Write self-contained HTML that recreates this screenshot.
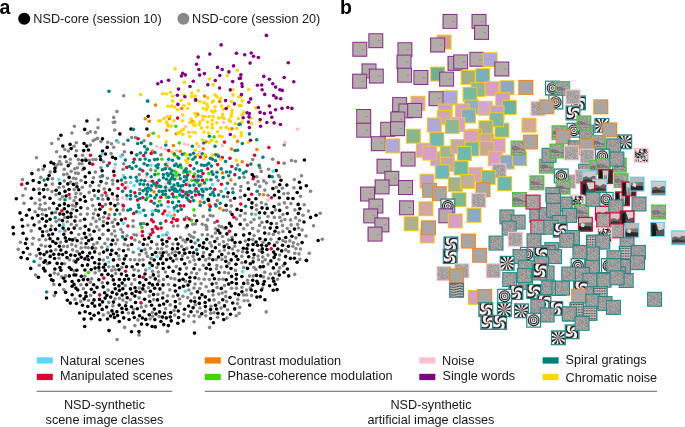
<!DOCTYPE html>
<html><head><meta charset="utf-8"><style>
html,body{margin:0;padding:0;background:#fff;}
svg{display:block;will-change:transform;}
text{font-family:"Liberation Sans",sans-serif;fill:#181818;font-size:12.7px;}
.lb{font-weight:bold;font-size:19.5px;fill:#000;}
</style></head><body>
<svg width="685" height="427" viewBox="0 0 685 427">
<rect width="685" height="427" fill="#fff"/>
<defs>
<pattern id="nz" x="0" y="0" width="12" height="12" patternUnits="userSpaceOnUse"><rect x="0" y="0" width="1" height="1" fill="#fff" fill-opacity="0.1"/><rect x="1" y="0" width="1" height="1" fill="#000" fill-opacity="0.09"/><rect x="3" y="0" width="1" height="1" fill="#000" fill-opacity="0.09"/><rect x="4" y="0" width="1" height="1" fill="#fff" fill-opacity="0.1"/><rect x="5" y="0" width="1" height="1" fill="#fff" fill-opacity="0.1"/><rect x="6" y="0" width="1" height="1" fill="#000" fill-opacity="0.09"/><rect x="7" y="0" width="1" height="1" fill="#fff" fill-opacity="0.1"/><rect x="8" y="0" width="1" height="1" fill="#000" fill-opacity="0.09"/><rect x="9" y="0" width="1" height="1" fill="#fff" fill-opacity="0.1"/><rect x="10" y="0" width="1" height="1" fill="#000" fill-opacity="0.09"/><rect x="11" y="0" width="1" height="1" fill="#000" fill-opacity="0.09"/><rect x="0" y="1" width="1" height="1" fill="#fff" fill-opacity="0.1"/><rect x="2" y="1" width="1" height="1" fill="#000" fill-opacity="0.09"/><rect x="3" y="1" width="1" height="1" fill="#000" fill-opacity="0.09"/><rect x="6" y="1" width="1" height="1" fill="#fff" fill-opacity="0.1"/><rect x="7" y="1" width="1" height="1" fill="#fff" fill-opacity="0.1"/><rect x="9" y="1" width="1" height="1" fill="#000" fill-opacity="0.09"/><rect x="11" y="1" width="1" height="1" fill="#000" fill-opacity="0.09"/><rect x="0" y="2" width="1" height="1" fill="#000" fill-opacity="0.09"/><rect x="1" y="2" width="1" height="1" fill="#000" fill-opacity="0.09"/><rect x="2" y="2" width="1" height="1" fill="#fff" fill-opacity="0.1"/><rect x="4" y="2" width="1" height="1" fill="#000" fill-opacity="0.09"/><rect x="5" y="2" width="1" height="1" fill="#fff" fill-opacity="0.1"/><rect x="7" y="2" width="1" height="1" fill="#fff" fill-opacity="0.1"/><rect x="8" y="2" width="1" height="1" fill="#fff" fill-opacity="0.1"/><rect x="9" y="2" width="1" height="1" fill="#000" fill-opacity="0.09"/><rect x="10" y="2" width="1" height="1" fill="#000" fill-opacity="0.09"/><rect x="11" y="2" width="1" height="1" fill="#000" fill-opacity="0.09"/><rect x="1" y="3" width="1" height="1" fill="#fff" fill-opacity="0.1"/><rect x="2" y="3" width="1" height="1" fill="#fff" fill-opacity="0.1"/><rect x="3" y="3" width="1" height="1" fill="#fff" fill-opacity="0.1"/><rect x="4" y="3" width="1" height="1" fill="#fff" fill-opacity="0.1"/><rect x="5" y="3" width="1" height="1" fill="#000" fill-opacity="0.09"/><rect x="8" y="3" width="1" height="1" fill="#000" fill-opacity="0.09"/><rect x="9" y="3" width="1" height="1" fill="#fff" fill-opacity="0.1"/><rect x="10" y="3" width="1" height="1" fill="#fff" fill-opacity="0.1"/><rect x="1" y="4" width="1" height="1" fill="#000" fill-opacity="0.09"/><rect x="3" y="4" width="1" height="1" fill="#000" fill-opacity="0.09"/><rect x="4" y="4" width="1" height="1" fill="#fff" fill-opacity="0.1"/><rect x="6" y="4" width="1" height="1" fill="#000" fill-opacity="0.09"/><rect x="7" y="4" width="1" height="1" fill="#fff" fill-opacity="0.1"/><rect x="8" y="4" width="1" height="1" fill="#000" fill-opacity="0.09"/><rect x="11" y="4" width="1" height="1" fill="#fff" fill-opacity="0.1"/><rect x="1" y="5" width="1" height="1" fill="#fff" fill-opacity="0.1"/><rect x="3" y="5" width="1" height="1" fill="#fff" fill-opacity="0.1"/><rect x="4" y="5" width="1" height="1" fill="#fff" fill-opacity="0.1"/><rect x="5" y="5" width="1" height="1" fill="#fff" fill-opacity="0.1"/><rect x="8" y="5" width="1" height="1" fill="#fff" fill-opacity="0.1"/><rect x="10" y="5" width="1" height="1" fill="#000" fill-opacity="0.09"/><rect x="3" y="6" width="1" height="1" fill="#000" fill-opacity="0.09"/><rect x="4" y="6" width="1" height="1" fill="#fff" fill-opacity="0.1"/><rect x="6" y="6" width="1" height="1" fill="#000" fill-opacity="0.09"/><rect x="7" y="6" width="1" height="1" fill="#fff" fill-opacity="0.1"/><rect x="8" y="6" width="1" height="1" fill="#000" fill-opacity="0.09"/><rect x="9" y="6" width="1" height="1" fill="#000" fill-opacity="0.09"/><rect x="10" y="6" width="1" height="1" fill="#000" fill-opacity="0.09"/><rect x="0" y="7" width="1" height="1" fill="#000" fill-opacity="0.09"/><rect x="1" y="7" width="1" height="1" fill="#000" fill-opacity="0.09"/><rect x="2" y="7" width="1" height="1" fill="#fff" fill-opacity="0.1"/><rect x="4" y="7" width="1" height="1" fill="#000" fill-opacity="0.09"/><rect x="5" y="7" width="1" height="1" fill="#fff" fill-opacity="0.1"/><rect x="6" y="7" width="1" height="1" fill="#fff" fill-opacity="0.1"/><rect x="10" y="7" width="1" height="1" fill="#000" fill-opacity="0.09"/><rect x="11" y="7" width="1" height="1" fill="#fff" fill-opacity="0.1"/><rect x="0" y="8" width="1" height="1" fill="#fff" fill-opacity="0.1"/><rect x="3" y="8" width="1" height="1" fill="#000" fill-opacity="0.09"/><rect x="4" y="8" width="1" height="1" fill="#000" fill-opacity="0.09"/><rect x="5" y="8" width="1" height="1" fill="#000" fill-opacity="0.09"/><rect x="6" y="8" width="1" height="1" fill="#000" fill-opacity="0.09"/><rect x="7" y="8" width="1" height="1" fill="#fff" fill-opacity="0.1"/><rect x="8" y="8" width="1" height="1" fill="#fff" fill-opacity="0.1"/><rect x="9" y="8" width="1" height="1" fill="#000" fill-opacity="0.09"/><rect x="10" y="8" width="1" height="1" fill="#000" fill-opacity="0.09"/><rect x="11" y="8" width="1" height="1" fill="#fff" fill-opacity="0.1"/><rect x="0" y="9" width="1" height="1" fill="#fff" fill-opacity="0.1"/><rect x="1" y="9" width="1" height="1" fill="#fff" fill-opacity="0.1"/><rect x="4" y="9" width="1" height="1" fill="#fff" fill-opacity="0.1"/><rect x="7" y="9" width="1" height="1" fill="#000" fill-opacity="0.09"/><rect x="0" y="10" width="1" height="1" fill="#fff" fill-opacity="0.1"/><rect x="1" y="10" width="1" height="1" fill="#fff" fill-opacity="0.1"/><rect x="2" y="10" width="1" height="1" fill="#000" fill-opacity="0.09"/><rect x="4" y="10" width="1" height="1" fill="#000" fill-opacity="0.09"/><rect x="5" y="10" width="1" height="1" fill="#000" fill-opacity="0.09"/><rect x="6" y="10" width="1" height="1" fill="#000" fill-opacity="0.09"/><rect x="7" y="10" width="1" height="1" fill="#000" fill-opacity="0.09"/><rect x="8" y="10" width="1" height="1" fill="#fff" fill-opacity="0.1"/><rect x="9" y="10" width="1" height="1" fill="#000" fill-opacity="0.09"/><rect x="10" y="10" width="1" height="1" fill="#000" fill-opacity="0.09"/><rect x="11" y="10" width="1" height="1" fill="#000" fill-opacity="0.09"/><rect x="0" y="11" width="1" height="1" fill="#000" fill-opacity="0.09"/><rect x="1" y="11" width="1" height="1" fill="#fff" fill-opacity="0.1"/><rect x="2" y="11" width="1" height="1" fill="#000" fill-opacity="0.09"/><rect x="5" y="11" width="1" height="1" fill="#000" fill-opacity="0.09"/><rect x="6" y="11" width="1" height="1" fill="#000" fill-opacity="0.09"/><rect x="7" y="11" width="1" height="1" fill="#fff" fill-opacity="0.1"/><rect x="8" y="11" width="1" height="1" fill="#fff" fill-opacity="0.1"/><rect x="9" y="11" width="1" height="1" fill="#000" fill-opacity="0.09"/></pattern>
<symbol id="fine" viewBox="0 0 15 15"><rect width="15" height="15" fill="#b8b2b2"/><path d="M0 1.5H15M0 4.5H15M0 7.5H15M0 10.5H15M0 13.5H15" stroke="#2a2626" stroke-width="0.9" stroke-dasharray="2 1"/><path d="M1.5 0V15M4.5 0V15M7.5 0V15M10.5 0V15M13.5 0V15" stroke="#f4eeee" stroke-width="0.6" stroke-dasharray="1 2"/></symbol>
<clipPath id="cp"><rect x="0" y="0" width="15" height="15"/></clipPath>
<symbol id="ring" viewBox="0 0 15 15"><rect width="15" height="15" fill="#f4eeee"/><circle cx="7.5" cy="7.5" r="6.2" fill="none" stroke="#222" stroke-width="1.3"/><circle cx="7.5" cy="7.5" r="3.9" fill="none" stroke="#222" stroke-width="1.2"/><circle cx="7.5" cy="7.5" r="1.6" fill="none" stroke="#222" stroke-width="1"/></symbol>
<symbol id="pin" viewBox="0 0 15 15"><rect width="15" height="15" fill="#f4eeee"/><g clip-path="url(#cp)"><path d="M7.50 7.50L8.40 7.68L9.19 8.21L9.77 9.05L10.05 10.13L9.98 11.36L9.49 12.63L8.59 13.82L7.29 14.83L5.63 15.53L3.69 15.84L1.57 15.65L-0.61 14.93L-3.43 8.74L-2.09 10.61L-0.49 12.00L1.26 12.90L3.02 13.30L4.67 13.26L6.10 12.82L7.24 12.08L8.02 11.13L8.42 10.09L8.45 9.07L8.12 8.18L7.50 7.50ZM7.50 7.50L7.32 8.40L6.79 9.19L5.95 9.77L4.87 10.05L3.64 9.98L2.37 9.49L1.18 8.59L0.17 7.29L-0.53 5.63L-0.84 3.69L-0.65 1.57L0.07 -0.61L6.26 -3.43L4.39 -2.09L3.00 -0.49L2.10 1.26L1.70 3.02L1.74 4.67L2.18 6.10L2.92 7.24L3.87 8.02L4.91 8.42L5.93 8.45L6.82 8.12L7.50 7.50ZM7.50 7.50L6.60 7.32L5.81 6.79L5.23 5.95L4.95 4.87L5.02 3.64L5.51 2.37L6.41 1.18L7.71 0.17L9.37 -0.53L11.31 -0.84L13.43 -0.65L15.61 0.07L18.43 6.26L17.09 4.39L15.49 3.00L13.74 2.10L11.98 1.70L10.33 1.74L8.90 2.18L7.76 2.92L6.98 3.87L6.58 4.91L6.55 5.93L6.88 6.82L7.50 7.50ZM7.50 7.50L7.68 6.60L8.21 5.81L9.05 5.23L10.13 4.95L11.36 5.02L12.63 5.51L13.82 6.41L14.83 7.71L15.53 9.37L15.84 11.31L15.65 13.43L14.93 15.61L8.74 18.43L10.61 17.09L12.00 15.49L12.90 13.74L13.30 11.98L13.26 10.33L12.82 8.90L12.08 7.76L11.13 6.98L10.09 6.58L9.07 6.55L8.18 6.88L7.50 7.50Z" fill="#2a2626"/></g></symbol>
<symbol id="star" viewBox="0 0 15 15"><rect width="15" height="15" fill="#f4eeee"/><g clip-path="url(#cp)"><path d="M7.5 7.5L18.50 7.50L17.96 10.90ZM7.5 7.5L16.40 13.97L13.97 16.40ZM7.5 7.5L10.90 17.96L7.50 18.50ZM7.5 7.5L4.10 17.96L1.03 16.40ZM7.5 7.5L-1.40 13.97L-2.96 10.90ZM7.5 7.5L-3.50 7.50L-2.96 4.10ZM7.5 7.5L-1.40 1.03L1.03 -1.40ZM7.5 7.5L4.10 -2.96L7.50 -3.50ZM7.5 7.5L10.90 -2.96L13.97 -1.40ZM7.5 7.5L16.40 1.03L17.96 4.10Z" fill="#2a2626"/></g></symbol>
<symbol id="zebra" viewBox="0 0 15 15"><rect width="15" height="15" fill="#eee8e8"/><path d="M0 1.0Q3.75 -0.2 7.5 1.0T15 1.0M0 2.9Q3.75 1.7 7.5 2.9T15 2.9M0 4.8Q3.75 3.6 7.5 4.8T15 4.8M0 6.7Q3.75 5.5 7.5 6.7T15 6.7M0 8.6Q3.75 7.4 7.5 8.6T15 8.6M0 10.5Q3.75 9.3 7.5 10.5T15 10.5M0 12.4Q3.75 11.2 7.5 12.4T15 12.4M0 14.3Q3.75 13.1 7.5 14.3T15 14.3" fill="none" stroke="#2a2626" stroke-width="0.9"/></symbol>
<symbol id="photo" viewBox="0 0 15 15"><rect width="15" height="15" fill="#d0caca"/><path d="M0 7L4 5.5L8 7.5L12 5L15 6L15 15L0 15Z" fill="#6a6464"/><path d="M0 10L6 9L15 11L15 15L0 15Z" fill="#3a3636"/><path d="M0 13L15 12.5L15 15L0 15Z" fill="#8a8484"/></symbol>
<symbol id="dark" viewBox="0 0 15 15"><rect width="15" height="15" fill="#3c3838"/><path d="M6 0L15 0L15 7L9 9Z" fill="#d8d2d0"/><path d="M0 10L15 8L15 15L0 15Z" fill="#5a5454"/><path d="M2 3L5 2L6 15L1 15Z" fill="#151313"/></symbol>
<symbol id="bw" viewBox="0 0 15 15"><rect width="15" height="15" fill="#ece6e6"/><path d="M6 0h1v1h-1zM10 0h1v1h-1zM11 0h1v1h-1zM12 0h1v1h-1zM0 1h1v1h-1zM5 1h1v1h-1zM6 1h1v1h-1zM8 1h1v1h-1zM9 1h1v1h-1zM10 1h1v1h-1zM11 1h1v1h-1zM13 1h1v1h-1zM5 2h1v1h-1zM10 2h1v1h-1zM11 2h1v1h-1zM12 2h1v1h-1zM13 2h1v1h-1zM0 3h1v1h-1zM2 3h1v1h-1zM5 3h1v1h-1zM6 3h1v1h-1zM10 3h1v1h-1zM11 3h1v1h-1zM14 3h1v1h-1zM0 4h1v1h-1zM1 4h1v1h-1zM4 4h1v1h-1zM5 4h1v1h-1zM6 4h1v1h-1zM7 4h1v1h-1zM9 4h1v1h-1zM11 4h1v1h-1zM12 4h1v1h-1zM14 4h1v1h-1zM1 5h1v1h-1zM2 5h1v1h-1zM3 5h1v1h-1zM4 5h1v1h-1zM7 5h1v1h-1zM9 5h1v1h-1zM10 5h1v1h-1zM13 5h1v1h-1zM0 6h1v1h-1zM1 6h1v1h-1zM3 6h1v1h-1zM4 6h1v1h-1zM5 6h1v1h-1zM6 6h1v1h-1zM8 6h1v1h-1zM10 6h1v1h-1zM1 7h1v1h-1zM2 7h1v1h-1zM5 7h1v1h-1zM6 7h1v1h-1zM9 7h1v1h-1zM13 7h1v1h-1zM14 7h1v1h-1zM0 8h1v1h-1zM2 8h1v1h-1zM4 8h1v1h-1zM7 8h1v1h-1zM8 8h1v1h-1zM10 8h1v1h-1zM11 8h1v1h-1zM0 9h1v1h-1zM2 9h1v1h-1zM3 9h1v1h-1zM4 9h1v1h-1zM5 9h1v1h-1zM6 9h1v1h-1zM7 9h1v1h-1zM8 9h1v1h-1zM10 9h1v1h-1zM11 9h1v1h-1zM2 10h1v1h-1zM3 10h1v1h-1zM4 10h1v1h-1zM8 10h1v1h-1zM12 10h1v1h-1zM14 10h1v1h-1zM7 11h1v1h-1zM11 11h1v1h-1zM1 12h1v1h-1zM4 12h1v1h-1zM9 12h1v1h-1zM12 12h1v1h-1zM14 12h1v1h-1zM1 13h1v1h-1zM4 13h1v1h-1zM9 13h1v1h-1zM10 13h1v1h-1zM11 13h1v1h-1zM13 13h1v1h-1zM14 13h1v1h-1zM2 14h1v1h-1zM4 14h1v1h-1zM6 14h1v1h-1zM7 14h1v1h-1zM11 14h1v1h-1zM13 14h1v1h-1zM14 14h1v1h-1z" fill="#222"/></symbol>
<symbol id="streak" viewBox="0 0 15 15"><rect width="15" height="15" fill="#a6a0a0"/><path d="M0 6Q5 4 9 7T15 8L15 11Q10 9 6 10T0 9Z" fill="#5e5858" fill-opacity="0.55"/><path d="M0 12Q6 11 15 13L15 14Q6 12.5 0 13.5Z" fill="#5e5858" fill-opacity="0.35"/></symbol>
<symbol id="photo2" viewBox="0 0 15 15"><rect width="15" height="15" fill="#2e2a2a"/><path d="M4 0L11 0L10 15L5 15Z" fill="#cfc9c8"/><path d="M6 6L9 6L9.5 15L5.5 15Z" fill="#8a8484"/><path d="M0 0L3 0L2 15L0 15Z" fill="#111"/></symbol>
<symbol id="photo3" viewBox="0 0 15 15"><rect width="15" height="15" fill="#7a7474"/><path d="M0 0L15 0L15 5L0 6Z" fill="#bdb7b6"/><path d="M0 9L15 10L15 15L0 15Z" fill="#2c2828"/><path d="M3 6L7 7L6 11L2 10Z" fill="#e0dada"/></symbol>
</defs>
<text class="lb" x="-0.5" y="13.7">a</text>
<text class="lb" x="340" y="14">b</text>
<circle cx="24.2" cy="18.7" r="6" fill="#000"/>
<text x="33.3" y="23.2">NSD-core (session 10)</text>
<circle cx="183.4" cy="18.7" r="6" fill="#888"/>
<text x="192.0" y="23.2">NSD-core (session 20)</text>
<g><circle cx="60.3" cy="156.8" r="1.8" fill="#868686"/><circle cx="156.9" cy="267.5" r="1.8" fill="#868686"/><circle cx="117.1" cy="339.6" r="1.8" fill="#868686"/><circle cx="61.8" cy="276.9" r="1.8" fill="#868686"/><circle cx="264.7" cy="272.2" r="1.8" fill="#868686"/><circle cx="64.8" cy="149.5" r="1.8" fill="#868686"/><circle cx="219.4" cy="244.4" r="1.8" fill="#868686"/><circle cx="65.0" cy="230.9" r="1.8" fill="#868686"/><circle cx="173.4" cy="226.0" r="1.8" fill="#868686"/><circle cx="130.4" cy="259.6" r="1.8" fill="#868686"/><circle cx="284.2" cy="145.0" r="1.8" fill="#868686"/><circle cx="70.1" cy="163.5" r="1.8" fill="#868686"/><circle cx="279.6" cy="255.0" r="1.8" fill="#868686"/><circle cx="221.1" cy="191.4" r="1.8" fill="#868686"/><circle cx="40.4" cy="258.6" r="1.8" fill="#868686"/><circle cx="236.2" cy="315.7" r="1.8" fill="#868686"/><circle cx="139.3" cy="288.0" r="1.8" fill="#868686"/><circle cx="226.6" cy="301.4" r="1.8" fill="#868686"/><circle cx="206.7" cy="229.5" r="1.8" fill="#868686"/><circle cx="95.9" cy="159.6" r="1.8" fill="#868686"/><circle cx="188.7" cy="316.1" r="1.8" fill="#868686"/><circle cx="232.1" cy="237.4" r="1.8" fill="#868686"/><circle cx="79.4" cy="163.7" r="1.8" fill="#868686"/><circle cx="291.5" cy="160.5" r="1.8" fill="#868686"/><circle cx="276.3" cy="187.3" r="1.8" fill="#868686"/><circle cx="291.1" cy="224.9" r="1.8" fill="#868686"/><circle cx="217.2" cy="200.6" r="1.8" fill="#868686"/><circle cx="172.8" cy="244.0" r="1.8" fill="#868686"/><circle cx="237.7" cy="165.1" r="1.8" fill="#868686"/><circle cx="158.6" cy="276.0" r="1.8" fill="#868686"/><circle cx="139.4" cy="254.6" r="1.8" fill="#868686"/><circle cx="69.5" cy="259.8" r="1.8" fill="#868686"/><circle cx="98.0" cy="127.7" r="1.8" fill="#868686"/><circle cx="95.4" cy="132.4" r="1.8" fill="#868686"/><circle cx="216.9" cy="265.5" r="1.8" fill="#868686"/><circle cx="133.3" cy="252.3" r="1.8" fill="#868686"/><circle cx="230.4" cy="200.5" r="1.8" fill="#868686"/><circle cx="269.0" cy="233.7" r="1.8" fill="#868686"/><circle cx="218.1" cy="180.6" r="1.8" fill="#868686"/><circle cx="104.9" cy="243.5" r="1.8" fill="#868686"/><circle cx="256.3" cy="205.3" r="1.8" fill="#868686"/><circle cx="174.7" cy="315.1" r="1.8" fill="#868686"/><circle cx="124.6" cy="327.4" r="1.8" fill="#868686"/><circle cx="258.5" cy="259.8" r="1.8" fill="#868686"/><circle cx="231.2" cy="205.9" r="1.8" fill="#868686"/><circle cx="99.6" cy="253.7" r="1.8" fill="#868686"/><circle cx="284.4" cy="202.9" r="1.8" fill="#868686"/><circle cx="61.1" cy="164.3" r="1.8" fill="#868686"/><circle cx="242.6" cy="251.7" r="1.8" fill="#868686"/><circle cx="52.0" cy="191.6" r="1.8" fill="#868686"/><circle cx="63.7" cy="289.6" r="1.8" fill="#868686"/><circle cx="239.8" cy="307.3" r="1.8" fill="#868686"/><circle cx="219.0" cy="279.3" r="1.8" fill="#868686"/><circle cx="127.0" cy="235.7" r="1.8" fill="#868686"/><circle cx="282.9" cy="214.5" r="1.8" fill="#868686"/><circle cx="250.9" cy="222.2" r="1.8" fill="#868686"/><circle cx="72.6" cy="249.9" r="1.8" fill="#868686"/><circle cx="214.6" cy="222.5" r="1.8" fill="#868686"/><circle cx="101.7" cy="247.2" r="1.8" fill="#868686"/><circle cx="98.2" cy="119.7" r="1.8" fill="#868686"/><circle cx="153.7" cy="299.6" r="1.8" fill="#868686"/><circle cx="111.8" cy="270.4" r="1.8" fill="#868686"/><circle cx="216.3" cy="283.3" r="1.8" fill="#868686"/><circle cx="247.5" cy="280.2" r="1.8" fill="#868686"/><circle cx="85.3" cy="247.2" r="1.8" fill="#868686"/><circle cx="113.5" cy="226.5" r="1.8" fill="#868686"/><circle cx="80.2" cy="220.7" r="1.8" fill="#868686"/><circle cx="224.6" cy="272.5" r="1.8" fill="#868686"/><circle cx="36.4" cy="255.7" r="1.8" fill="#868686"/><circle cx="168.4" cy="284.6" r="1.8" fill="#868686"/><circle cx="279.7" cy="267.9" r="1.8" fill="#868686"/><circle cx="234.7" cy="246.3" r="1.8" fill="#868686"/><circle cx="76.4" cy="225.2" r="1.8" fill="#868686"/><circle cx="166.4" cy="252.1" r="1.8" fill="#868686"/><circle cx="35.6" cy="275.0" r="1.8" fill="#868686"/><circle cx="278.9" cy="259.5" r="1.8" fill="#868686"/><circle cx="272.6" cy="159.2" r="1.8" fill="#868686"/><circle cx="193.9" cy="288.1" r="1.8" fill="#868686"/><circle cx="40.2" cy="204.7" r="1.8" fill="#868686"/><circle cx="186.6" cy="217.3" r="1.8" fill="#868686"/><circle cx="210.2" cy="215.5" r="1.8" fill="#868686"/><circle cx="39.2" cy="221.9" r="1.8" fill="#868686"/><circle cx="255.9" cy="269.4" r="1.8" fill="#868686"/><circle cx="262.7" cy="257.0" r="1.8" fill="#868686"/><circle cx="166.4" cy="234.8" r="1.8" fill="#868686"/><circle cx="119.3" cy="259.2" r="1.8" fill="#868686"/><circle cx="294.3" cy="179.6" r="1.8" fill="#868686"/><circle cx="294.8" cy="253.3" r="1.8" fill="#868686"/><circle cx="199.6" cy="269.7" r="1.8" fill="#868686"/><circle cx="212.0" cy="236.5" r="1.8" fill="#868686"/><circle cx="286.9" cy="207.5" r="1.8" fill="#868686"/><circle cx="244.6" cy="219.8" r="1.8" fill="#868686"/><circle cx="225.7" cy="291.7" r="1.8" fill="#868686"/><circle cx="125.2" cy="285.6" r="1.8" fill="#868686"/><circle cx="192.7" cy="224.3" r="1.8" fill="#868686"/><circle cx="96.0" cy="221.4" r="1.8" fill="#868686"/><circle cx="200.0" cy="308.0" r="1.8" fill="#868686"/><circle cx="114.8" cy="130.0" r="1.8" fill="#868686"/><circle cx="146.1" cy="253.1" r="1.8" fill="#868686"/><circle cx="56.6" cy="151.7" r="1.8" fill="#868686"/><circle cx="105.5" cy="204.6" r="1.8" fill="#868686"/><circle cx="22.5" cy="179.6" r="1.8" fill="#868686"/><circle cx="195.3" cy="223.9" r="1.8" fill="#868686"/><circle cx="159.2" cy="316.6" r="1.8" fill="#868686"/><circle cx="292.9" cy="246.2" r="1.8" fill="#868686"/><circle cx="265.2" cy="259.7" r="1.8" fill="#868686"/><circle cx="107.5" cy="178.3" r="1.8" fill="#868686"/><circle cx="67.1" cy="174.0" r="1.8" fill="#868686"/><circle cx="150.1" cy="319.0" r="1.8" fill="#868686"/><circle cx="123.1" cy="169.3" r="1.8" fill="#868686"/><circle cx="115.3" cy="236.1" r="1.8" fill="#868686"/><circle cx="103.4" cy="221.6" r="1.8" fill="#868686"/><circle cx="92.8" cy="205.6" r="1.8" fill="#868686"/><circle cx="261.4" cy="202.7" r="1.8" fill="#868686"/><circle cx="210.8" cy="313.2" r="1.8" fill="#868686"/><circle cx="174.1" cy="310.5" r="1.8" fill="#868686"/><circle cx="158.9" cy="280.9" r="1.8" fill="#868686"/><circle cx="74.4" cy="126.2" r="1.8" fill="#868686"/><circle cx="115.0" cy="298.9" r="1.8" fill="#868686"/><circle cx="103.4" cy="260.0" r="1.8" fill="#868686"/><circle cx="297.9" cy="244.3" r="1.8" fill="#868686"/><circle cx="294.9" cy="209.9" r="1.8" fill="#868686"/><circle cx="113.7" cy="117.4" r="1.8" fill="#868686"/><circle cx="95.4" cy="172.1" r="1.8" fill="#868686"/><circle cx="171.0" cy="278.3" r="1.8" fill="#868686"/><circle cx="167.6" cy="295.7" r="1.8" fill="#868686"/><circle cx="259.9" cy="186.4" r="1.8" fill="#868686"/><circle cx="169.8" cy="289.9" r="1.8" fill="#868686"/><circle cx="179.5" cy="299.0" r="1.8" fill="#868686"/><circle cx="74.2" cy="189.6" r="1.8" fill="#868686"/><circle cx="189.2" cy="234.8" r="1.8" fill="#868686"/><circle cx="94.7" cy="195.7" r="1.8" fill="#868686"/><circle cx="215.5" cy="233.0" r="1.8" fill="#868686"/><circle cx="45.1" cy="203.2" r="1.8" fill="#868686"/><circle cx="123.7" cy="144.2" r="1.8" fill="#868686"/><circle cx="259.5" cy="194.6" r="1.8" fill="#868686"/><circle cx="145.2" cy="291.5" r="1.8" fill="#868686"/><circle cx="168.7" cy="254.9" r="1.8" fill="#868686"/><circle cx="143.7" cy="223.4" r="1.8" fill="#868686"/><circle cx="39.3" cy="208.4" r="1.8" fill="#868686"/><circle cx="273.4" cy="234.4" r="1.8" fill="#868686"/><circle cx="283.1" cy="265.6" r="1.8" fill="#868686"/><circle cx="108.2" cy="312.7" r="1.8" fill="#868686"/><circle cx="274.0" cy="181.7" r="1.8" fill="#868686"/><circle cx="113.7" cy="147.2" r="1.8" fill="#868686"/><circle cx="293.9" cy="187.7" r="1.8" fill="#868686"/><circle cx="266.3" cy="183.0" r="1.8" fill="#868686"/><circle cx="45.4" cy="209.7" r="1.8" fill="#868686"/><circle cx="299.6" cy="220.5" r="1.8" fill="#868686"/><circle cx="137.9" cy="319.9" r="1.8" fill="#868686"/><circle cx="268.0" cy="255.1" r="1.8" fill="#868686"/><circle cx="247.9" cy="300.8" r="1.8" fill="#868686"/><circle cx="221.1" cy="308.1" r="1.8" fill="#868686"/><circle cx="122.6" cy="232.2" r="1.8" fill="#868686"/><circle cx="42.3" cy="214.2" r="1.8" fill="#868686"/><circle cx="295.7" cy="217.9" r="1.8" fill="#868686"/><circle cx="203.2" cy="216.4" r="1.8" fill="#868686"/><circle cx="75.9" cy="246.1" r="1.8" fill="#868686"/><circle cx="216.3" cy="259.6" r="1.8" fill="#868686"/><circle cx="68.4" cy="151.0" r="1.8" fill="#868686"/><circle cx="122.9" cy="300.1" r="1.8" fill="#868686"/><circle cx="156.8" cy="244.4" r="1.8" fill="#868686"/><circle cx="97.1" cy="242.9" r="1.8" fill="#868686"/><circle cx="45.5" cy="246.3" r="1.8" fill="#868686"/><circle cx="161.7" cy="248.8" r="1.8" fill="#868686"/><circle cx="139.7" cy="189.5" r="1.8" fill="#868686"/><circle cx="93.0" cy="218.1" r="1.8" fill="#868686"/><circle cx="225.7" cy="296.4" r="1.8" fill="#868686"/><circle cx="219.0" cy="302.8" r="1.8" fill="#868686"/><circle cx="87.3" cy="214.1" r="1.8" fill="#868686"/><circle cx="119.0" cy="249.3" r="1.8" fill="#868686"/><circle cx="258.2" cy="231.1" r="1.8" fill="#868686"/><circle cx="163.5" cy="279.5" r="1.8" fill="#868686"/><circle cx="55.9" cy="194.8" r="1.8" fill="#868686"/><circle cx="240.5" cy="190.8" r="1.8" fill="#868686"/><circle cx="254.1" cy="235.6" r="1.8" fill="#868686"/><circle cx="249.4" cy="275.9" r="1.8" fill="#868686"/><circle cx="250.3" cy="288.1" r="1.8" fill="#868686"/><circle cx="141.3" cy="307.1" r="1.8" fill="#868686"/><circle cx="76.4" cy="150.8" r="1.8" fill="#868686"/><circle cx="173.2" cy="296.3" r="1.8" fill="#868686"/><circle cx="64.7" cy="217.5" r="1.8" fill="#868686"/><circle cx="284.2" cy="163.3" r="1.8" fill="#868686"/><circle cx="295.9" cy="248.6" r="1.8" fill="#868686"/><circle cx="236.5" cy="219.0" r="1.8" fill="#868686"/><circle cx="195.3" cy="304.8" r="1.8" fill="#868686"/><circle cx="49.4" cy="208.4" r="1.8" fill="#868686"/><circle cx="95.4" cy="209.8" r="1.8" fill="#868686"/><circle cx="108.8" cy="266.8" r="1.8" fill="#868686"/><circle cx="71.2" cy="171.2" r="1.8" fill="#868686"/><circle cx="103.4" cy="161.8" r="1.8" fill="#868686"/><circle cx="71.9" cy="133.0" r="1.8" fill="#868686"/><circle cx="91.8" cy="199.6" r="1.8" fill="#868686"/><circle cx="72.4" cy="205.3" r="1.8" fill="#868686"/><circle cx="139.1" cy="297.9" r="1.8" fill="#868686"/><circle cx="247.9" cy="182.8" r="1.8" fill="#868686"/><circle cx="186.5" cy="268.1" r="1.8" fill="#868686"/><circle cx="165.4" cy="272.0" r="1.8" fill="#868686"/><circle cx="54.3" cy="273.1" r="1.8" fill="#868686"/><circle cx="225.5" cy="257.1" r="1.8" fill="#868686"/><circle cx="78.8" cy="234.5" r="1.8" fill="#868686"/><circle cx="115.7" cy="273.6" r="1.8" fill="#868686"/><circle cx="228.5" cy="253.2" r="1.8" fill="#868686"/><circle cx="216.5" cy="268.8" r="1.8" fill="#868686"/><circle cx="59.1" cy="219.8" r="1.8" fill="#868686"/><circle cx="243.7" cy="295.0" r="1.8" fill="#868686"/><circle cx="186.2" cy="227.4" r="1.8" fill="#868686"/><circle cx="253.3" cy="258.0" r="1.8" fill="#868686"/><circle cx="182.9" cy="296.2" r="1.8" fill="#868686"/><circle cx="103.6" cy="217.3" r="1.8" fill="#868686"/><circle cx="74.0" cy="270.9" r="1.8" fill="#868686"/><circle cx="56.1" cy="221.6" r="1.8" fill="#868686"/><circle cx="63.6" cy="186.8" r="1.8" fill="#868686"/><circle cx="146.0" cy="306.1" r="1.8" fill="#868686"/><circle cx="102.9" cy="234.4" r="1.8" fill="#868686"/><circle cx="255.4" cy="184.5" r="1.8" fill="#868686"/><circle cx="115.3" cy="269.7" r="1.8" fill="#868686"/><circle cx="205.4" cy="311.4" r="1.8" fill="#868686"/><circle cx="287.3" cy="228.5" r="1.8" fill="#868686"/><circle cx="247.2" cy="224.9" r="1.8" fill="#868686"/><circle cx="268.1" cy="264.1" r="1.8" fill="#868686"/><circle cx="258.0" cy="256.1" r="1.8" fill="#868686"/><circle cx="36.5" cy="157.7" r="1.8" fill="#868686"/><circle cx="202.3" cy="224.3" r="1.8" fill="#868686"/><circle cx="244.1" cy="300.8" r="1.8" fill="#868686"/><circle cx="308.4" cy="211.1" r="1.8" fill="#868686"/><circle cx="134.8" cy="259.7" r="1.8" fill="#868686"/><circle cx="113.3" cy="122.5" r="1.8" fill="#868686"/><circle cx="227.5" cy="196.7" r="1.8" fill="#868686"/><circle cx="150.8" cy="169.9" r="1.8" fill="#868686"/><circle cx="218.7" cy="294.0" r="1.8" fill="#868686"/><circle cx="302.1" cy="230.0" r="1.8" fill="#868686"/><circle cx="75.5" cy="197.3" r="1.8" fill="#868686"/><circle cx="231.5" cy="288.3" r="1.8" fill="#868686"/><circle cx="116.9" cy="111.6" r="1.8" fill="#868686"/><circle cx="223.4" cy="210.3" r="1.8" fill="#868686"/><circle cx="205.6" cy="273.7" r="1.8" fill="#868686"/><circle cx="189.8" cy="261.9" r="1.8" fill="#868686"/><circle cx="241.9" cy="262.8" r="1.8" fill="#868686"/><circle cx="81.1" cy="247.9" r="1.8" fill="#868686"/><circle cx="114.9" cy="219.6" r="1.8" fill="#868686"/><circle cx="219.5" cy="251.2" r="1.8" fill="#868686"/><circle cx="121.8" cy="267.6" r="1.8" fill="#868686"/><circle cx="95.6" cy="248.2" r="1.8" fill="#868686"/><circle cx="91.7" cy="278.9" r="1.8" fill="#868686"/><circle cx="58.1" cy="164.3" r="1.8" fill="#868686"/><circle cx="263.4" cy="276.9" r="1.8" fill="#868686"/><circle cx="283.8" cy="193.8" r="1.8" fill="#868686"/><circle cx="206.7" cy="226.9" r="1.8" fill="#868686"/><circle cx="117.5" cy="199.6" r="1.8" fill="#868686"/><circle cx="224.2" cy="228.1" r="1.8" fill="#868686"/><circle cx="106.7" cy="195.8" r="1.8" fill="#868686"/><circle cx="112.9" cy="305.9" r="1.8" fill="#868686"/><circle cx="281.2" cy="221.0" r="1.8" fill="#868686"/><circle cx="55.8" cy="166.5" r="1.8" fill="#868686"/><circle cx="246.6" cy="290.0" r="1.8" fill="#868686"/><circle cx="82.8" cy="169.7" r="1.8" fill="#868686"/><circle cx="262.5" cy="261.9" r="1.8" fill="#868686"/><circle cx="100.2" cy="176.8" r="1.8" fill="#868686"/><circle cx="145.7" cy="270.1" r="1.8" fill="#868686"/><circle cx="227.1" cy="244.5" r="1.8" fill="#868686"/><circle cx="120.9" cy="229.5" r="1.8" fill="#868686"/><circle cx="228.6" cy="240.0" r="1.8" fill="#868686"/><circle cx="205.8" cy="225.2" r="1.8" fill="#868686"/><circle cx="261.2" cy="171.4" r="1.8" fill="#868686"/><circle cx="111.1" cy="153.6" r="1.8" fill="#868686"/><circle cx="47.4" cy="263.7" r="1.8" fill="#868686"/><circle cx="185.6" cy="241.9" r="1.8" fill="#868686"/><circle cx="133.7" cy="309.3" r="1.8" fill="#868686"/><circle cx="135.5" cy="137.5" r="1.8" fill="#868686"/><circle cx="279.5" cy="176.8" r="1.8" fill="#868686"/><circle cx="226.5" cy="210.3" r="1.8" fill="#868686"/><circle cx="152.3" cy="312.5" r="1.8" fill="#868686"/><circle cx="263.7" cy="180.9" r="1.8" fill="#868686"/><circle cx="90.2" cy="185.9" r="1.8" fill="#868686"/><circle cx="32.3" cy="244.1" r="1.8" fill="#868686"/><circle cx="313.5" cy="225.8" r="1.8" fill="#868686"/><circle cx="259.3" cy="250.6" r="1.8" fill="#868686"/><circle cx="80.2" cy="228.5" r="1.8" fill="#868686"/><circle cx="59.6" cy="161.5" r="1.8" fill="#868686"/><circle cx="84.8" cy="276.1" r="1.8" fill="#868686"/><circle cx="157.9" cy="294.4" r="1.8" fill="#868686"/><circle cx="186.7" cy="248.4" r="1.8" fill="#868686"/><circle cx="261.9" cy="222.4" r="1.8" fill="#868686"/><circle cx="182.5" cy="255.8" r="1.8" fill="#868686"/><circle cx="294.7" cy="274.4" r="1.8" fill="#868686"/><circle cx="63.6" cy="246.4" r="1.8" fill="#868686"/><circle cx="55.7" cy="249.8" r="1.8" fill="#868686"/><circle cx="70.5" cy="182.1" r="1.8" fill="#868686"/><circle cx="118.0" cy="203.7" r="1.8" fill="#868686"/><circle cx="235.1" cy="184.2" r="1.8" fill="#868686"/><circle cx="117.5" cy="239.9" r="1.8" fill="#868686"/><circle cx="223.5" cy="241.8" r="1.8" fill="#868686"/><circle cx="82.0" cy="238.8" r="1.8" fill="#868686"/><circle cx="77.4" cy="167.8" r="1.8" fill="#868686"/><circle cx="85.6" cy="159.0" r="1.8" fill="#868686"/><circle cx="52.3" cy="184.0" r="1.8" fill="#868686"/><circle cx="122.3" cy="155.1" r="1.8" fill="#868686"/><circle cx="213.1" cy="295.0" r="1.8" fill="#868686"/><circle cx="78.3" cy="173.4" r="1.8" fill="#868686"/><circle cx="240.4" cy="197.3" r="1.8" fill="#868686"/><circle cx="45.8" cy="239.8" r="1.8" fill="#868686"/><circle cx="124.4" cy="151.7" r="1.8" fill="#868686"/><circle cx="41.1" cy="245.3" r="1.8" fill="#868686"/><circle cx="279.1" cy="204.3" r="1.8" fill="#868686"/><circle cx="196.6" cy="273.6" r="1.8" fill="#868686"/><circle cx="259.5" cy="218.0" r="1.8" fill="#868686"/><circle cx="163.0" cy="293.1" r="1.8" fill="#868686"/><circle cx="75.4" cy="206.3" r="1.8" fill="#868686"/><circle cx="39.2" cy="239.7" r="1.8" fill="#868686"/><circle cx="111.7" cy="234.0" r="1.8" fill="#868686"/><circle cx="221.6" cy="226.9" r="1.8" fill="#868686"/><circle cx="244.1" cy="177.2" r="1.8" fill="#868686"/><circle cx="207.6" cy="234.8" r="1.8" fill="#868686"/><circle cx="35.1" cy="211.7" r="1.8" fill="#868686"/><circle cx="93.1" cy="159.6" r="1.8" fill="#868686"/><circle cx="252.6" cy="228.4" r="1.8" fill="#868686"/><circle cx="264.8" cy="190.1" r="1.8" fill="#868686"/><circle cx="195.0" cy="243.0" r="1.8" fill="#868686"/><circle cx="277.5" cy="279.3" r="1.8" fill="#868686"/><circle cx="209.9" cy="242.9" r="1.8" fill="#868686"/><circle cx="150.6" cy="248.2" r="1.8" fill="#868686"/><circle cx="82.6" cy="155.3" r="1.8" fill="#868686"/><circle cx="295.9" cy="237.9" r="1.8" fill="#868686"/><circle cx="30.0" cy="254.2" r="1.8" fill="#868686"/><circle cx="134.0" cy="234.8" r="1.8" fill="#868686"/><circle cx="133.1" cy="226.4" r="1.8" fill="#868686"/><circle cx="99.2" cy="230.0" r="1.8" fill="#868686"/><circle cx="279.8" cy="217.3" r="1.8" fill="#868686"/><circle cx="35.2" cy="203.2" r="1.8" fill="#868686"/><circle cx="58.5" cy="139.0" r="1.8" fill="#868686"/><circle cx="112.6" cy="180.2" r="1.8" fill="#868686"/><circle cx="199.5" cy="316.6" r="1.8" fill="#868686"/><circle cx="60.0" cy="199.3" r="1.8" fill="#868686"/><circle cx="62.5" cy="196.7" r="1.8" fill="#868686"/><circle cx="245.3" cy="241.0" r="1.8" fill="#868686"/><circle cx="39.7" cy="199.9" r="1.8" fill="#868686"/><circle cx="199.7" cy="288.5" r="1.8" fill="#868686"/><circle cx="185.5" cy="281.2" r="1.8" fill="#868686"/><circle cx="66.5" cy="161.8" r="1.8" fill="#868686"/><circle cx="114.8" cy="122.1" r="1.8" fill="#868686"/><circle cx="90.0" cy="234.9" r="1.8" fill="#868686"/><circle cx="139.0" cy="334.9" r="1.8" fill="#868686"/><circle cx="52.5" cy="178.7" r="1.8" fill="#868686"/><circle cx="278.4" cy="271.6" r="1.8" fill="#868686"/><circle cx="70.3" cy="159.2" r="1.8" fill="#868686"/><circle cx="107.8" cy="239.3" r="1.8" fill="#868686"/><circle cx="195.1" cy="284.0" r="1.8" fill="#868686"/><circle cx="74.0" cy="146.3" r="1.8" fill="#868686"/><circle cx="89.4" cy="160.3" r="1.8" fill="#868686"/><circle cx="152.5" cy="271.4" r="1.8" fill="#868686"/><circle cx="301.5" cy="175.7" r="1.8" fill="#868686"/><circle cx="175.4" cy="251.8" r="1.8" fill="#868686"/><circle cx="123.2" cy="209.9" r="1.8" fill="#868686"/><circle cx="194.1" cy="321.8" r="1.8" fill="#868686"/><circle cx="191.5" cy="272.8" r="1.8" fill="#868686"/><circle cx="222.0" cy="259.4" r="1.8" fill="#868686"/><circle cx="80.9" cy="284.7" r="1.8" fill="#868686"/><circle cx="237.9" cy="299.4" r="1.8" fill="#868686"/><circle cx="74.6" cy="168.8" r="1.8" fill="#868686"/><circle cx="194.6" cy="297.8" r="1.8" fill="#868686"/><circle cx="55.6" cy="212.4" r="1.8" fill="#868686"/><circle cx="107.6" cy="257.5" r="1.8" fill="#868686"/><circle cx="285.6" cy="241.8" r="1.8" fill="#868686"/><circle cx="25.5" cy="188.8" r="1.8" fill="#868686"/><circle cx="243.7" cy="228.7" r="1.8" fill="#868686"/><circle cx="90.3" cy="145.0" r="1.8" fill="#868686"/><circle cx="72.7" cy="209.2" r="1.8" fill="#868686"/><circle cx="263.0" cy="242.4" r="1.8" fill="#868686"/><circle cx="253.1" cy="275.9" r="1.8" fill="#868686"/><circle cx="300.5" cy="249.0" r="1.8" fill="#868686"/><circle cx="74.1" cy="200.8" r="1.8" fill="#868686"/><circle cx="77.1" cy="251.4" r="1.8" fill="#868686"/><circle cx="209.3" cy="279.6" r="1.8" fill="#868686"/><circle cx="157.6" cy="248.8" r="1.8" fill="#868686"/><circle cx="212.9" cy="216.0" r="1.8" fill="#868686"/><circle cx="78.3" cy="159.6" r="1.8" fill="#868686"/><circle cx="268.5" cy="278.2" r="1.8" fill="#868686"/><circle cx="228.6" cy="273.1" r="1.8" fill="#868686"/><circle cx="222.2" cy="293.0" r="1.8" fill="#868686"/><circle cx="282.9" cy="240.5" r="1.8" fill="#868686"/><circle cx="112.3" cy="222.4" r="1.8" fill="#868686"/><circle cx="310.5" cy="191.3" r="1.8" fill="#868686"/><circle cx="74.0" cy="260.9" r="1.8" fill="#868686"/><circle cx="112.8" cy="184.1" r="1.8" fill="#868686"/><circle cx="276.6" cy="223.5" r="1.8" fill="#868686"/><circle cx="219.0" cy="226.0" r="1.8" fill="#868686"/><circle cx="177.8" cy="226.0" r="1.8" fill="#868686"/><circle cx="123.7" cy="163.7" r="1.8" fill="#868686"/><circle cx="88.3" cy="247.7" r="1.8" fill="#868686"/><circle cx="251.7" cy="214.1" r="1.8" fill="#868686"/><circle cx="282.5" cy="225.4" r="1.8" fill="#868686"/><circle cx="241.8" cy="256.2" r="1.8" fill="#868686"/><circle cx="80.6" cy="193.7" r="1.8" fill="#868686"/><circle cx="103.4" cy="315.0" r="1.8" fill="#868686"/><circle cx="188.9" cy="290.0" r="1.8" fill="#868686"/><circle cx="46.9" cy="231.3" r="1.8" fill="#868686"/><circle cx="183.1" cy="240.0" r="1.8" fill="#868686"/><circle cx="290.5" cy="219.9" r="1.8" fill="#868686"/><circle cx="83.4" cy="288.8" r="1.8" fill="#868686"/><circle cx="211.0" cy="306.4" r="1.8" fill="#868686"/><circle cx="124.3" cy="244.2" r="1.8" fill="#868686"/><circle cx="151.0" cy="258.4" r="1.8" fill="#868686"/><circle cx="289.9" cy="240.9" r="1.8" fill="#868686"/><circle cx="288.1" cy="193.3" r="1.8" fill="#868686"/><circle cx="191.3" cy="293.6" r="1.8" fill="#868686"/><circle cx="203.3" cy="265.2" r="1.8" fill="#868686"/><circle cx="123.7" cy="95.7" r="1.8" fill="#868686"/><circle cx="74.9" cy="299.3" r="1.8" fill="#868686"/><circle cx="75.7" cy="216.7" r="1.8" fill="#868686"/><circle cx="232.7" cy="188.8" r="1.8" fill="#868686"/><circle cx="148.5" cy="287.8" r="1.8" fill="#868686"/><circle cx="122.6" cy="205.0" r="1.8" fill="#868686"/><circle cx="278.4" cy="175.5" r="1.8" fill="#868686"/><circle cx="275.4" cy="209.9" r="1.8" fill="#868686"/><circle cx="90.7" cy="295.4" r="1.8" fill="#868686"/><circle cx="180.4" cy="237.4" r="1.8" fill="#868686"/><circle cx="64.3" cy="169.3" r="1.8" fill="#868686"/><circle cx="67.2" cy="221.7" r="1.8" fill="#868686"/><circle cx="217.2" cy="238.6" r="1.8" fill="#868686"/><circle cx="214.1" cy="299.9" r="1.8" fill="#868686"/><circle cx="54.3" cy="295.6" r="1.8" fill="#868686"/><circle cx="259.5" cy="225.4" r="1.8" fill="#868686"/><circle cx="134.9" cy="240.0" r="1.8" fill="#868686"/><circle cx="174.8" cy="278.9" r="1.8" fill="#868686"/><circle cx="130.3" cy="299.8" r="1.8" fill="#868686"/><circle cx="184.0" cy="314.2" r="1.8" fill="#868686"/><circle cx="207.6" cy="219.9" r="1.8" fill="#868686"/><circle cx="246.6" cy="295.0" r="1.8" fill="#868686"/><circle cx="209.1" cy="258.4" r="1.8" fill="#868686"/><circle cx="90.9" cy="224.4" r="1.8" fill="#868686"/><circle cx="128.5" cy="313.0" r="1.8" fill="#868686"/><circle cx="236.5" cy="288.2" r="1.8" fill="#868686"/><circle cx="266.2" cy="311.9" r="1.8" fill="#868686"/><circle cx="75.9" cy="178.7" r="1.8" fill="#868686"/><circle cx="147.5" cy="256.4" r="1.8" fill="#868686"/><circle cx="247.9" cy="283.4" r="1.8" fill="#868686"/><circle cx="82.3" cy="187.2" r="1.8" fill="#868686"/><circle cx="31.2" cy="230.9" r="1.8" fill="#868686"/><circle cx="270.9" cy="239.2" r="1.8" fill="#868686"/><circle cx="134.2" cy="269.8" r="1.8" fill="#868686"/><circle cx="75.2" cy="238.6" r="1.8" fill="#868686"/><circle cx="93.1" cy="140.8" r="1.8" fill="#868686"/><circle cx="152.5" cy="316.3" r="1.8" fill="#868686"/><circle cx="240.2" cy="215.6" r="1.8" fill="#868686"/><circle cx="299.0" cy="253.9" r="1.8" fill="#868686"/><circle cx="306.0" cy="236.0" r="1.8" fill="#868686"/><circle cx="42.2" cy="209.8" r="1.8" fill="#868686"/><circle cx="176.2" cy="266.6" r="1.8" fill="#868686"/><circle cx="131.7" cy="137.5" r="1.8" fill="#868686"/><circle cx="227.6" cy="309.7" r="1.8" fill="#868686"/><circle cx="254.0" cy="267.5" r="1.8" fill="#868686"/><circle cx="282.4" cy="188.2" r="1.8" fill="#868686"/><circle cx="297.6" cy="224.4" r="1.8" fill="#868686"/><circle cx="139.5" cy="242.0" r="1.8" fill="#868686"/><circle cx="119.9" cy="214.0" r="1.8" fill="#868686"/><circle cx="101.0" cy="167.8" r="1.8" fill="#868686"/><circle cx="76.6" cy="183.4" r="1.8" fill="#868686"/><circle cx="161.0" cy="154.7" r="1.8" fill="#868686"/><circle cx="266.0" cy="204.3" r="1.8" fill="#868686"/><circle cx="194.5" cy="215.5" r="1.8" fill="#868686"/><circle cx="298.5" cy="228.0" r="1.8" fill="#868686"/><circle cx="139.3" cy="260.1" r="1.8" fill="#868686"/><circle cx="63.7" cy="174.6" r="1.8" fill="#868686"/><circle cx="20.4" cy="242.3" r="1.8" fill="#868686"/><circle cx="229.1" cy="263.3" r="1.8" fill="#868686"/><circle cx="90.3" cy="131.8" r="1.8" fill="#868686"/><circle cx="303.0" cy="215.3" r="1.8" fill="#868686"/><circle cx="81.1" cy="243.0" r="1.8" fill="#868686"/><circle cx="89.2" cy="192.4" r="1.8" fill="#868686"/><circle cx="205.6" cy="259.9" r="1.8" fill="#868686"/><circle cx="300.5" cy="196.3" r="1.8" fill="#868686"/><circle cx="97.4" cy="138.4" r="1.8" fill="#868686"/><circle cx="144.9" cy="249.4" r="1.8" fill="#868686"/><circle cx="39.3" cy="265.2" r="1.8" fill="#868686"/><circle cx="102.7" cy="199.3" r="1.8" fill="#868686"/><circle cx="59.1" cy="258.2" r="1.8" fill="#868686"/><circle cx="211.4" cy="245.9" r="1.8" fill="#868686"/><circle cx="51.7" cy="143.5" r="1.8" fill="#868686"/><circle cx="80.6" cy="214.2" r="1.8" fill="#868686"/><circle cx="187.7" cy="257.8" r="1.8" fill="#868686"/><circle cx="111.5" cy="143.8" r="1.8" fill="#868686"/><circle cx="194.1" cy="315.8" r="1.8" fill="#868686"/><circle cx="75.5" cy="173.1" r="1.8" fill="#868686"/><circle cx="209.6" cy="327.4" r="1.8" fill="#868686"/><circle cx="58.1" cy="274.1" r="1.8" fill="#868686"/><circle cx="278.7" cy="232.7" r="1.8" fill="#868686"/><circle cx="268.5" cy="169.3" r="1.8" fill="#868686"/><circle cx="252.7" cy="239.6" r="1.8" fill="#868686"/><circle cx="107.7" cy="142.3" r="1.8" fill="#868686"/><circle cx="96.7" cy="226.8" r="1.8" fill="#868686"/><circle cx="160.0" cy="252.8" r="1.8" fill="#868686"/><circle cx="239.1" cy="313.2" r="1.8" fill="#868686"/><circle cx="88.6" cy="300.5" r="1.8" fill="#868686"/><circle cx="167.5" cy="331.4" r="1.8" fill="#868686"/><circle cx="81.0" cy="180.6" r="1.8" fill="#868686"/><circle cx="133.1" cy="220.8" r="1.8" fill="#868686"/><circle cx="197.5" cy="311.7" r="1.8" fill="#868686"/><circle cx="134.8" cy="279.6" r="1.8" fill="#868686"/><circle cx="64.6" cy="263.7" r="1.8" fill="#868686"/><circle cx="69.9" cy="198.1" r="1.8" fill="#868686"/><circle cx="277.1" cy="242.3" r="1.8" fill="#868686"/><circle cx="108.1" cy="290.1" r="1.8" fill="#868686"/><circle cx="27.9" cy="225.2" r="1.8" fill="#868686"/><circle cx="119.5" cy="298.2" r="1.8" fill="#868686"/><circle cx="95.1" cy="272.7" r="1.8" fill="#868686"/><circle cx="116.7" cy="140.8" r="1.8" fill="#868686"/><circle cx="139.2" cy="174.6" r="1.8" fill="#868686"/><circle cx="102.3" cy="282.8" r="1.8" fill="#868686"/><circle cx="93.6" cy="213.8" r="1.8" fill="#868686"/><circle cx="226.9" cy="318.1" r="1.8" fill="#868686"/><circle cx="39.0" cy="189.0" r="1.8" fill="#868686"/><circle cx="99.3" cy="270.6" r="1.8" fill="#868686"/><circle cx="38.4" cy="169.9" r="1.8" fill="#868686"/><circle cx="285.7" cy="249.9" r="1.8" fill="#868686"/><circle cx="134.9" cy="325.6" r="1.8" fill="#868686"/><circle cx="147.5" cy="244.8" r="1.8" fill="#868686"/><circle cx="221.1" cy="267.0" r="1.8" fill="#868686"/><circle cx="101.0" cy="141.6" r="1.8" fill="#868686"/><circle cx="187.7" cy="297.6" r="1.8" fill="#868686"/><circle cx="222.5" cy="236.5" r="1.8" fill="#868686"/><circle cx="93.5" cy="244.6" r="1.8" fill="#868686"/><circle cx="126.3" cy="302.6" r="1.8" fill="#868686"/><circle cx="243.7" cy="267.5" r="1.8" fill="#868686"/><circle cx="320.2" cy="213.2" r="1.8" fill="#868686"/><circle cx="201.1" cy="283.6" r="1.8" fill="#868686"/><circle cx="241.9" cy="287.2" r="1.8" fill="#868686"/><circle cx="106.3" cy="183.2" r="1.8" fill="#868686"/><circle cx="256.9" cy="176.8" r="1.8" fill="#868686"/><circle cx="67.5" cy="246.4" r="1.8" fill="#868686"/><circle cx="194.5" cy="232.2" r="1.8" fill="#868686"/><circle cx="59.1" cy="187.5" r="1.8" fill="#868686"/><circle cx="202.3" cy="234.8" r="1.8" fill="#868686"/><circle cx="252.7" cy="159.6" r="1.8" fill="#868686"/><circle cx="99.6" cy="219.1" r="1.8" fill="#868686"/><circle cx="193.0" cy="256.4" r="1.8" fill="#868686"/><circle cx="204.2" cy="279.3" r="1.8" fill="#868686"/><circle cx="170.2" cy="304.9" r="1.8" fill="#868686"/><circle cx="270.3" cy="274.0" r="1.8" fill="#868686"/><circle cx="125.8" cy="182.5" r="1.8" fill="#868686"/><circle cx="80.7" cy="301.4" r="1.8" fill="#868686"/><circle cx="24.0" cy="203.3" r="1.8" fill="#868686"/><circle cx="208.8" cy="291.3" r="1.8" fill="#868686"/><circle cx="238.0" cy="250.7" r="1.8" fill="#868686"/><circle cx="181.7" cy="246.4" r="1.8" fill="#868686"/><circle cx="65.6" cy="275.9" r="1.8" fill="#868686"/><circle cx="290.9" cy="203.6" r="1.8" fill="#868686"/><circle cx="113.3" cy="266.7" r="1.8" fill="#868686"/><circle cx="217.1" cy="287.6" r="1.8" fill="#868686"/><circle cx="205.7" cy="315.7" r="1.8" fill="#868686"/><circle cx="180.0" cy="303.6" r="1.8" fill="#868686"/><circle cx="295.5" cy="161.3" r="1.8" fill="#868686"/><circle cx="149.3" cy="296.1" r="1.8" fill="#868686"/><circle cx="99.1" cy="185.6" r="1.8" fill="#868686"/><circle cx="18.2" cy="249.3" r="1.8" fill="#868686"/><circle cx="256.6" cy="209.7" r="1.8" fill="#868686"/><circle cx="235.5" cy="270.4" r="1.8" fill="#868686"/><circle cx="118.6" cy="255.8" r="1.8" fill="#868686"/><circle cx="138.4" cy="270.7" r="1.8" fill="#868686"/><circle cx="284.8" cy="219.5" r="1.8" fill="#868686"/><circle cx="40.8" cy="177.4" r="1.8" fill="#868686"/><circle cx="193.6" cy="237.4" r="1.8" fill="#868686"/><circle cx="102.0" cy="195.3" r="1.8" fill="#868686"/><circle cx="143.0" cy="259.8" r="1.8" fill="#868686"/><circle cx="268.0" cy="195.3" r="1.8" fill="#868686"/><circle cx="288.6" cy="251.6" r="1.8" fill="#868686"/><circle cx="22.9" cy="195.5" r="1.8" fill="#868686"/><circle cx="165.6" cy="308.7" r="1.8" fill="#868686"/><circle cx="71.2" cy="224.3" r="1.8" fill="#868686"/><circle cx="215.5" cy="228.7" r="1.8" fill="#868686"/><circle cx="95.0" cy="139.5" r="1.8" fill="#868686"/><circle cx="76.0" cy="193.4" r="1.8" fill="#868686"/><circle cx="322.3" cy="239.3" r="1.8" fill="#868686"/><circle cx="158.3" cy="272.1" r="1.8" fill="#868686"/><circle cx="150.3" cy="277.2" r="1.8" fill="#868686"/><circle cx="237.4" cy="303.6" r="1.8" fill="#868686"/><circle cx="214.0" cy="312.7" r="1.8" fill="#868686"/><circle cx="90.3" cy="282.4" r="1.8" fill="#868686"/><circle cx="259.9" cy="167.8" r="1.8" fill="#868686"/><circle cx="81.9" cy="163.7" r="1.8" fill="#868686"/><circle cx="115.7" cy="243.7" r="1.8" fill="#868686"/><circle cx="217.6" cy="317.2" r="1.8" fill="#868686"/><circle cx="230.4" cy="212.0" r="1.8" fill="#868686"/><circle cx="60.6" cy="242.3" r="1.8" fill="#868686"/><circle cx="275.2" cy="273.5" r="1.8" fill="#868686"/><circle cx="176.6" cy="259.0" r="1.8" fill="#868686"/><circle cx="114.6" cy="231.0" r="1.8" fill="#868686"/><circle cx="264.5" cy="227.6" r="1.8" fill="#868686"/><circle cx="131.6" cy="284.1" r="1.8" fill="#868686"/><circle cx="47.7" cy="189.6" r="1.8" fill="#868686"/><circle cx="224.3" cy="250.0" r="1.8" fill="#868686"/><circle cx="206.2" cy="286.8" r="1.8" fill="#868686"/><circle cx="87.5" cy="133.3" r="1.8" fill="#868686"/><circle cx="51.3" cy="226.1" r="1.8" fill="#868686"/><circle cx="64.3" cy="180.9" r="1.8" fill="#868686"/><circle cx="127.9" cy="245.5" r="1.8" fill="#868686"/><circle cx="76.3" cy="142.7" r="1.8" fill="#868686"/><circle cx="195.3" cy="264.5" r="1.8" fill="#868686"/><circle cx="224.5" cy="285.6" r="1.8" fill="#868686"/><circle cx="144.1" cy="140.8" r="1.8" fill="#868686"/><circle cx="198.9" cy="278.8" r="1.8" fill="#868686"/><circle cx="282.9" cy="231.4" r="1.8" fill="#868686"/><circle cx="245.2" cy="213.3" r="1.8" fill="#868686"/><circle cx="304.2" cy="204.7" r="1.8" fill="#868686"/><circle cx="254.0" cy="219.5" r="1.8" fill="#868686"/><circle cx="93.5" cy="177.8" r="1.8" fill="#868686"/><circle cx="50.2" cy="172.1" r="1.8" fill="#868686"/><circle cx="262.5" cy="288.1" r="1.8" fill="#868686"/><circle cx="191.0" cy="236.2" r="1.8" fill="#868686"/><circle cx="73.4" cy="178.3" r="1.8" fill="#868686"/><circle cx="194.1" cy="259.9" r="1.8" fill="#868686"/><circle cx="87.6" cy="208.4" r="1.8" fill="#868686"/><circle cx="172.1" cy="253.0" r="1.8" fill="#868686"/><circle cx="109.2" cy="214.8" r="1.8" fill="#868686"/><circle cx="251.6" cy="295.6" r="1.8" fill="#868686"/><circle cx="203.6" cy="252.5" r="1.8" fill="#868686"/><circle cx="71.7" cy="244.4" r="1.8" fill="#868686"/><circle cx="268.1" cy="216.6" r="1.8" fill="#868686"/><circle cx="53.8" cy="284.4" r="1.8" fill="#868686"/><circle cx="258.1" cy="181.6" r="1.8" fill="#868686"/><circle cx="43.1" cy="169.3" r="1.8" fill="#868686"/><circle cx="108.8" cy="302.4" r="1.8" fill="#868686"/><circle cx="299.8" cy="259.4" r="1.8" fill="#868686"/><circle cx="222.9" cy="279.2" r="1.8" fill="#868686"/><circle cx="136.6" cy="235.1" r="1.8" fill="#868686"/><circle cx="274.3" cy="217.4" r="1.8" fill="#868686"/><circle cx="33.3" cy="238.2" r="1.8" fill="#868686"/><circle cx="166.7" cy="246.2" r="1.8" fill="#868686"/><circle cx="293.5" cy="242.8" r="1.8" fill="#868686"/><circle cx="104.2" cy="188.9" r="1.8" fill="#868686"/><circle cx="240.9" cy="186.6" r="1.8" fill="#868686"/><circle cx="128.3" cy="249.5" r="1.8" fill="#868686"/><circle cx="232.4" cy="249.0" r="1.8" fill="#868686"/><circle cx="309.3" cy="253.2" r="1.8" fill="#868686"/><circle cx="297.1" cy="262.2" r="1.8" fill="#000000"/><circle cx="77.8" cy="290.0" r="1.8" fill="#000000"/><circle cx="252.0" cy="202.9" r="1.8" fill="#000000"/><circle cx="274.4" cy="245.4" r="1.8" fill="#000000"/><circle cx="102.5" cy="138.8" r="1.8" fill="#000000"/><circle cx="245.6" cy="261.9" r="1.8" fill="#000000"/><circle cx="40.1" cy="253.6" r="1.8" fill="#000000"/><circle cx="70.7" cy="255.1" r="1.8" fill="#000000"/><circle cx="86.1" cy="243.5" r="1.8" fill="#000000"/><circle cx="209.1" cy="264.4" r="1.8" fill="#000000"/><circle cx="243.7" cy="283.4" r="1.8" fill="#000000"/><circle cx="107.2" cy="249.9" r="1.8" fill="#000000"/><circle cx="175.4" cy="291.1" r="1.8" fill="#000000"/><circle cx="44.0" cy="262.2" r="1.8" fill="#000000"/><circle cx="122.4" cy="312.5" r="1.8" fill="#000000"/><circle cx="89.7" cy="163.3" r="1.8" fill="#000000"/><circle cx="225.8" cy="261.3" r="1.8" fill="#000000"/><circle cx="53.7" cy="254.2" r="1.8" fill="#000000"/><circle cx="126.5" cy="266.7" r="1.8" fill="#000000"/><circle cx="133.6" cy="275.3" r="1.8" fill="#000000"/><circle cx="279.3" cy="275.0" r="1.8" fill="#000000"/><circle cx="263.4" cy="266.6" r="1.8" fill="#000000"/><circle cx="89.4" cy="172.7" r="1.8" fill="#000000"/><circle cx="69.3" cy="275.9" r="1.8" fill="#000000"/><circle cx="249.6" cy="233.6" r="1.8" fill="#000000"/><circle cx="84.2" cy="298.9" r="1.8" fill="#000000"/><circle cx="91.2" cy="318.7" r="1.8" fill="#000000"/><circle cx="71.3" cy="232.7" r="1.8" fill="#000000"/><circle cx="127.2" cy="297.7" r="1.8" fill="#000000"/><circle cx="194.8" cy="301.6" r="1.8" fill="#000000"/><circle cx="57.8" cy="238.7" r="1.8" fill="#000000"/><circle cx="113.5" cy="259.9" r="1.8" fill="#000000"/><circle cx="299.8" cy="208.8" r="1.8" fill="#000000"/><circle cx="87.8" cy="279.6" r="1.8" fill="#000000"/><circle cx="236.0" cy="264.2" r="1.8" fill="#000000"/><circle cx="162.0" cy="240.0" r="1.8" fill="#000000"/><circle cx="85.1" cy="311.8" r="1.8" fill="#000000"/><circle cx="123.5" cy="250.8" r="1.8" fill="#000000"/><circle cx="167.3" cy="276.5" r="1.8" fill="#000000"/><circle cx="130.4" cy="288.9" r="1.8" fill="#000000"/><circle cx="226.3" cy="279.7" r="1.8" fill="#000000"/><circle cx="143.3" cy="244.4" r="1.8" fill="#000000"/><circle cx="236.2" cy="256.3" r="1.8" fill="#000000"/><circle cx="228.1" cy="192.8" r="1.8" fill="#000000"/><circle cx="159.5" cy="305.3" r="1.8" fill="#000000"/><circle cx="231.6" cy="276.4" r="1.8" fill="#000000"/><circle cx="116.9" cy="210.0" r="1.8" fill="#000000"/><circle cx="78.7" cy="189.7" r="1.8" fill="#000000"/><circle cx="67.0" cy="257.6" r="1.8" fill="#000000"/><circle cx="154.7" cy="288.3" r="1.8" fill="#000000"/><circle cx="282.6" cy="245.2" r="1.8" fill="#000000"/><circle cx="273.7" cy="252.1" r="1.8" fill="#000000"/><circle cx="114.5" cy="317.5" r="1.8" fill="#000000"/><circle cx="156.0" cy="314.0" r="1.8" fill="#000000"/><circle cx="46.5" cy="298.0" r="1.8" fill="#000000"/><circle cx="44.4" cy="166.1" r="1.8" fill="#000000"/><circle cx="84.4" cy="196.8" r="1.8" fill="#000000"/><circle cx="261.5" cy="290.0" r="1.8" fill="#000000"/><circle cx="226.8" cy="266.4" r="1.8" fill="#000000"/><circle cx="151.5" cy="241.7" r="1.8" fill="#000000"/><circle cx="252.4" cy="250.1" r="1.8" fill="#000000"/><circle cx="175.3" cy="301.6" r="1.8" fill="#000000"/><circle cx="84.9" cy="270.0" r="1.8" fill="#000000"/><circle cx="260.2" cy="296.7" r="1.8" fill="#000000"/><circle cx="270.9" cy="260.9" r="1.8" fill="#000000"/><circle cx="290.4" cy="258.4" r="1.8" fill="#000000"/><circle cx="80.1" cy="295.7" r="1.8" fill="#000000"/><circle cx="168.9" cy="267.3" r="1.8" fill="#000000"/><circle cx="257.8" cy="283.4" r="1.8" fill="#000000"/><circle cx="89.9" cy="313.5" r="1.8" fill="#000000"/><circle cx="190.9" cy="301.0" r="1.8" fill="#000000"/><circle cx="45.2" cy="226.1" r="1.8" fill="#000000"/><circle cx="150.4" cy="291.2" r="1.8" fill="#000000"/><circle cx="99.7" cy="304.9" r="1.8" fill="#000000"/><circle cx="183.5" cy="286.2" r="1.8" fill="#000000"/><circle cx="103.2" cy="225.7" r="1.8" fill="#000000"/><circle cx="98.3" cy="215.1" r="1.8" fill="#000000"/><circle cx="99.4" cy="259.6" r="1.8" fill="#000000"/><circle cx="173.1" cy="271.4" r="1.8" fill="#000000"/><circle cx="222.8" cy="299.7" r="1.8" fill="#000000"/><circle cx="50.0" cy="238.8" r="1.8" fill="#000000"/><circle cx="103.6" cy="252.1" r="1.8" fill="#000000"/><circle cx="131.4" cy="306.7" r="1.8" fill="#000000"/><circle cx="237.0" cy="209.4" r="1.8" fill="#000000"/><circle cx="59.4" cy="193.4" r="1.8" fill="#000000"/><circle cx="143.2" cy="265.1" r="1.8" fill="#000000"/><circle cx="184.6" cy="309.2" r="1.8" fill="#000000"/><circle cx="50.0" cy="246.3" r="1.8" fill="#000000"/><circle cx="223.7" cy="319.6" r="1.8" fill="#000000"/><circle cx="105.2" cy="270.4" r="1.8" fill="#000000"/><circle cx="174.7" cy="285.3" r="1.8" fill="#000000"/><circle cx="199.3" cy="259.3" r="1.8" fill="#000000"/><circle cx="39.2" cy="182.5" r="1.8" fill="#000000"/><circle cx="205.4" cy="306.6" r="1.8" fill="#000000"/><circle cx="88.4" cy="150.0" r="1.8" fill="#000000"/><circle cx="218.1" cy="230.4" r="1.8" fill="#000000"/><circle cx="45.0" cy="270.9" r="1.8" fill="#000000"/><circle cx="94.7" cy="262.8" r="1.8" fill="#000000"/><circle cx="250.3" cy="263.7" r="1.8" fill="#000000"/><circle cx="113.4" cy="314.0" r="1.8" fill="#000000"/><circle cx="121.4" cy="219.9" r="1.8" fill="#000000"/><circle cx="155.3" cy="326.9" r="1.8" fill="#000000"/><circle cx="69.6" cy="239.3" r="1.8" fill="#000000"/><circle cx="42.6" cy="231.7" r="1.8" fill="#000000"/><circle cx="71.0" cy="216.8" r="1.8" fill="#000000"/><circle cx="97.0" cy="287.4" r="1.8" fill="#000000"/><circle cx="31.3" cy="198.2" r="1.8" fill="#000000"/><circle cx="85.4" cy="201.2" r="1.8" fill="#000000"/><circle cx="118.9" cy="285.9" r="1.8" fill="#000000"/><circle cx="115.6" cy="158.6" r="1.8" fill="#000000"/><circle cx="74.9" cy="221.0" r="1.8" fill="#000000"/><circle cx="162.4" cy="317.1" r="1.8" fill="#000000"/><circle cx="110.5" cy="316.0" r="1.8" fill="#000000"/><circle cx="33.7" cy="189.4" r="1.8" fill="#000000"/><circle cx="85.8" cy="292.7" r="1.8" fill="#000000"/><circle cx="216.6" cy="309.0" r="1.8" fill="#000000"/><circle cx="81.3" cy="276.3" r="1.8" fill="#000000"/><circle cx="105.5" cy="154.0" r="1.8" fill="#000000"/><circle cx="149.9" cy="263.0" r="1.8" fill="#000000"/><circle cx="56.1" cy="190.2" r="1.8" fill="#000000"/><circle cx="273.0" cy="278.2" r="1.8" fill="#000000"/><circle cx="229.5" cy="223.4" r="1.8" fill="#000000"/><circle cx="210.6" cy="309.6" r="1.8" fill="#000000"/><circle cx="269.0" cy="243.6" r="1.8" fill="#000000"/><circle cx="175.3" cy="255.5" r="1.8" fill="#000000"/><circle cx="31.9" cy="173.6" r="1.8" fill="#000000"/><circle cx="99.9" cy="209.2" r="1.8" fill="#000000"/><circle cx="94.7" cy="306.1" r="1.8" fill="#000000"/><circle cx="279.7" cy="184.7" r="1.8" fill="#000000"/><circle cx="191.0" cy="241.4" r="1.8" fill="#000000"/><circle cx="62.6" cy="254.6" r="1.8" fill="#000000"/><circle cx="275.0" cy="231.2" r="1.8" fill="#000000"/><circle cx="183.4" cy="320.9" r="1.8" fill="#000000"/><circle cx="236.4" cy="283.6" r="1.8" fill="#000000"/><circle cx="276.5" cy="264.1" r="1.8" fill="#000000"/><circle cx="50.0" cy="198.4" r="1.8" fill="#000000"/><circle cx="194.5" cy="333.1" r="1.8" fill="#000000"/><circle cx="178.6" cy="317.5" r="1.8" fill="#000000"/><circle cx="98.8" cy="267.6" r="1.8" fill="#000000"/><circle cx="86.1" cy="296.4" r="1.8" fill="#000000"/><circle cx="249.7" cy="305.1" r="1.8" fill="#000000"/><circle cx="281.7" cy="250.9" r="1.8" fill="#000000"/><circle cx="274.1" cy="257.4" r="1.8" fill="#000000"/><circle cx="146.9" cy="129.0" r="1.8" fill="#000000"/><circle cx="74.0" cy="284.4" r="1.8" fill="#000000"/><circle cx="87.8" cy="306.5" r="1.8" fill="#000000"/><circle cx="74.2" cy="228.1" r="1.8" fill="#000000"/><circle cx="112.6" cy="157.3" r="1.8" fill="#000000"/><circle cx="257.6" cy="245.3" r="1.8" fill="#000000"/><circle cx="45.8" cy="185.0" r="1.8" fill="#000000"/><circle cx="70.1" cy="144.4" r="1.8" fill="#000000"/><circle cx="110.7" cy="297.1" r="1.8" fill="#000000"/><circle cx="318.1" cy="240.5" r="1.8" fill="#000000"/><circle cx="209.2" cy="300.0" r="1.8" fill="#000000"/><circle cx="142.8" cy="288.9" r="1.8" fill="#000000"/><circle cx="59.5" cy="225.2" r="1.8" fill="#000000"/><circle cx="153.4" cy="274.9" r="1.8" fill="#000000"/><circle cx="274.5" cy="195.2" r="1.8" fill="#000000"/><circle cx="60.8" cy="250.1" r="1.8" fill="#000000"/><circle cx="85.2" cy="176.8" r="1.8" fill="#000000"/><circle cx="112.3" cy="292.4" r="1.8" fill="#000000"/><circle cx="69.1" cy="177.4" r="1.8" fill="#000000"/><circle cx="202.9" cy="256.4" r="1.8" fill="#000000"/><circle cx="114.9" cy="205.6" r="1.8" fill="#000000"/><circle cx="52.8" cy="241.5" r="1.8" fill="#000000"/><circle cx="117.3" cy="196.0" r="1.8" fill="#000000"/><circle cx="302.1" cy="242.6" r="1.8" fill="#000000"/><circle cx="149.3" cy="314.7" r="1.8" fill="#000000"/><circle cx="231.0" cy="268.5" r="1.8" fill="#000000"/><circle cx="191.0" cy="311.7" r="1.8" fill="#000000"/><circle cx="145.9" cy="279.5" r="1.8" fill="#000000"/><circle cx="163.2" cy="268.5" r="1.8" fill="#000000"/><circle cx="84.1" cy="168.4" r="1.8" fill="#000000"/><circle cx="272.8" cy="188.5" r="1.8" fill="#000000"/><circle cx="99.1" cy="264.0" r="1.8" fill="#000000"/><circle cx="163.3" cy="252.8" r="1.8" fill="#000000"/><circle cx="293.0" cy="198.5" r="1.8" fill="#000000"/><circle cx="77.8" cy="259.2" r="1.8" fill="#000000"/><circle cx="37.9" cy="215.4" r="1.8" fill="#000000"/><circle cx="85.6" cy="182.5" r="1.8" fill="#000000"/><circle cx="231.9" cy="282.5" r="1.8" fill="#000000"/><circle cx="43.6" cy="189.6" r="1.8" fill="#000000"/><circle cx="247.5" cy="268.4" r="1.8" fill="#000000"/><circle cx="231.2" cy="259.9" r="1.8" fill="#000000"/><circle cx="299.2" cy="234.7" r="1.8" fill="#000000"/><circle cx="44.1" cy="254.6" r="1.8" fill="#000000"/><circle cx="131.5" cy="152.8" r="1.8" fill="#000000"/><circle cx="188.6" cy="306.0" r="1.8" fill="#000000"/><circle cx="23.3" cy="252.5" r="1.8" fill="#000000"/><circle cx="13.1" cy="227.4" r="1.8" fill="#000000"/><circle cx="155.7" cy="252.5" r="1.8" fill="#000000"/><circle cx="177.6" cy="248.5" r="1.8" fill="#000000"/><circle cx="76.6" cy="203.6" r="1.8" fill="#000000"/><circle cx="154.3" cy="309.1" r="1.8" fill="#000000"/><circle cx="206.7" cy="239.2" r="1.8" fill="#000000"/><circle cx="117.9" cy="223.9" r="1.8" fill="#000000"/><circle cx="26.5" cy="215.2" r="1.8" fill="#000000"/><circle cx="63.8" cy="234.2" r="1.8" fill="#000000"/><circle cx="72.1" cy="281.5" r="1.8" fill="#000000"/><circle cx="55.5" cy="229.4" r="1.8" fill="#000000"/><circle cx="248.8" cy="239.6" r="1.8" fill="#000000"/><circle cx="248.8" cy="199.5" r="1.8" fill="#000000"/><circle cx="51.9" cy="213.0" r="1.8" fill="#000000"/><circle cx="260.6" cy="275.9" r="1.8" fill="#000000"/><circle cx="176.1" cy="239.2" r="1.8" fill="#000000"/><circle cx="94.1" cy="231.2" r="1.8" fill="#000000"/><circle cx="39.9" cy="228.6" r="1.8" fill="#000000"/><circle cx="113.3" cy="279.9" r="1.8" fill="#000000"/><circle cx="86.7" cy="146.1" r="1.8" fill="#000000"/><circle cx="285.7" cy="237.5" r="1.8" fill="#000000"/><circle cx="175.5" cy="306.9" r="1.8" fill="#000000"/><circle cx="215.4" cy="247.7" r="1.8" fill="#000000"/><circle cx="144.5" cy="239.2" r="1.8" fill="#000000"/><circle cx="278.7" cy="191.4" r="1.8" fill="#000000"/><circle cx="65.0" cy="281.2" r="1.8" fill="#000000"/><circle cx="274.0" cy="206.5" r="1.8" fill="#000000"/><circle cx="121.4" cy="274.1" r="1.8" fill="#000000"/><circle cx="231.2" cy="226.0" r="1.8" fill="#000000"/><circle cx="84.0" cy="319.1" r="1.8" fill="#000000"/><circle cx="261.6" cy="245.3" r="1.8" fill="#000000"/><circle cx="75.9" cy="288.1" r="1.8" fill="#000000"/><circle cx="259.5" cy="212.7" r="1.8" fill="#000000"/><circle cx="235.0" cy="242.6" r="1.8" fill="#000000"/><circle cx="82.6" cy="252.2" r="1.8" fill="#000000"/><circle cx="189.7" cy="252.5" r="1.8" fill="#000000"/><circle cx="108.0" cy="274.4" r="1.8" fill="#000000"/><circle cx="199.4" cy="245.6" r="1.8" fill="#000000"/><circle cx="162.7" cy="298.0" r="1.8" fill="#000000"/><circle cx="13.5" cy="233.8" r="1.8" fill="#000000"/><circle cx="114.4" cy="284.3" r="1.8" fill="#000000"/><circle cx="197.4" cy="254.1" r="1.8" fill="#000000"/><circle cx="72.1" cy="286.2" r="1.8" fill="#000000"/><circle cx="149.4" cy="283.3" r="1.8" fill="#000000"/><circle cx="168.4" cy="325.6" r="1.8" fill="#000000"/><circle cx="123.7" cy="317.9" r="1.8" fill="#000000"/><circle cx="294.4" cy="258.2" r="1.8" fill="#000000"/><circle cx="104.6" cy="292.7" r="1.8" fill="#000000"/><circle cx="60.0" cy="267.5" r="1.8" fill="#000000"/><circle cx="243.3" cy="248.2" r="1.8" fill="#000000"/><circle cx="253.7" cy="176.8" r="1.8" fill="#000000"/><circle cx="89.7" cy="253.1" r="1.8" fill="#000000"/><circle cx="187.4" cy="239.2" r="1.8" fill="#000000"/><circle cx="221.3" cy="288.4" r="1.8" fill="#000000"/><circle cx="275.3" cy="254.6" r="1.8" fill="#000000"/><circle cx="110.5" cy="203.6" r="1.8" fill="#000000"/><circle cx="266.3" cy="245.7" r="1.8" fill="#000000"/><circle cx="264.7" cy="233.1" r="1.8" fill="#000000"/><circle cx="316.0" cy="215.3" r="1.8" fill="#000000"/><circle cx="234.5" cy="198.3" r="1.8" fill="#000000"/><circle cx="91.2" cy="269.6" r="1.8" fill="#000000"/><circle cx="189.7" cy="281.6" r="1.8" fill="#000000"/><circle cx="145.7" cy="319.4" r="1.8" fill="#000000"/><circle cx="21.1" cy="257.6" r="1.8" fill="#000000"/><circle cx="154.8" cy="319.6" r="1.8" fill="#000000"/><circle cx="224.2" cy="246.4" r="1.8" fill="#000000"/><circle cx="42.3" cy="218.7" r="1.8" fill="#000000"/><circle cx="218.5" cy="257.0" r="1.8" fill="#000000"/><circle cx="125.3" cy="239.2" r="1.8" fill="#000000"/><circle cx="141.4" cy="250.8" r="1.8" fill="#000000"/><circle cx="208.5" cy="200.5" r="1.8" fill="#000000"/><circle cx="149.8" cy="301.5" r="1.8" fill="#000000"/><circle cx="70.3" cy="303.1" r="1.8" fill="#000000"/><circle cx="210.4" cy="269.2" r="1.8" fill="#000000"/><circle cx="22.6" cy="226.3" r="1.8" fill="#000000"/><circle cx="234.7" cy="308.9" r="1.8" fill="#000000"/><circle cx="53.8" cy="163.7" r="1.8" fill="#000000"/><circle cx="86.0" cy="160.5" r="1.8" fill="#000000"/><circle cx="71.0" cy="213.2" r="1.8" fill="#000000"/><circle cx="203.0" cy="247.4" r="1.8" fill="#000000"/><circle cx="65.0" cy="156.8" r="1.8" fill="#000000"/><circle cx="72.5" cy="239.9" r="1.8" fill="#000000"/><circle cx="279.7" cy="210.4" r="1.8" fill="#000000"/><circle cx="259.9" cy="238.8" r="1.8" fill="#000000"/><circle cx="210.0" cy="254.8" r="1.8" fill="#000000"/><circle cx="217.9" cy="313.2" r="1.8" fill="#000000"/><circle cx="60.9" cy="135.2" r="1.8" fill="#000000"/><circle cx="116.2" cy="253.2" r="1.8" fill="#000000"/><circle cx="124.3" cy="259.1" r="1.8" fill="#000000"/><circle cx="77.2" cy="240.8" r="1.8" fill="#000000"/><circle cx="59.9" cy="213.9" r="1.8" fill="#000000"/><circle cx="98.5" cy="313.0" r="1.8" fill="#000000"/><circle cx="237.9" cy="259.5" r="1.8" fill="#000000"/><circle cx="215.5" cy="305.2" r="1.8" fill="#000000"/><circle cx="65.3" cy="237.9" r="1.8" fill="#000000"/><circle cx="306.5" cy="260.6" r="1.8" fill="#000000"/><circle cx="125.9" cy="293.6" r="1.8" fill="#000000"/><circle cx="80.3" cy="199.8" r="1.8" fill="#000000"/><circle cx="122.8" cy="288.7" r="1.8" fill="#000000"/><circle cx="163.0" cy="284.9" r="1.8" fill="#000000"/><circle cx="252.7" cy="280.2" r="1.8" fill="#000000"/><circle cx="160.9" cy="321.5" r="1.8" fill="#000000"/><circle cx="251.7" cy="207.6" r="1.8" fill="#000000"/><circle cx="88.9" cy="229.9" r="1.8" fill="#000000"/><circle cx="232.1" cy="240.0" r="1.8" fill="#000000"/><circle cx="247.9" cy="244.9" r="1.8" fill="#000000"/><circle cx="287.3" cy="213.5" r="1.8" fill="#000000"/><circle cx="187.4" cy="225.7" r="1.8" fill="#000000"/><circle cx="105.1" cy="298.1" r="1.8" fill="#000000"/><circle cx="102.5" cy="151.0" r="1.8" fill="#000000"/><circle cx="116.9" cy="311.7" r="1.8" fill="#000000"/><circle cx="42.7" cy="235.8" r="1.8" fill="#000000"/><circle cx="62.8" cy="146.1" r="1.8" fill="#000000"/><circle cx="184.8" cy="253.2" r="1.8" fill="#000000"/><circle cx="212.5" cy="275.0" r="1.8" fill="#000000"/><circle cx="148.2" cy="116.3" r="1.8" fill="#000000"/><circle cx="206.3" cy="268.3" r="1.8" fill="#000000"/><circle cx="154.2" cy="260.0" r="1.8" fill="#000000"/><circle cx="99.5" cy="238.4" r="1.8" fill="#000000"/><circle cx="59.5" cy="205.3" r="1.8" fill="#000000"/><circle cx="117.6" cy="315.5" r="1.8" fill="#000000"/><circle cx="152.3" cy="254.5" r="1.8" fill="#000000"/><circle cx="139.6" cy="315.8" r="1.8" fill="#000000"/><circle cx="166.3" cy="317.9" r="1.8" fill="#000000"/><circle cx="66.2" cy="241.3" r="1.8" fill="#000000"/><circle cx="85.9" cy="237.4" r="1.8" fill="#000000"/><circle cx="64.4" cy="203.9" r="1.8" fill="#000000"/><circle cx="54.9" cy="168.4" r="1.8" fill="#000000"/><circle cx="139.4" cy="276.4" r="1.8" fill="#000000"/><circle cx="304.4" cy="160.0" r="1.8" fill="#000000"/><circle cx="53.5" cy="203.3" r="1.8" fill="#000000"/><circle cx="52.6" cy="234.0" r="1.8" fill="#000000"/><circle cx="94.6" cy="251.9" r="1.8" fill="#000000"/><circle cx="100.0" cy="319.8" r="1.8" fill="#000000"/><circle cx="119.2" cy="305.1" r="1.8" fill="#000000"/><circle cx="75.9" cy="261.9" r="1.8" fill="#000000"/><circle cx="77.0" cy="186.7" r="1.8" fill="#000000"/><circle cx="45.3" cy="260.9" r="1.8" fill="#000000"/><circle cx="218.9" cy="272.5" r="1.8" fill="#000000"/><circle cx="86.9" cy="121.0" r="1.8" fill="#000000"/><circle cx="80.8" cy="207.8" r="1.8" fill="#000000"/><circle cx="91.9" cy="239.1" r="1.8" fill="#000000"/><circle cx="262.3" cy="248.9" r="1.8" fill="#000000"/><circle cx="275.2" cy="284.3" r="1.8" fill="#000000"/><circle cx="279.2" cy="238.8" r="1.8" fill="#000000"/><circle cx="94.1" cy="315.3" r="1.8" fill="#000000"/><circle cx="59.9" cy="183.5" r="1.8" fill="#000000"/><circle cx="63.1" cy="228.1" r="1.8" fill="#000000"/><circle cx="112.0" cy="310.9" r="1.8" fill="#000000"/><circle cx="64.4" cy="208.7" r="1.8" fill="#000000"/><circle cx="221.8" cy="254.6" r="1.8" fill="#000000"/><circle cx="98.9" cy="279.7" r="1.8" fill="#000000"/><circle cx="152.5" cy="284.9" r="1.8" fill="#000000"/><circle cx="214.4" cy="278.7" r="1.8" fill="#000000"/><circle cx="107.2" cy="147.4" r="1.8" fill="#000000"/><circle cx="38.4" cy="277.2" r="1.8" fill="#000000"/><circle cx="265.4" cy="239.8" r="1.8" fill="#000000"/><circle cx="87.5" cy="256.3" r="1.8" fill="#000000"/><circle cx="139.0" cy="331.6" r="1.8" fill="#000000"/><circle cx="27.4" cy="248.2" r="1.8" fill="#000000"/><circle cx="54.9" cy="171.4" r="1.8" fill="#000000"/><circle cx="84.7" cy="326.5" r="1.8" fill="#000000"/><circle cx="67.2" cy="212.0" r="1.8" fill="#000000"/><circle cx="297.2" cy="192.5" r="1.8" fill="#000000"/><circle cx="137.3" cy="264.3" r="1.8" fill="#000000"/><circle cx="212.8" cy="259.8" r="1.8" fill="#000000"/><circle cx="269.4" cy="176.4" r="1.8" fill="#000000"/><circle cx="88.6" cy="240.6" r="1.8" fill="#000000"/><circle cx="61.8" cy="263.7" r="1.8" fill="#000000"/><circle cx="119.0" cy="269.8" r="1.8" fill="#000000"/><circle cx="113.7" cy="171.4" r="1.8" fill="#000000"/><circle cx="100.2" cy="156.2" r="1.8" fill="#000000"/><circle cx="248.5" cy="188.9" r="1.8" fill="#000000"/><circle cx="286.8" cy="185.1" r="1.8" fill="#000000"/><circle cx="108.2" cy="198.9" r="1.8" fill="#000000"/><circle cx="65.6" cy="292.4" r="1.8" fill="#000000"/><circle cx="111.9" cy="276.0" r="1.8" fill="#000000"/><circle cx="197.5" cy="291.9" r="1.8" fill="#000000"/><circle cx="199.5" cy="298.1" r="1.8" fill="#000000"/><circle cx="78.7" cy="280.6" r="1.8" fill="#000000"/><circle cx="287.4" cy="269.0" r="1.8" fill="#000000"/><circle cx="285.6" cy="256.6" r="1.8" fill="#000000"/><circle cx="134.3" cy="317.5" r="1.8" fill="#000000"/><circle cx="111.4" cy="244.5" r="1.8" fill="#000000"/><circle cx="170.7" cy="312.5" r="1.8" fill="#000000"/><circle cx="238.6" cy="294.8" r="1.8" fill="#000000"/><circle cx="226.0" cy="205.4" r="1.8" fill="#000000"/><circle cx="194.0" cy="268.7" r="1.8" fill="#000000"/><circle cx="59.4" cy="246.2" r="1.8" fill="#000000"/><circle cx="94.3" cy="292.2" r="1.8" fill="#000000"/><circle cx="233.4" cy="253.7" r="1.8" fill="#000000"/><circle cx="32.3" cy="218.1" r="1.8" fill="#000000"/><circle cx="164.6" cy="313.1" r="1.8" fill="#000000"/><circle cx="117.7" cy="265.4" r="1.8" fill="#000000"/><circle cx="67.4" cy="300.3" r="1.8" fill="#000000"/><circle cx="284.0" cy="272.2" r="1.8" fill="#000000"/><circle cx="289.7" cy="231.8" r="1.8" fill="#000000"/><circle cx="73.4" cy="184.4" r="1.8" fill="#000000"/><circle cx="244.9" cy="195.4" r="1.8" fill="#000000"/><circle cx="76.8" cy="270.3" r="1.8" fill="#000000"/><circle cx="46.9" cy="252.0" r="1.8" fill="#000000"/><circle cx="60.9" cy="270.3" r="1.8" fill="#000000"/><circle cx="260.2" cy="266.9" r="1.8" fill="#000000"/><circle cx="157.5" cy="299.9" r="1.8" fill="#000000"/><circle cx="100.6" cy="159.6" r="1.8" fill="#000000"/><circle cx="119.3" cy="321.5" r="1.8" fill="#000000"/><circle cx="155.2" cy="278.9" r="1.8" fill="#000000"/><circle cx="129.1" cy="319.5" r="1.8" fill="#000000"/><circle cx="84.9" cy="258.9" r="1.8" fill="#000000"/><circle cx="236.2" cy="279.0" r="1.8" fill="#000000"/><circle cx="256.1" cy="242.0" r="1.8" fill="#000000"/><circle cx="27.4" cy="258.7" r="1.8" fill="#000000"/><circle cx="166.6" cy="259.6" r="1.8" fill="#000000"/><circle cx="93.7" cy="284.7" r="1.8" fill="#000000"/><circle cx="54.9" cy="269.0" r="1.8" fill="#000000"/><circle cx="159.9" cy="288.9" r="1.8" fill="#000000"/><circle cx="68.2" cy="165.8" r="1.8" fill="#000000"/><circle cx="111.8" cy="250.4" r="1.8" fill="#000000"/><circle cx="253.1" cy="244.4" r="1.8" fill="#000000"/><circle cx="158.2" cy="263.9" r="1.8" fill="#000000"/><circle cx="219.9" cy="233.0" r="1.8" fill="#000000"/><circle cx="144.6" cy="299.2" r="1.8" fill="#000000"/><circle cx="20.0" cy="212.9" r="1.8" fill="#000000"/><circle cx="270.2" cy="228.1" r="1.8" fill="#000000"/><circle cx="75.9" cy="275.0" r="1.8" fill="#000000"/><circle cx="91.3" cy="289.3" r="1.8" fill="#000000"/><circle cx="163.7" cy="324.6" r="1.8" fill="#000000"/><circle cx="273.7" cy="281.2" r="1.8" fill="#000000"/><circle cx="55.6" cy="292.6" r="1.8" fill="#000000"/><circle cx="288.4" cy="246.3" r="1.8" fill="#000000"/><circle cx="205.1" cy="302.5" r="1.8" fill="#000000"/><circle cx="291.9" cy="236.2" r="1.8" fill="#000000"/><circle cx="65.0" cy="191.4" r="1.8" fill="#000000"/><circle cx="50.9" cy="251.0" r="1.8" fill="#000000"/><circle cx="72.1" cy="294.7" r="1.8" fill="#000000"/><circle cx="247.2" cy="252.2" r="1.8" fill="#000000"/><circle cx="142.4" cy="318.0" r="1.8" fill="#000000"/><circle cx="143.6" cy="285.3" r="1.8" fill="#000000"/><circle cx="92.5" cy="182.2" r="1.8" fill="#000000"/><circle cx="276.2" cy="170.6" r="1.8" fill="#000000"/><circle cx="133.0" cy="312.9" r="1.8" fill="#000000"/><circle cx="59.6" cy="284.7" r="1.8" fill="#000000"/><circle cx="195.0" cy="277.7" r="1.8" fill="#000000"/><circle cx="46.5" cy="221.2" r="1.8" fill="#000000"/><circle cx="76.7" cy="210.5" r="1.8" fill="#000000"/><circle cx="256.5" cy="275.4" r="1.8" fill="#000000"/><circle cx="147.2" cy="224.3" r="1.8" fill="#000000"/><circle cx="106.9" cy="295.4" r="1.8" fill="#000000"/><circle cx="230.5" cy="314.2" r="1.8" fill="#000000"/><circle cx="157.5" cy="284.4" r="1.8" fill="#000000"/><circle cx="117.6" cy="181.0" r="1.8" fill="#000000"/><circle cx="273.3" cy="267.9" r="1.8" fill="#000000"/><circle cx="75.7" cy="155.8" r="1.8" fill="#000000"/><circle cx="228.9" cy="247.6" r="1.8" fill="#000000"/><circle cx="214.8" cy="241.5" r="1.8" fill="#000000"/><circle cx="69.0" cy="189.5" r="1.8" fill="#000000"/><circle cx="66.1" cy="252.4" r="1.8" fill="#000000"/><circle cx="241.9" cy="276.5" r="1.8" fill="#000000"/><circle cx="235.6" cy="234.8" r="1.8" fill="#000000"/><circle cx="101.0" cy="181.6" r="1.8" fill="#000000"/><circle cx="202.0" cy="294.7" r="1.8" fill="#000000"/><circle cx="107.4" cy="223.2" r="1.8" fill="#000000"/><circle cx="179.0" cy="273.8" r="1.8" fill="#000000"/><circle cx="128.6" cy="279.1" r="1.8" fill="#000000"/><circle cx="178.3" cy="311.0" r="1.8" fill="#000000"/><circle cx="113.4" cy="302.1" r="1.8" fill="#000000"/><circle cx="162.8" cy="244.1" r="1.8" fill="#000000"/><circle cx="263.4" cy="284.3" r="1.8" fill="#000000"/><circle cx="163.7" cy="304.0" r="1.8" fill="#000000"/><circle cx="67.8" cy="217.4" r="1.8" fill="#000000"/><circle cx="170.5" cy="258.2" r="1.8" fill="#000000"/><circle cx="84.7" cy="129.4" r="1.8" fill="#000000"/><circle cx="136.1" cy="291.4" r="1.8" fill="#000000"/><circle cx="199.3" cy="303.4" r="1.8" fill="#000000"/><circle cx="181.6" cy="259.3" r="1.8" fill="#000000"/><circle cx="262.0" cy="207.9" r="1.8" fill="#000000"/><circle cx="235.1" cy="293.6" r="1.8" fill="#000000"/><circle cx="47.8" cy="179.1" r="1.8" fill="#000000"/><circle cx="232.1" cy="214.6" r="1.8" fill="#000000"/><circle cx="144.1" cy="311.3" r="1.8" fill="#000000"/><circle cx="93.8" cy="190.5" r="1.8" fill="#000000"/><circle cx="84.1" cy="143.5" r="1.8" fill="#000000"/><circle cx="86.6" cy="284.8" r="1.8" fill="#000000"/><circle cx="188.0" cy="285.1" r="1.8" fill="#000000"/><circle cx="269.6" cy="285.8" r="1.8" fill="#000000"/><circle cx="276.8" cy="227.5" r="1.8" fill="#000000"/><circle cx="172.4" cy="248.9" r="1.8" fill="#000000"/><circle cx="152.1" cy="326.5" r="1.8" fill="#000000"/><circle cx="256.9" cy="281.2" r="1.8" fill="#000000"/><circle cx="102.5" cy="301.9" r="1.8" fill="#000000"/><circle cx="277.1" cy="289.6" r="1.8" fill="#000000"/><circle cx="92.2" cy="257.6" r="1.8" fill="#000000"/><circle cx="71.2" cy="148.5" r="1.8" fill="#000000"/><circle cx="241.2" cy="210.5" r="1.8" fill="#000000"/><circle cx="246.9" cy="248.7" r="1.8" fill="#000000"/><circle cx="160.6" cy="258.8" r="1.8" fill="#000000"/><circle cx="94.0" cy="299.9" r="1.8" fill="#000000"/><circle cx="298.2" cy="204.4" r="1.8" fill="#000000"/><circle cx="213.4" cy="322.8" r="1.8" fill="#000000"/><circle cx="109.0" cy="330.6" r="1.8" fill="#000000"/><circle cx="34.1" cy="225.0" r="1.8" fill="#000000"/><circle cx="206.8" cy="248.7" r="1.8" fill="#000000"/><circle cx="264.3" cy="281.5" r="1.8" fill="#000000"/><circle cx="16.3" cy="198.7" r="1.8" fill="#000000"/><circle cx="210.6" cy="318.6" r="1.8" fill="#000000"/><circle cx="255.9" cy="198.8" r="1.8" fill="#000000"/><circle cx="39.5" cy="193.4" r="1.8" fill="#000000"/><circle cx="173.1" cy="261.0" r="1.8" fill="#000000"/><circle cx="284.9" cy="263.4" r="1.8" fill="#000000"/><circle cx="71.2" cy="269.4" r="1.8" fill="#000000"/><circle cx="38.7" cy="249.4" r="1.8" fill="#000000"/><circle cx="126.6" cy="275.5" r="1.8" fill="#000000"/><circle cx="95.1" cy="268.1" r="1.8" fill="#000000"/><circle cx="279.4" cy="197.8" r="1.8" fill="#000000"/><circle cx="33.2" cy="180.6" r="1.8" fill="#000000"/><circle cx="82.5" cy="305.3" r="1.8" fill="#000000"/><circle cx="147.1" cy="324.6" r="1.8" fill="#000000"/><circle cx="224.5" cy="305.9" r="1.8" fill="#000000"/><circle cx="145.0" cy="274.0" r="1.8" fill="#000000"/><circle cx="99.5" cy="204.4" r="1.8" fill="#000000"/><circle cx="281.0" cy="180.3" r="1.8" fill="#000000"/><circle cx="205.3" cy="296.9" r="1.8" fill="#000000"/><circle cx="57.2" cy="208.8" r="1.8" fill="#000000"/><circle cx="110.7" cy="254.4" r="1.8" fill="#000000"/><circle cx="87.6" cy="264.9" r="1.8" fill="#000000"/><circle cx="67.8" cy="183.9" r="1.8" fill="#000000"/><circle cx="134.8" cy="296.0" r="1.8" fill="#000000"/><circle cx="256.9" cy="297.1" r="1.8" fill="#000000"/><circle cx="252.4" cy="285.3" r="1.8" fill="#000000"/><circle cx="107.6" cy="283.1" r="1.8" fill="#000000"/><circle cx="102.1" cy="170.8" r="1.8" fill="#000000"/><circle cx="252.2" cy="174.6" r="1.8" fill="#000000"/><circle cx="306.3" cy="260.3" r="1.8" fill="#000000"/><circle cx="243.7" cy="235.1" r="1.8" fill="#000000"/><circle cx="29.3" cy="209.7" r="1.8" fill="#000000"/><circle cx="83.7" cy="150.6" r="1.8" fill="#000000"/><circle cx="21.9" cy="219.8" r="1.8" fill="#000000"/><circle cx="50.1" cy="219.3" r="1.8" fill="#000000"/><circle cx="46.3" cy="215.6" r="1.8" fill="#000000"/><circle cx="103.2" cy="286.9" r="1.8" fill="#000000"/><circle cx="299.4" cy="182.3" r="1.8" fill="#000000"/><circle cx="139.8" cy="282.8" r="1.8" fill="#000000"/><circle cx="124.5" cy="279.6" r="1.8" fill="#000000"/><circle cx="226.0" cy="227.8" r="1.8" fill="#000000"/><circle cx="131.5" cy="331.8" r="1.8" fill="#000000"/><circle cx="222.8" cy="314.1" r="1.8" fill="#000000"/><circle cx="131.7" cy="244.5" r="1.8" fill="#000000"/><circle cx="63.7" cy="278.2" r="1.8" fill="#000000"/><circle cx="122.2" cy="283.1" r="1.8" fill="#000000"/><circle cx="232.7" cy="303.0" r="1.8" fill="#000000"/><circle cx="69.3" cy="267.5" r="1.8" fill="#000000"/><circle cx="68.4" cy="205.7" r="1.8" fill="#000000"/><circle cx="171.2" cy="320.9" r="1.8" fill="#000000"/><circle cx="135.0" cy="287.8" r="1.8" fill="#000000"/><circle cx="192.1" cy="247.2" r="1.8" fill="#000000"/><circle cx="84.6" cy="219.3" r="1.8" fill="#000000"/><circle cx="112.4" cy="193.9" r="1.8" fill="#000000"/><circle cx="271.2" cy="223.6" r="1.8" fill="#000000"/><circle cx="178.0" cy="244.0" r="1.8" fill="#000000"/><circle cx="43.5" cy="268.4" r="1.8" fill="#000000"/><circle cx="82.2" cy="160.3" r="1.8" fill="#000000"/><circle cx="193.1" cy="307.8" r="1.8" fill="#000000"/><circle cx="139.8" cy="292.3" r="1.8" fill="#000000"/><circle cx="159.6" cy="311.9" r="1.8" fill="#000000"/><circle cx="166.8" cy="241.6" r="1.8" fill="#000000"/><circle cx="84.4" cy="233.4" r="1.8" fill="#000000"/><circle cx="122.2" cy="295.1" r="1.8" fill="#000000"/><circle cx="49.6" cy="262.8" r="1.8" fill="#000000"/><circle cx="241.9" cy="291.8" r="1.8" fill="#000000"/><circle cx="179.6" cy="287.8" r="1.8" fill="#000000"/><circle cx="107.5" cy="319.0" r="1.8" fill="#000000"/><circle cx="248.7" cy="256.7" r="1.8" fill="#000000"/><circle cx="74.0" cy="275.0" r="1.8" fill="#000000"/><circle cx="92.2" cy="303.3" r="1.8" fill="#000000"/><circle cx="141.5" cy="324.1" r="1.8" fill="#000000"/><circle cx="298.3" cy="213.4" r="1.8" fill="#000000"/><circle cx="230.0" cy="297.5" r="1.8" fill="#000000"/><circle cx="306.3" cy="185.8" r="1.8" fill="#000000"/><circle cx="82.3" cy="265.5" r="1.8" fill="#000000"/><circle cx="135.5" cy="302.5" r="1.8" fill="#000000"/><circle cx="109.6" cy="189.8" r="1.8" fill="#000000"/><circle cx="55.8" cy="243.3" r="1.8" fill="#000000"/><circle cx="119.9" cy="133.9" r="1.8" fill="#000000"/><circle cx="183.0" cy="279.2" r="1.8" fill="#000000"/><circle cx="51.0" cy="162.4" r="1.8" fill="#000000"/><circle cx="101.8" cy="274.7" r="1.8" fill="#000000"/><circle cx="208.3" cy="199.3" r="1.8" fill="#000000"/><circle cx="105.2" cy="264.4" r="1.8" fill="#000000"/><circle cx="148.9" cy="237.9" r="1.8" fill="#000000"/><circle cx="51.5" cy="279.7" r="1.8" fill="#000000"/><circle cx="288.7" cy="275.9" r="1.8" fill="#000000"/><circle cx="267.2" cy="208.4" r="1.8" fill="#000000"/><circle cx="179.1" cy="252.7" r="1.8" fill="#000000"/><circle cx="25.5" cy="243.5" r="1.8" fill="#000000"/><circle cx="294.5" cy="229.1" r="1.8" fill="#000000"/><circle cx="112.7" cy="240.2" r="1.8" fill="#000000"/><circle cx="103.5" cy="267.3" r="1.8" fill="#000000"/><circle cx="184.0" cy="249.8" r="1.8" fill="#000000"/><circle cx="277.8" cy="249.0" r="1.8" fill="#000000"/><circle cx="85.2" cy="226.2" r="1.8" fill="#000000"/><circle cx="189.9" cy="277.5" r="1.8" fill="#000000"/><circle cx="212.1" cy="284.1" r="1.8" fill="#000000"/><circle cx="116.8" cy="294.1" r="1.8" fill="#000000"/><circle cx="50.2" cy="256.4" r="1.8" fill="#000000"/><circle cx="255.5" cy="291.5" r="1.8" fill="#000000"/><circle cx="126.0" cy="255.8" r="1.8" fill="#000000"/><circle cx="66.1" cy="196.0" r="1.8" fill="#000000"/><circle cx="50.2" cy="275.4" r="1.8" fill="#000000"/><circle cx="49.1" cy="175.5" r="1.8" fill="#000000"/><circle cx="212.3" cy="251.5" r="1.8" fill="#000000"/><circle cx="108.3" cy="230.3" r="1.8" fill="#000000"/><circle cx="262.3" cy="252.3" r="1.8" fill="#000000"/><circle cx="151.6" cy="305.2" r="1.8" fill="#000000"/><circle cx="228.7" cy="284.1" r="1.8" fill="#000000"/><circle cx="304.0" cy="222.0" r="1.8" fill="#000000"/><circle cx="132.0" cy="293.6" r="1.8" fill="#000000"/><circle cx="48.8" cy="235.0" r="1.8" fill="#000000"/><circle cx="79.5" cy="254.1" r="1.8" fill="#000000"/><circle cx="273.3" cy="290.3" r="1.8" fill="#000000"/><circle cx="288.0" cy="198.4" r="1.8" fill="#000000"/><circle cx="131.0" cy="129.0" r="1.8" fill="#000000"/><circle cx="104.9" cy="212.9" r="1.8" fill="#000000"/><circle cx="251.2" cy="290.0" r="1.8" fill="#000000"/><circle cx="264.9" cy="299.7" r="1.8" fill="#000000"/><circle cx="167.1" cy="301.2" r="1.8" fill="#000000"/><circle cx="58.9" cy="254.3" r="1.8" fill="#000000"/><circle cx="153.5" cy="294.6" r="1.8" fill="#000000"/><circle cx="123.2" cy="263.6" r="1.8" fill="#000000"/><circle cx="106.6" cy="307.0" r="1.8" fill="#000000"/><circle cx="75.1" cy="255.5" r="1.8" fill="#000000"/><circle cx="81.2" cy="257.3" r="1.8" fill="#000000"/><circle cx="102.2" cy="309.4" r="1.8" fill="#000000"/><circle cx="253.1" cy="261.9" r="1.8" fill="#000000"/><circle cx="99.5" cy="299.4" r="1.8" fill="#000000"/><circle cx="193.6" cy="252.7" r="1.8" fill="#000000"/><circle cx="115.2" cy="288.8" r="1.8" fill="#000000"/><circle cx="240.2" cy="224.3" r="1.8" fill="#000000"/><circle cx="98.5" cy="191.1" r="1.8" fill="#000000"/><circle cx="50.6" cy="229.8" r="1.8" fill="#000000"/><circle cx="236.5" cy="274.6" r="1.8" fill="#000000"/><circle cx="63.5" cy="214.2" r="1.8" fill="#000000"/><circle cx="53.0" cy="280.6" r="1.8" fill="#000000"/><circle cx="226.9" cy="233.9" r="1.8" fill="#000000"/><circle cx="119.4" cy="279.5" r="1.8" fill="#000000"/><circle cx="201.8" cy="313.8" r="1.8" fill="#000000"/><circle cx="254.1" cy="254.6" r="1.8" fill="#000000"/><circle cx="179.3" cy="280.4" r="1.8" fill="#000000"/><circle cx="162.2" cy="255.9" r="1.8" fill="#000000"/><circle cx="196.7" cy="220.8" r="1.8" fill="#000000"/><circle cx="119.4" cy="290.4" r="1.8" fill="#000000"/><circle cx="203.7" cy="242.9" r="1.8" fill="#000000"/><circle cx="162.9" cy="263.4" r="1.8" fill="#000000"/><circle cx="213.0" cy="290.9" r="1.8" fill="#000000"/><circle cx="132.2" cy="266.7" r="1.8" fill="#000000"/><circle cx="76.4" cy="303.5" r="1.8" fill="#000000"/><circle cx="137.3" cy="308.8" r="1.8" fill="#000000"/><circle cx="27.3" cy="183.3" r="1.8" fill="#000000"/><circle cx="272.1" cy="212.7" r="1.8" fill="#000000"/><circle cx="177.8" cy="323.3" r="1.8" fill="#000000"/><circle cx="152.3" cy="265.5" r="1.8" fill="#000000"/><circle cx="125.6" cy="305.8" r="1.8" fill="#000000"/><circle cx="62.4" cy="220.6" r="1.8" fill="#000000"/><circle cx="83.4" cy="279.6" r="1.8" fill="#000000"/><circle cx="300.5" cy="187.9" r="1.8" fill="#000000"/><circle cx="170.2" cy="317.0" r="1.8" fill="#000000"/><circle cx="30.7" cy="268.4" r="1.8" fill="#000000"/><circle cx="184.6" cy="263.8" r="1.8" fill="#000000"/><circle cx="177.8" cy="295.1" r="1.8" fill="#000000"/><circle cx="266.9" cy="249.5" r="1.8" fill="#000000"/><circle cx="54.6" cy="258.5" r="1.8" fill="#000000"/><circle cx="267.0" cy="221.8" r="1.8" fill="#000000"/><circle cx="240.1" cy="242.3" r="1.8" fill="#000000"/><circle cx="126.5" cy="309.2" r="1.8" fill="#000000"/><circle cx="57.1" cy="263.4" r="1.8" fill="#000000"/><circle cx="23.1" cy="233.3" r="1.8" fill="#000000"/><circle cx="186.0" cy="274.3" r="1.8" fill="#000000"/><circle cx="180.0" cy="269.1" r="1.8" fill="#000000"/><circle cx="88.3" cy="259.8" r="1.8" fill="#000000"/><circle cx="310.5" cy="217.4" r="1.8" fill="#000000"/><circle cx="121.9" cy="308.4" r="1.8" fill="#000000"/><circle cx="264.8" cy="213.1" r="1.8" fill="#000000"/><circle cx="68.5" cy="229.0" r="1.8" fill="#000000"/><circle cx="79.6" cy="313.0" r="1.8" fill="#000000"/><circle cx="92.2" cy="247.9" r="1.8" fill="#000000"/><circle cx="44.2" cy="197.0" r="1.8" fill="#000000"/><circle cx="26.6" cy="239.0" r="1.8" fill="#000000"/><circle cx="126.7" cy="199.0" r="1.8" fill="#ffc0cb"/><circle cx="285.0" cy="142.3" r="1.8" fill="#ffc0cb"/><circle cx="122.6" cy="197.8" r="1.8" fill="#ffc0cb"/><circle cx="177.1" cy="178.7" r="1.8" fill="#ffc0cb"/><circle cx="223.5" cy="122.6" r="1.8" fill="#ffc0cb"/><circle cx="268.2" cy="199.9" r="1.8" fill="#ffc0cb"/><circle cx="188.7" cy="182.4" r="1.8" fill="#ffc0cb"/><circle cx="184.3" cy="144.0" r="1.8" fill="#ffc0cb"/><circle cx="168.2" cy="188.7" r="1.8" fill="#ffc0cb"/><circle cx="167.7" cy="162.4" r="1.8" fill="#ffc0cb"/><circle cx="165.3" cy="149.4" r="1.8" fill="#ffc0cb"/><circle cx="148.7" cy="181.7" r="1.8" fill="#ffc0cb"/><circle cx="185.8" cy="126.7" r="1.8" fill="#ffc0cb"/><circle cx="196.1" cy="177.7" r="1.8" fill="#ffc0cb"/><circle cx="188.0" cy="144.8" r="1.8" fill="#ffc0cb"/><circle cx="166.1" cy="184.0" r="1.8" fill="#ffc0cb"/><circle cx="169.4" cy="212.4" r="1.8" fill="#ffc0cb"/><circle cx="146.5" cy="176.8" r="1.8" fill="#ffc0cb"/><circle cx="113.7" cy="199.2" r="1.8" fill="#ffc0cb"/><circle cx="156.8" cy="146.5" r="1.8" fill="#ffc0cb"/><circle cx="161.0" cy="147.7" r="1.8" fill="#ffc0cb"/><circle cx="199.6" cy="152.1" r="1.8" fill="#ffc0cb"/><circle cx="150.6" cy="133.7" r="1.8" fill="#ffc0cb"/><circle cx="114.7" cy="167.8" r="1.8" fill="#ffc0cb"/><circle cx="192.2" cy="132.0" r="1.8" fill="#ffc0cb"/><circle cx="177.0" cy="150.6" r="1.8" fill="#ffc0cb"/><circle cx="297.5" cy="129.2" r="1.8" fill="#ffc0cb"/><circle cx="222.3" cy="145.5" r="1.8" fill="#ffc0cb"/><circle cx="199.3" cy="146.2" r="1.8" fill="#ffc0cb"/><circle cx="127.8" cy="187.0" r="1.8" fill="#ffc0cb"/><circle cx="140.1" cy="212.4" r="1.8" fill="#5bd7f8"/><circle cx="149.5" cy="268.2" r="1.8" fill="#5bd7f8"/><circle cx="59.9" cy="231.3" r="1.8" fill="#5bd7f8"/><circle cx="130.7" cy="182.5" r="1.8" fill="#5bd7f8"/><circle cx="108.8" cy="262.0" r="1.8" fill="#5bd7f8"/><circle cx="152.4" cy="211.1" r="1.8" fill="#5bd7f8"/><circle cx="149.8" cy="233.9" r="1.8" fill="#5bd7f8"/><circle cx="255.7" cy="214.6" r="1.8" fill="#5bd7f8"/><circle cx="157.0" cy="256.4" r="1.8" fill="#5bd7f8"/><circle cx="167.3" cy="215.2" r="1.8" fill="#5bd7f8"/><circle cx="123.5" cy="223.4" r="1.8" fill="#5bd7f8"/><circle cx="115.2" cy="164.3" r="1.8" fill="#5bd7f8"/><circle cx="167.3" cy="232.7" r="1.8" fill="#5bd7f8"/><circle cx="107.4" cy="246.7" r="1.8" fill="#5bd7f8"/><circle cx="123.5" cy="175.9" r="1.8" fill="#5bd7f8"/><circle cx="147.8" cy="100.5" r="1.8" fill="#5bd7f8"/><circle cx="118.4" cy="142.3" r="1.8" fill="#5bd7f8"/><circle cx="179.8" cy="192.4" r="1.8" fill="#5bd7f8"/><circle cx="150.8" cy="165.2" r="1.8" fill="#5bd7f8"/><circle cx="134.2" cy="185.6" r="1.8" fill="#5bd7f8"/><circle cx="212.5" cy="184.5" r="1.8" fill="#5bd7f8"/><circle cx="226.0" cy="188.8" r="1.8" fill="#5bd7f8"/><circle cx="138.9" cy="248.8" r="1.8" fill="#5bd7f8"/><circle cx="168.2" cy="206.8" r="1.8" fill="#5bd7f8"/><circle cx="63.5" cy="224.4" r="1.8" fill="#5bd7f8"/><circle cx="120.8" cy="156.6" r="1.8" fill="#5bd7f8"/><circle cx="273.2" cy="171.2" r="1.8" fill="#5bd7f8"/><circle cx="102.1" cy="154.3" r="1.8" fill="#5bd7f8"/><circle cx="202.5" cy="198.2" r="1.8" fill="#5bd7f8"/><circle cx="242.8" cy="271.6" r="1.8" fill="#5bd7f8"/><circle cx="162.9" cy="235.1" r="1.8" fill="#5bd7f8"/><circle cx="170.8" cy="216.0" r="1.8" fill="#5bd7f8"/><circle cx="185.3" cy="291.3" r="1.8" fill="#5bd7f8"/><circle cx="204.6" cy="188.7" r="1.8" fill="#5bd7f8"/><circle cx="59.0" cy="179.6" r="1.8" fill="#5bd7f8"/><circle cx="174.3" cy="210.3" r="1.8" fill="#5bd7f8"/><circle cx="200.2" cy="201.9" r="1.8" fill="#f58000"/><circle cx="237.6" cy="141.4" r="1.8" fill="#f58000"/><circle cx="217.9" cy="155.0" r="1.8" fill="#f58000"/><circle cx="203.3" cy="148.7" r="1.8" fill="#f58000"/><circle cx="209.3" cy="204.7" r="1.8" fill="#f58000"/><circle cx="222.5" cy="172.9" r="1.8" fill="#f58000"/><circle cx="166.8" cy="130.2" r="1.8" fill="#f58000"/><circle cx="152.3" cy="151.0" r="1.8" fill="#f58000"/><circle cx="200.9" cy="184.3" r="1.8" fill="#f58000"/><circle cx="206.2" cy="141.8" r="1.8" fill="#f58000"/><circle cx="192.2" cy="121.4" r="1.8" fill="#f58000"/><circle cx="219.7" cy="101.5" r="1.8" fill="#f58000"/><circle cx="148.4" cy="135.6" r="1.8" fill="#f58000"/><circle cx="156.6" cy="187.2" r="1.8" fill="#f58000"/><circle cx="181.7" cy="108.5" r="1.8" fill="#f58000"/><circle cx="205.6" cy="156.6" r="1.8" fill="#f58000"/><circle cx="204.6" cy="96.1" r="1.8" fill="#f58000"/><circle cx="110.7" cy="209.3" r="1.8" fill="#f58000"/><circle cx="149.3" cy="121.2" r="1.8" fill="#f58000"/><circle cx="174.5" cy="155.0" r="1.8" fill="#f58000"/><circle cx="231.5" cy="149.1" r="1.8" fill="#f58000"/><circle cx="219.9" cy="208.2" r="1.8" fill="#f58000"/><circle cx="145.2" cy="118.7" r="1.8" fill="#f58000"/><circle cx="263.5" cy="194.8" r="1.8" fill="#f58000"/><circle cx="256.9" cy="149.5" r="1.8" fill="#f58000"/><circle cx="173.4" cy="145.5" r="1.8" fill="#f58000"/><circle cx="176.2" cy="133.7" r="1.8" fill="#f58000"/><circle cx="174.3" cy="215.0" r="1.8" fill="#f58000"/><circle cx="154.0" cy="191.7" r="1.8" fill="#f58000"/><circle cx="155.5" cy="105.1" r="1.8" fill="#f58000"/><circle cx="169.4" cy="118.8" r="1.8" fill="#f58000"/><circle cx="167.1" cy="166.1" r="1.8" fill="#f58000"/><circle cx="232.0" cy="128.7" r="1.8" fill="#f58000"/><circle cx="230.9" cy="180.0" r="1.8" fill="#f58000"/><circle cx="197.7" cy="114.4" r="1.8" fill="#f58000"/><circle cx="242.2" cy="161.8" r="1.8" fill="#f58000"/><circle cx="180.4" cy="151.3" r="1.8" fill="#f58000"/><circle cx="191.5" cy="220.4" r="1.8" fill="#3cd800"/><circle cx="184.5" cy="153.8" r="1.8" fill="#3cd800"/><circle cx="194.5" cy="174.0" r="1.8" fill="#3cd800"/><circle cx="174.5" cy="171.3" r="1.8" fill="#3cd800"/><circle cx="161.9" cy="159.2" r="1.8" fill="#3cd800"/><circle cx="146.9" cy="149.6" r="1.8" fill="#3cd800"/><circle cx="176.6" cy="197.2" r="1.8" fill="#3cd800"/><circle cx="175.8" cy="126.3" r="1.8" fill="#3cd800"/><circle cx="155.5" cy="170.8" r="1.8" fill="#3cd800"/><circle cx="141.9" cy="227.4" r="1.8" fill="#3cd800"/><circle cx="166.6" cy="197.2" r="1.8" fill="#3cd800"/><circle cx="208.8" cy="173.5" r="1.8" fill="#3cd800"/><circle cx="177.1" cy="156.6" r="1.8" fill="#3cd800"/><circle cx="158.3" cy="174.0" r="1.8" fill="#3cd800"/><circle cx="193.9" cy="209.9" r="1.8" fill="#3cd800"/><circle cx="206.7" cy="179.8" r="1.8" fill="#3cd800"/><circle cx="153.4" cy="133.2" r="1.8" fill="#3cd800"/><circle cx="164.5" cy="168.7" r="1.8" fill="#3cd800"/><circle cx="214.1" cy="136.9" r="1.8" fill="#3cd800"/><circle cx="197.2" cy="182.6" r="1.8" fill="#3cd800"/><circle cx="191.9" cy="180.3" r="1.8" fill="#3cd800"/><circle cx="183.5" cy="172.4" r="1.8" fill="#3cd800"/><circle cx="159.4" cy="201.2" r="1.8" fill="#3cd800"/><circle cx="188.2" cy="158.7" r="1.8" fill="#3cd800"/><circle cx="176.1" cy="175.6" r="1.8" fill="#3cd800"/><circle cx="176.1" cy="172.4" r="1.8" fill="#3cd800"/><circle cx="181.4" cy="167.7" r="1.8" fill="#3cd800"/><circle cx="147.3" cy="197.5" r="1.8" fill="#3cd800"/><circle cx="179.2" cy="143.0" r="1.8" fill="#3cd800"/><circle cx="88.4" cy="272.6" r="1.8" fill="#3cd800"/><circle cx="189.8" cy="171.9" r="1.8" fill="#3cd800"/><circle cx="142.8" cy="170.8" r="1.8" fill="#dc0035"/><circle cx="172.4" cy="194.0" r="1.8" fill="#dc0035"/><circle cx="234.8" cy="174.7" r="1.8" fill="#dc0035"/><circle cx="240.8" cy="204.1" r="1.8" fill="#dc0035"/><circle cx="200.3" cy="157.1" r="1.8" fill="#dc0035"/><circle cx="152.4" cy="181.2" r="1.8" fill="#dc0035"/><circle cx="142.9" cy="197.8" r="1.8" fill="#dc0035"/><circle cx="168.7" cy="150.6" r="1.8" fill="#dc0035"/><circle cx="143.2" cy="277.3" r="1.8" fill="#dc0035"/><circle cx="190.3" cy="165.5" r="1.8" fill="#dc0035"/><circle cx="109.4" cy="163.1" r="1.8" fill="#dc0035"/><circle cx="150.7" cy="234.8" r="1.8" fill="#dc0035"/><circle cx="190.1" cy="201.5" r="1.8" fill="#dc0035"/><circle cx="127.9" cy="226.0" r="1.8" fill="#dc0035"/><circle cx="268.9" cy="147.6" r="1.8" fill="#dc0035"/><circle cx="193.5" cy="176.6" r="1.8" fill="#dc0035"/><circle cx="118.0" cy="188.5" r="1.8" fill="#dc0035"/><circle cx="157.7" cy="228.7" r="1.8" fill="#dc0035"/><circle cx="162.9" cy="213.8" r="1.8" fill="#dc0035"/><circle cx="168.2" cy="201.9" r="1.8" fill="#dc0035"/><circle cx="103.8" cy="278.1" r="1.8" fill="#dc0035"/><circle cx="215.5" cy="204.7" r="1.8" fill="#dc0035"/><circle cx="157.0" cy="182.9" r="1.8" fill="#dc0035"/><circle cx="105.3" cy="192.8" r="1.8" fill="#dc0035"/><circle cx="195.6" cy="195.1" r="1.8" fill="#dc0035"/><circle cx="21.7" cy="184.4" r="1.8" fill="#dc0035"/><circle cx="169.1" cy="238.3" r="1.8" fill="#dc0035"/><circle cx="125.1" cy="188.1" r="1.8" fill="#dc0035"/><circle cx="108.3" cy="218.2" r="1.8" fill="#dc0035"/><circle cx="217.2" cy="221.3" r="1.8" fill="#dc0035"/><circle cx="99.7" cy="294.9" r="1.8" fill="#dc0035"/><circle cx="123.5" cy="205.9" r="1.8" fill="#dc0035"/><circle cx="61.9" cy="210.7" r="1.8" fill="#dc0035"/><circle cx="182.9" cy="196.1" r="1.8" fill="#dc0035"/><circle cx="207.7" cy="168.7" r="1.8" fill="#dc0035"/><circle cx="182.9" cy="191.4" r="1.8" fill="#dc0035"/><circle cx="222.3" cy="157.6" r="1.8" fill="#dc0035"/><circle cx="155.9" cy="226.9" r="1.8" fill="#dc0035"/><circle cx="210.2" cy="206.4" r="1.8" fill="#dc0035"/><circle cx="231.8" cy="166.5" r="1.8" fill="#dc0035"/><circle cx="125.3" cy="218.7" r="1.8" fill="#dc0035"/><circle cx="152.9" cy="232.2" r="1.8" fill="#dc0035"/><circle cx="165.9" cy="221.1" r="1.8" fill="#dc0035"/><circle cx="69.2" cy="194.5" r="1.8" fill="#dc0035"/><circle cx="217.6" cy="164.6" r="1.8" fill="#dc0035"/><circle cx="143.7" cy="155.5" r="1.8" fill="#dc0035"/><circle cx="151.2" cy="201.2" r="1.8" fill="#dc0035"/><circle cx="189.2" cy="219.0" r="1.8" fill="#dc0035"/><circle cx="102.4" cy="206.6" r="1.8" fill="#dc0035"/><circle cx="186.1" cy="184.5" r="1.8" fill="#dc0035"/><circle cx="142.4" cy="235.7" r="1.8" fill="#dc0035"/><circle cx="171.7" cy="222.2" r="1.8" fill="#dc0035"/><circle cx="151.5" cy="219.9" r="1.8" fill="#dc0035"/><circle cx="164.7" cy="211.1" r="1.8" fill="#dc0035"/><circle cx="173.4" cy="218.7" r="1.8" fill="#dc0035"/><circle cx="137.5" cy="200.1" r="1.8" fill="#dc0035"/><circle cx="184.5" cy="219.4" r="1.8" fill="#dc0035"/><circle cx="183.9" cy="205.9" r="1.8" fill="#dc0035"/><circle cx="254.6" cy="155.3" r="1.8" fill="#dc0035"/><circle cx="142.4" cy="231.6" r="1.8" fill="#dc0035"/><circle cx="114.3" cy="175.5" r="1.8" fill="#dc0035"/><circle cx="151.2" cy="153.4" r="1.8" fill="#dc0035"/><circle cx="126.8" cy="167.4" r="1.8" fill="#dc0035"/><circle cx="251.6" cy="194.2" r="1.8" fill="#dc0035"/><circle cx="134.3" cy="159.2" r="1.8" fill="#dc0035"/><circle cx="196.1" cy="188.7" r="1.8" fill="#dc0035"/><circle cx="233.9" cy="217.3" r="1.8" fill="#dc0035"/><circle cx="92.7" cy="164.3" r="1.8" fill="#dc0035"/><circle cx="160.8" cy="197.2" r="1.8" fill="#dc0035"/><circle cx="153.3" cy="221.7" r="1.8" fill="#dc0035"/><circle cx="122.3" cy="184.6" r="1.8" fill="#dc0035"/><circle cx="214.6" cy="189.3" r="1.8" fill="#dc0035"/><circle cx="152.4" cy="229.5" r="1.8" fill="#dc0035"/><circle cx="229.5" cy="231.3" r="1.8" fill="#dc0035"/><circle cx="188.2" cy="195.1" r="1.8" fill="#dc0035"/><circle cx="199.3" cy="194.5" r="1.8" fill="#dc0035"/><circle cx="177.6" cy="118.1" r="1.8" fill="#dc0035"/><circle cx="187.7" cy="175.0" r="1.8" fill="#dc0035"/><circle cx="253.1" cy="178.7" r="1.8" fill="#dc0035"/><circle cx="224.5" cy="142.1" r="1.8" fill="#dc0035"/><circle cx="247.5" cy="165.2" r="1.8" fill="#dc0035"/><circle cx="271.5" cy="197.8" r="1.8" fill="#dc0035"/><circle cx="278.4" cy="162.8" r="1.8" fill="#dc0035"/><circle cx="133.7" cy="213.4" r="1.8" fill="#dc0035"/><circle cx="180.4" cy="205.9" r="1.8" fill="#dc0035"/><circle cx="138.1" cy="138.8" r="1.8" fill="#dc0035"/><circle cx="141.0" cy="302.9" r="1.8" fill="#dc0035"/><circle cx="131.4" cy="237.9" r="1.8" fill="#dc0035"/><circle cx="176.6" cy="220.4" r="1.8" fill="#dc0035"/><circle cx="125.6" cy="271.2" r="1.8" fill="#dc0035"/><circle cx="161.2" cy="228.1" r="1.8" fill="#dc0035"/><circle cx="271.2" cy="248.8" r="1.8" fill="#dc0035"/><circle cx="134.8" cy="192.7" r="1.8" fill="#dc0035"/><circle cx="202.5" cy="180.3" r="1.8" fill="#dc0035"/><circle cx="221.5" cy="184.3" r="1.8" fill="#dc0035"/><circle cx="90.5" cy="155.3" r="1.8" fill="#dc0035"/><circle cx="230.0" cy="158.2" r="1.8" fill="#dc0035"/><circle cx="177.5" cy="219.9" r="1.8" fill="#dc0035"/><circle cx="203.0" cy="173.5" r="1.8" fill="#dc0035"/><circle cx="150.9" cy="189.9" r="1.8" fill="#008080"/><circle cx="192.3" cy="146.2" r="1.8" fill="#008080"/><circle cx="172.4" cy="177.1" r="1.8" fill="#008080"/><circle cx="165.5" cy="168.7" r="1.8" fill="#008080"/><circle cx="154.9" cy="174.6" r="1.8" fill="#008080"/><circle cx="151.2" cy="176.8" r="1.8" fill="#008080"/><circle cx="127.9" cy="210.3" r="1.8" fill="#008080"/><circle cx="55.2" cy="217.8" r="1.8" fill="#008080"/><circle cx="136.2" cy="166.3" r="1.8" fill="#008080"/><circle cx="200.2" cy="205.4" r="1.8" fill="#008080"/><circle cx="121.4" cy="180.1" r="1.8" fill="#008080"/><circle cx="102.5" cy="175.9" r="1.8" fill="#008080"/><circle cx="154.8" cy="197.9" r="1.8" fill="#008080"/><circle cx="179.8" cy="195.1" r="1.8" fill="#008080"/><circle cx="114.8" cy="214.4" r="1.8" fill="#008080"/><circle cx="186.6" cy="171.9" r="1.8" fill="#008080"/><circle cx="133.4" cy="162.2" r="1.8" fill="#008080"/><circle cx="181.3" cy="209.4" r="1.8" fill="#008080"/><circle cx="157.4" cy="159.2" r="1.8" fill="#008080"/><circle cx="180.3" cy="189.8" r="1.8" fill="#008080"/><circle cx="143.1" cy="190.7" r="1.8" fill="#008080"/><circle cx="230.2" cy="172.1" r="1.8" fill="#008080"/><circle cx="156.6" cy="195.1" r="1.8" fill="#008080"/><circle cx="157.8" cy="167.8" r="1.8" fill="#008080"/><circle cx="237.6" cy="150.2" r="1.8" fill="#008080"/><circle cx="162.4" cy="191.4" r="1.8" fill="#008080"/><circle cx="193.5" cy="153.2" r="1.8" fill="#008080"/><circle cx="194.0" cy="168.7" r="1.8" fill="#008080"/><circle cx="186.6" cy="192.4" r="1.8" fill="#008080"/><circle cx="159.2" cy="180.3" r="1.8" fill="#008080"/><circle cx="198.2" cy="180.3" r="1.8" fill="#008080"/><circle cx="256.7" cy="139.7" r="1.8" fill="#008080"/><circle cx="98.1" cy="198.5" r="1.8" fill="#008080"/><circle cx="212.5" cy="159.2" r="1.8" fill="#008080"/><circle cx="217.0" cy="172.3" r="1.8" fill="#008080"/><circle cx="178.2" cy="185.6" r="1.8" fill="#008080"/><circle cx="178.7" cy="201.5" r="1.8" fill="#008080"/><circle cx="176.1" cy="190.9" r="1.8" fill="#008080"/><circle cx="198.2" cy="171.3" r="1.8" fill="#008080"/><circle cx="177.8" cy="211.1" r="1.8" fill="#008080"/><circle cx="44.1" cy="180.1" r="1.8" fill="#008080"/><circle cx="136.2" cy="177.2" r="1.8" fill="#008080"/><circle cx="235.1" cy="150.6" r="1.8" fill="#008080"/><circle cx="140.0" cy="198.5" r="1.8" fill="#008080"/><circle cx="140.7" cy="223.9" r="1.8" fill="#008080"/><circle cx="159.2" cy="186.1" r="1.8" fill="#008080"/><circle cx="169.8" cy="180.8" r="1.8" fill="#008080"/><circle cx="259.1" cy="165.4" r="1.8" fill="#008080"/><circle cx="240.4" cy="124.0" r="1.8" fill="#008080"/><circle cx="165.5" cy="187.2" r="1.8" fill="#008080"/><circle cx="140.0" cy="169.3" r="1.8" fill="#008080"/><circle cx="157.7" cy="205.9" r="1.8" fill="#008080"/><circle cx="169.8" cy="183.5" r="1.8" fill="#008080"/><circle cx="147.4" cy="165.2" r="1.8" fill="#008080"/><circle cx="166.6" cy="179.3" r="1.8" fill="#008080"/><circle cx="158.5" cy="236.5" r="1.8" fill="#008080"/><circle cx="190.1" cy="154.7" r="1.8" fill="#008080"/><circle cx="180.8" cy="186.1" r="1.8" fill="#008080"/><circle cx="188.3" cy="200.1" r="1.8" fill="#008080"/><circle cx="201.9" cy="189.3" r="1.8" fill="#008080"/><circle cx="194.0" cy="185.1" r="1.8" fill="#008080"/><circle cx="215.0" cy="146.2" r="1.8" fill="#008080"/><circle cx="186.1" cy="168.7" r="1.8" fill="#008080"/><circle cx="174.3" cy="207.6" r="1.8" fill="#008080"/><circle cx="139.7" cy="193.6" r="1.8" fill="#008080"/><circle cx="158.5" cy="211.1" r="1.8" fill="#008080"/><circle cx="184.5" cy="170.8" r="1.8" fill="#008080"/><circle cx="155.9" cy="210.3" r="1.8" fill="#008080"/><circle cx="154.6" cy="159.6" r="1.8" fill="#008080"/><circle cx="180.3" cy="178.7" r="1.8" fill="#008080"/><circle cx="150.8" cy="143.7" r="1.8" fill="#008080"/><circle cx="191.9" cy="197.2" r="1.8" fill="#008080"/><circle cx="243.4" cy="173.1" r="1.8" fill="#008080"/><circle cx="145.7" cy="188.9" r="1.8" fill="#008080"/><circle cx="163.4" cy="177.7" r="1.8" fill="#008080"/><circle cx="216.0" cy="205.9" r="1.8" fill="#008080"/><circle cx="246.0" cy="171.6" r="1.8" fill="#008080"/><circle cx="174.5" cy="179.3" r="1.8" fill="#008080"/><circle cx="201.4" cy="170.8" r="1.8" fill="#008080"/><circle cx="198.2" cy="191.9" r="1.8" fill="#008080"/><circle cx="216.5" cy="177.0" r="1.8" fill="#008080"/><circle cx="206.7" cy="189.3" r="1.8" fill="#008080"/><circle cx="46.7" cy="292.0" r="1.8" fill="#008080"/><circle cx="215.5" cy="160.8" r="1.8" fill="#008080"/><circle cx="136.8" cy="154.9" r="1.8" fill="#008080"/><circle cx="122.6" cy="236.9" r="1.8" fill="#008080"/><circle cx="206.7" cy="165.0" r="1.8" fill="#008080"/><circle cx="199.3" cy="185.6" r="1.8" fill="#008080"/><circle cx="143.7" cy="210.3" r="1.8" fill="#008080"/><circle cx="213.0" cy="174.5" r="1.8" fill="#008080"/><circle cx="198.2" cy="176.1" r="1.8" fill="#008080"/><circle cx="141.0" cy="180.3" r="1.8" fill="#008080"/><circle cx="126.8" cy="195.6" r="1.8" fill="#008080"/><circle cx="193.0" cy="159.2" r="1.8" fill="#008080"/><circle cx="146.6" cy="194.3" r="1.8" fill="#008080"/><circle cx="147.4" cy="149.1" r="1.8" fill="#008080"/><circle cx="148.3" cy="188.1" r="1.8" fill="#008080"/><circle cx="144.8" cy="180.8" r="1.8" fill="#008080"/><circle cx="182.4" cy="154.2" r="1.8" fill="#008080"/><circle cx="169.8" cy="190.3" r="1.8" fill="#008080"/><circle cx="130.7" cy="191.4" r="1.8" fill="#008080"/><circle cx="185.6" cy="194.0" r="1.8" fill="#008080"/><circle cx="221.2" cy="168.9" r="1.8" fill="#008080"/><circle cx="174.1" cy="153.8" r="1.8" fill="#008080"/><circle cx="140.3" cy="153.0" r="1.8" fill="#008080"/><circle cx="156.1" cy="165.9" r="1.8" fill="#008080"/><circle cx="227.5" cy="183.2" r="1.8" fill="#008080"/><circle cx="65.0" cy="199.8" r="1.8" fill="#008080"/><circle cx="202.5" cy="195.6" r="1.8" fill="#008080"/><circle cx="175.0" cy="188.7" r="1.8" fill="#008080"/><circle cx="140.0" cy="184.1" r="1.8" fill="#008080"/><circle cx="176.1" cy="164.0" r="1.8" fill="#008080"/><circle cx="214.1" cy="195.6" r="1.8" fill="#008080"/><circle cx="165.5" cy="164.5" r="1.8" fill="#008080"/><circle cx="143.7" cy="184.6" r="1.8" fill="#008080"/><circle cx="169.8" cy="168.7" r="1.8" fill="#008080"/><circle cx="211.9" cy="171.9" r="1.8" fill="#008080"/><circle cx="239.7" cy="169.9" r="1.8" fill="#008080"/><circle cx="202.3" cy="153.8" r="1.8" fill="#008080"/><circle cx="189.8" cy="191.4" r="1.8" fill="#008080"/><circle cx="209.4" cy="136.3" r="1.8" fill="#008080"/><circle cx="145.2" cy="159.0" r="1.8" fill="#008080"/><circle cx="125.0" cy="177.8" r="1.8" fill="#008080"/><circle cx="257.2" cy="191.2" r="1.8" fill="#008080"/><circle cx="165.8" cy="145.1" r="1.8" fill="#008080"/><circle cx="168.7" cy="197.2" r="1.8" fill="#008080"/><circle cx="171.3" cy="178.7" r="1.8" fill="#008080"/><circle cx="130.6" cy="195.5" r="1.8" fill="#008080"/><circle cx="210.4" cy="188.2" r="1.8" fill="#008080"/><circle cx="193.6" cy="200.6" r="1.8" fill="#008080"/><circle cx="218.6" cy="156.4" r="1.8" fill="#008080"/><circle cx="177.7" cy="183.5" r="1.8" fill="#008080"/><circle cx="211.4" cy="166.1" r="1.8" fill="#008080"/><circle cx="180.3" cy="165.0" r="1.8" fill="#008080"/><circle cx="235.9" cy="168.9" r="1.8" fill="#008080"/><circle cx="178.7" cy="158.2" r="1.8" fill="#008080"/><circle cx="182.9" cy="185.6" r="1.8" fill="#008080"/><circle cx="168.7" cy="159.2" r="1.8" fill="#008080"/><circle cx="203.7" cy="143.0" r="1.8" fill="#008080"/><circle cx="149.3" cy="160.5" r="1.8" fill="#008080"/><circle cx="147.3" cy="191.5" r="1.8" fill="#008080"/><circle cx="220.2" cy="203.3" r="1.8" fill="#008080"/><circle cx="189.8" cy="185.6" r="1.8" fill="#008080"/><circle cx="130.6" cy="177.2" r="1.8" fill="#008080"/><circle cx="171.9" cy="187.2" r="1.8" fill="#008080"/><circle cx="204.1" cy="202.4" r="1.8" fill="#008080"/><circle cx="262.9" cy="157.3" r="1.8" fill="#008080"/><circle cx="198.0" cy="240.0" r="1.8" fill="#008080"/><circle cx="107.5" cy="165.6" r="1.8" fill="#008080"/><circle cx="250.9" cy="164.1" r="1.8" fill="#008080"/><circle cx="122.6" cy="191.2" r="1.8" fill="#008080"/><circle cx="218.6" cy="194.9" r="1.8" fill="#008080"/><circle cx="167.1" cy="173.5" r="1.8" fill="#008080"/><circle cx="184.5" cy="176.6" r="1.8" fill="#008080"/><circle cx="163.4" cy="174.5" r="1.8" fill="#008080"/><circle cx="225.6" cy="161.5" r="1.8" fill="#008080"/><circle cx="196.7" cy="162.9" r="1.8" fill="#008080"/><circle cx="172.9" cy="175.0" r="1.8" fill="#008080"/><circle cx="161.2" cy="205.0" r="1.8" fill="#008080"/><circle cx="228.7" cy="175.8" r="1.8" fill="#008080"/><circle cx="177.1" cy="191.4" r="1.8" fill="#008080"/><circle cx="215.7" cy="154.7" r="1.8" fill="#008080"/><circle cx="176.9" cy="205.9" r="1.8" fill="#008080"/><circle cx="210.4" cy="194.5" r="1.8" fill="#008080"/><circle cx="174.5" cy="165.5" r="1.8" fill="#008080"/><circle cx="145.6" cy="152.8" r="1.8" fill="#008080"/><circle cx="171.9" cy="170.8" r="1.8" fill="#008080"/><circle cx="140.0" cy="159.4" r="1.8" fill="#008080"/><circle cx="178.2" cy="166.6" r="1.8" fill="#008080"/><circle cx="196.8" cy="249.7" r="1.8" fill="#008080"/><circle cx="223.1" cy="177.6" r="1.8" fill="#008080"/><circle cx="172.9" cy="189.3" r="1.8" fill="#008080"/><circle cx="191.4" cy="192.4" r="1.8" fill="#008080"/><circle cx="204.0" cy="165.5" r="1.8" fill="#008080"/><circle cx="135.8" cy="196.3" r="1.8" fill="#008080"/><circle cx="174.5" cy="190.9" r="1.8" fill="#008080"/><circle cx="146.0" cy="199.8" r="1.8" fill="#008080"/><circle cx="210.9" cy="179.8" r="1.8" fill="#008080"/><circle cx="145.4" cy="215.5" r="1.8" fill="#008080"/><circle cx="138.4" cy="205.0" r="1.8" fill="#008080"/><circle cx="174.0" cy="185.1" r="1.8" fill="#008080"/><circle cx="144.1" cy="163.7" r="1.8" fill="#008080"/><circle cx="208.8" cy="163.4" r="1.8" fill="#008080"/><circle cx="128.0" cy="140.3" r="1.8" fill="#008080"/><circle cx="156.1" cy="185.6" r="1.8" fill="#008080"/><circle cx="147.1" cy="174.0" r="1.8" fill="#008080"/><circle cx="151.6" cy="185.9" r="1.8" fill="#008080"/><circle cx="195.1" cy="180.3" r="1.8" fill="#008080"/><circle cx="130.4" cy="199.0" r="1.8" fill="#008080"/><circle cx="179.3" cy="175.0" r="1.8" fill="#008080"/><circle cx="249.4" cy="133.9" r="1.8" fill="#008080"/><circle cx="195.1" cy="157.1" r="1.8" fill="#008080"/><circle cx="152.4" cy="214.6" r="1.8" fill="#008080"/><circle cx="154.2" cy="203.3" r="1.8" fill="#008080"/><circle cx="203.0" cy="191.4" r="1.8" fill="#008080"/><circle cx="132.1" cy="168.4" r="1.8" fill="#008080"/><circle cx="154.1" cy="183.6" r="1.8" fill="#008080"/><circle cx="136.6" cy="211.7" r="1.8" fill="#008080"/><circle cx="168.7" cy="182.4" r="1.8" fill="#008080"/><circle cx="138.9" cy="207.6" r="1.8" fill="#008080"/><circle cx="239.1" cy="124.4" r="1.8" fill="#008080"/><circle cx="182.4" cy="196.7" r="1.8" fill="#008080"/><circle cx="239.4" cy="177.8" r="1.8" fill="#008080"/><circle cx="168.2" cy="175.6" r="1.8" fill="#008080"/><circle cx="125.3" cy="160.0" r="1.8" fill="#008080"/><circle cx="162.9" cy="194.5" r="1.8" fill="#008080"/><circle cx="272.2" cy="176.8" r="1.8" fill="#008080"/><circle cx="209.7" cy="209.9" r="1.8" fill="#008080"/><circle cx="173.5" cy="196.7" r="1.8" fill="#008080"/><circle cx="200.9" cy="176.6" r="1.8" fill="#008080"/><circle cx="150.6" cy="195.8" r="1.8" fill="#008080"/><circle cx="165.5" cy="190.9" r="1.8" fill="#008080"/><circle cx="223.6" cy="196.6" r="1.8" fill="#008080"/><circle cx="147.6" cy="101.3" r="1.8" fill="#008080"/><circle cx="170.8" cy="173.5" r="1.8" fill="#008080"/><circle cx="195.1" cy="190.9" r="1.8" fill="#008080"/><circle cx="204.6" cy="182.9" r="1.8" fill="#008080"/><circle cx="133.4" cy="129.4" r="1.8" fill="#008080"/><circle cx="162.4" cy="169.8" r="1.8" fill="#008080"/><circle cx="137.0" cy="180.9" r="1.8" fill="#008080"/><circle cx="186.6" cy="179.8" r="1.8" fill="#008080"/><circle cx="158.3" cy="164.6" r="1.8" fill="#008080"/><circle cx="129.6" cy="166.5" r="1.8" fill="#008080"/><circle cx="172.4" cy="160.3" r="1.8" fill="#008080"/><circle cx="201.4" cy="165.0" r="1.8" fill="#008080"/><circle cx="137.7" cy="143.5" r="1.8" fill="#008080"/><circle cx="242.4" cy="143.5" r="1.8" fill="#008080"/><circle cx="245.5" cy="206.3" r="1.8" fill="#008080"/><circle cx="144.6" cy="146.5" r="1.8" fill="#008080"/><circle cx="34.1" cy="261.5" r="1.8" fill="#008080"/><circle cx="186.6" cy="177.1" r="1.8" fill="#008080"/><circle cx="130.5" cy="209.4" r="1.8" fill="#008080"/><circle cx="210.4" cy="158.2" r="1.8" fill="#008080"/><circle cx="147.8" cy="184.8" r="1.8" fill="#008080"/><circle cx="213.0" cy="192.4" r="1.8" fill="#008080"/><circle cx="160.8" cy="186.6" r="1.8" fill="#008080"/><circle cx="159.2" cy="191.4" r="1.8" fill="#008080"/><circle cx="184.0" cy="181.4" r="1.8" fill="#008080"/><circle cx="165.5" cy="194.5" r="1.8" fill="#008080"/><circle cx="141.5" cy="142.7" r="1.8" fill="#008080"/><circle cx="154.9" cy="152.5" r="1.8" fill="#008080"/><circle cx="226.5" cy="172.0" r="1.8" fill="#008080"/><circle cx="186.6" cy="197.7" r="1.8" fill="#008080"/><circle cx="233.0" cy="192.6" r="1.8" fill="#008080"/><circle cx="172.6" cy="202.4" r="1.8" fill="#008080"/><circle cx="109.0" cy="91.2" r="1.8" fill="#008080"/><circle cx="160.6" cy="223.4" r="1.8" fill="#008080"/><circle cx="205.2" cy="154.7" r="1.8" fill="#ffd700"/><circle cx="220.8" cy="159.6" r="1.8" fill="#ffd700"/><circle cx="179.3" cy="132.6" r="1.8" fill="#ffd700"/><circle cx="212.5" cy="155.5" r="1.8" fill="#ffd700"/><circle cx="197.4" cy="154.7" r="1.8" fill="#ffd700"/><circle cx="164.1" cy="118.5" r="1.8" fill="#ffd700"/><circle cx="195.3" cy="150.3" r="1.8" fill="#ffd700"/><circle cx="191.7" cy="96.8" r="1.8" fill="#ffd700"/><circle cx="213.2" cy="84.6" r="1.8" fill="#ffd700"/><circle cx="230.3" cy="121.4" r="1.8" fill="#ffd700"/><circle cx="233.3" cy="89.7" r="1.8" fill="#ffd700"/><circle cx="202.6" cy="140.1" r="1.8" fill="#ffd700"/><circle cx="177.6" cy="133.1" r="1.8" fill="#ffd700"/><circle cx="242.2" cy="114.6" r="1.8" fill="#ffd700"/><circle cx="195.2" cy="96.1" r="1.8" fill="#ffd700"/><circle cx="232.0" cy="110.3" r="1.8" fill="#ffd700"/><circle cx="175.0" cy="68.9" r="1.8" fill="#ffd700"/><circle cx="259.7" cy="121.0" r="1.8" fill="#ffd700"/><circle cx="177.6" cy="109.7" r="1.8" fill="#ffd700"/><circle cx="158.7" cy="136.5" r="1.8" fill="#ffd700"/><circle cx="188.7" cy="132.6" r="1.8" fill="#ffd700"/><circle cx="238.7" cy="96.8" r="1.8" fill="#ffd700"/><circle cx="233.1" cy="94.9" r="1.8" fill="#ffd700"/><circle cx="231.4" cy="101.5" r="1.8" fill="#ffd700"/><circle cx="223.3" cy="109.5" r="1.8" fill="#ffd700"/><circle cx="212.1" cy="127.9" r="1.8" fill="#ffd700"/><circle cx="198.2" cy="90.6" r="1.8" fill="#ffd700"/><circle cx="183.4" cy="129.4" r="1.8" fill="#ffd700"/><circle cx="211.5" cy="110.9" r="1.8" fill="#ffd700"/><circle cx="226.2" cy="127.3" r="1.8" fill="#ffd700"/><circle cx="171.1" cy="126.1" r="1.8" fill="#ffd700"/><circle cx="212.1" cy="124.4" r="1.8" fill="#ffd700"/><circle cx="217.0" cy="96.8" r="1.8" fill="#ffd700"/><circle cx="166.1" cy="141.8" r="1.8" fill="#ffd700"/><circle cx="209.5" cy="79.0" r="1.8" fill="#ffd700"/><circle cx="186.1" cy="160.3" r="1.8" fill="#ffd700"/><circle cx="255.6" cy="107.9" r="1.8" fill="#ffd700"/><circle cx="238.2" cy="118.5" r="1.8" fill="#ffd700"/><circle cx="158.7" cy="121.0" r="1.8" fill="#ffd700"/><circle cx="248.8" cy="89.5" r="1.8" fill="#ffd700"/><circle cx="205.1" cy="116.7" r="1.8" fill="#ffd700"/><circle cx="196.7" cy="143.6" r="1.8" fill="#ffd700"/><circle cx="212.1" cy="120.3" r="1.8" fill="#ffd700"/><circle cx="140.5" cy="94.6" r="1.8" fill="#ffd700"/><circle cx="206.3" cy="109.7" r="1.8" fill="#ffd700"/><circle cx="191.0" cy="119.1" r="1.8" fill="#ffd700"/><circle cx="212.5" cy="154.7" r="1.8" fill="#ffd700"/><circle cx="199.2" cy="124.4" r="1.8" fill="#ffd700"/><circle cx="160.6" cy="120.8" r="1.8" fill="#ffd700"/><circle cx="203.9" cy="102.7" r="1.8" fill="#ffd700"/><circle cx="166.4" cy="122.0" r="1.8" fill="#ffd700"/><circle cx="217.6" cy="131.7" r="1.8" fill="#ffd700"/><circle cx="184.0" cy="95.3" r="1.8" fill="#ffd700"/><circle cx="229.1" cy="119.7" r="1.8" fill="#ffd700"/><circle cx="202.8" cy="116.2" r="1.8" fill="#ffd700"/><circle cx="213.3" cy="116.7" r="1.8" fill="#ffd700"/><circle cx="181.1" cy="100.3" r="1.8" fill="#ffd700"/><circle cx="216.4" cy="141.8" r="1.8" fill="#ffd700"/><circle cx="167.0" cy="116.7" r="1.8" fill="#ffd700"/><circle cx="250.9" cy="118.2" r="1.8" fill="#ffd700"/><circle cx="222.1" cy="136.7" r="1.8" fill="#ffd700"/><circle cx="199.8" cy="101.5" r="1.8" fill="#ffd700"/><circle cx="215.1" cy="110.9" r="1.8" fill="#ffd700"/><circle cx="213.3" cy="112.3" r="1.8" fill="#ffd700"/><circle cx="209.1" cy="142.6" r="1.8" fill="#ffd700"/><circle cx="172.7" cy="100.9" r="1.8" fill="#ffd700"/><circle cx="195.1" cy="113.2" r="1.8" fill="#ffd700"/><circle cx="206.9" cy="104.4" r="1.8" fill="#ffd700"/><circle cx="235.5" cy="123.8" r="1.8" fill="#ffd700"/><circle cx="234.4" cy="136.4" r="1.8" fill="#ffd700"/><circle cx="212.1" cy="102.1" r="1.8" fill="#ffd700"/><circle cx="248.4" cy="142.3" r="1.8" fill="#ffd700"/><circle cx="194.0" cy="122.0" r="1.8" fill="#ffd700"/><circle cx="241.3" cy="132.8" r="1.8" fill="#ffd700"/><circle cx="229.1" cy="129.0" r="1.8" fill="#ffd700"/><circle cx="204.0" cy="158.7" r="1.8" fill="#ffd700"/><circle cx="186.6" cy="155.0" r="1.8" fill="#ffd700"/><circle cx="203.3" cy="108.5" r="1.8" fill="#ffd700"/><circle cx="242.2" cy="122.1" r="1.8" fill="#ffd700"/><circle cx="167.6" cy="124.4" r="1.8" fill="#ffd700"/><circle cx="189.0" cy="103.9" r="1.8" fill="#ffd700"/><circle cx="193.4" cy="124.9" r="1.8" fill="#ffd700"/><circle cx="181.1" cy="130.8" r="1.8" fill="#ffd700"/><circle cx="182.8" cy="134.3" r="1.8" fill="#ffd700"/><circle cx="174.6" cy="107.1" r="1.8" fill="#ffd700"/><circle cx="172.6" cy="96.3" r="1.8" fill="#ffd700"/><circle cx="201.6" cy="127.9" r="1.8" fill="#ffd700"/><circle cx="239.1" cy="105.6" r="1.8" fill="#ffd700"/><circle cx="236.7" cy="128.5" r="1.8" fill="#ffd700"/><circle cx="195.1" cy="125.5" r="1.8" fill="#ffd700"/><circle cx="187.5" cy="108.5" r="1.8" fill="#ffd700"/><circle cx="227.1" cy="75.6" r="1.8" fill="#ffd700"/><circle cx="203.9" cy="132.0" r="1.8" fill="#ffd700"/><circle cx="187.2" cy="162.4" r="1.8" fill="#ffd700"/><circle cx="171.9" cy="152.1" r="1.8" fill="#ffd700"/><circle cx="240.9" cy="105.6" r="1.8" fill="#ffd700"/><circle cx="189.9" cy="122.6" r="1.8" fill="#ffd700"/><circle cx="216.8" cy="122.8" r="1.8" fill="#ffd700"/><circle cx="221.5" cy="106.0" r="1.8" fill="#ffd700"/><circle cx="199.8" cy="122.0" r="1.8" fill="#ffd700"/><circle cx="182.8" cy="115.0" r="1.8" fill="#ffd700"/><circle cx="213.3" cy="100.9" r="1.8" fill="#ffd700"/><circle cx="220.7" cy="98.3" r="1.8" fill="#ffd700"/><circle cx="209.2" cy="116.5" r="1.8" fill="#ffd700"/><circle cx="162.8" cy="93.8" r="1.8" fill="#ffd700"/><circle cx="231.2" cy="116.2" r="1.8" fill="#ffd700"/><circle cx="236.5" cy="160.4" r="1.8" fill="#ffd700"/><circle cx="211.3" cy="140.4" r="1.8" fill="#ffd700"/><circle cx="224.2" cy="118.5" r="1.8" fill="#ffd700"/><circle cx="242.2" cy="100.9" r="1.8" fill="#ffd700"/><circle cx="195.1" cy="132.6" r="1.8" fill="#ffd700"/><circle cx="207.8" cy="107.1" r="1.8" fill="#ffd700"/><circle cx="207.8" cy="97.9" r="1.8" fill="#ffd700"/><circle cx="170.5" cy="92.5" r="1.8" fill="#ffd700"/><circle cx="166.2" cy="94.0" r="1.8" fill="#ffd700"/><circle cx="184.4" cy="82.4" r="1.8" fill="#ffd700"/><circle cx="251.6" cy="123.6" r="1.8" fill="#ffd700"/><circle cx="241.3" cy="135.6" r="1.8" fill="#ffd700"/><circle cx="173.8" cy="120.8" r="1.8" fill="#ffd700"/><circle cx="196.3" cy="116.2" r="1.8" fill="#ffd700"/><circle cx="237.4" cy="70.2" r="1.8" fill="#ffd700"/><circle cx="208.6" cy="133.1" r="1.8" fill="#ffd700"/><circle cx="191.9" cy="93.3" r="1.8" fill="#ffd700"/><circle cx="215.1" cy="94.9" r="1.8" fill="#ffd700"/><circle cx="168.0" cy="106.2" r="1.8" fill="#ffd700"/><circle cx="197.7" cy="155.0" r="1.8" fill="#ffd700"/><circle cx="170.3" cy="116.2" r="1.8" fill="#ffd700"/><circle cx="222.1" cy="117.3" r="1.8" fill="#ffd700"/><circle cx="184.0" cy="105.6" r="1.8" fill="#ffd700"/><circle cx="243.7" cy="112.2" r="1.8" fill="#ffd700"/><circle cx="219.2" cy="136.1" r="1.8" fill="#ffd700"/><circle cx="189.9" cy="136.7" r="1.8" fill="#ffd700"/><circle cx="215.1" cy="106.8" r="1.8" fill="#ffd700"/><circle cx="171.5" cy="106.0" r="1.8" fill="#ffd700"/><circle cx="218.6" cy="118.1" r="1.8" fill="#ffd700"/><circle cx="202.8" cy="119.7" r="1.8" fill="#ffd700"/><circle cx="240.6" cy="96.8" r="1.8" fill="#ffd700"/><circle cx="222.7" cy="114.4" r="1.8" fill="#ffd700"/><circle cx="228.3" cy="106.4" r="1.8" fill="#ffd700"/><circle cx="207.4" cy="122.0" r="1.8" fill="#ffd700"/><circle cx="231.7" cy="113.2" r="1.8" fill="#ffd700"/><circle cx="207.4" cy="127.3" r="1.8" fill="#ffd700"/><circle cx="182.3" cy="120.8" r="1.8" fill="#ffd700"/><circle cx="168.2" cy="126.1" r="1.8" fill="#ffd700"/><circle cx="220.9" cy="127.9" r="1.8" fill="#ffd700"/><circle cx="239.4" cy="78.5" r="1.8" fill="#800080"/><circle cx="234.4" cy="103.9" r="1.8" fill="#800080"/><circle cx="195.7" cy="100.3" r="1.8" fill="#800080"/><circle cx="269.4" cy="79.2" r="1.8" fill="#800080"/><circle cx="226.2" cy="108.5" r="1.8" fill="#800080"/><circle cx="221.1" cy="44.9" r="1.8" fill="#800080"/><circle cx="204.4" cy="73.6" r="1.8" fill="#800080"/><circle cx="291.9" cy="108.4" r="1.8" fill="#800080"/><circle cx="269.4" cy="106.0" r="1.8" fill="#800080"/><circle cx="261.7" cy="85.0" r="1.8" fill="#800080"/><circle cx="240.6" cy="78.1" r="1.8" fill="#800080"/><circle cx="251.2" cy="53.0" r="1.8" fill="#800080"/><circle cx="274.1" cy="122.9" r="1.8" fill="#800080"/><circle cx="184.9" cy="96.8" r="1.8" fill="#800080"/><circle cx="168.6" cy="80.3" r="1.8" fill="#800080"/><circle cx="260.0" cy="112.4" r="1.8" fill="#800080"/><circle cx="240.9" cy="74.9" r="1.8" fill="#800080"/><circle cx="248.8" cy="102.2" r="1.8" fill="#800080"/><circle cx="242.2" cy="86.5" r="1.8" fill="#800080"/><circle cx="266.8" cy="122.5" r="1.8" fill="#800080"/><circle cx="244.7" cy="54.8" r="1.8" fill="#800080"/><circle cx="233.6" cy="65.9" r="1.8" fill="#800080"/><circle cx="225.6" cy="100.6" r="1.8" fill="#800080"/><circle cx="198.2" cy="57.1" r="1.8" fill="#800080"/><circle cx="232.7" cy="81.6" r="1.8" fill="#800080"/><circle cx="248.4" cy="122.1" r="1.8" fill="#800080"/><circle cx="250.5" cy="140.3" r="1.8" fill="#800080"/><circle cx="198.8" cy="69.5" r="1.8" fill="#800080"/><circle cx="219.8" cy="75.5" r="1.8" fill="#800080"/><circle cx="282.2" cy="90.4" r="1.8" fill="#800080"/><circle cx="196.5" cy="64.2" r="1.8" fill="#800080"/><circle cx="209.8" cy="54.1" r="1.8" fill="#800080"/><circle cx="260.6" cy="126.2" r="1.8" fill="#800080"/><circle cx="270.4" cy="112.7" r="1.8" fill="#800080"/><circle cx="249.4" cy="127.5" r="1.8" fill="#800080"/><circle cx="273.7" cy="95.5" r="1.8" fill="#800080"/><circle cx="236.4" cy="53.2" r="1.8" fill="#800080"/><circle cx="266.4" cy="35.4" r="1.8" fill="#800080"/><circle cx="250.7" cy="98.9" r="1.8" fill="#800080"/><circle cx="272.8" cy="83.7" r="1.8" fill="#800080"/><circle cx="247.1" cy="112.7" r="1.8" fill="#800080"/><circle cx="222.2" cy="69.5" r="1.8" fill="#800080"/><circle cx="287.8" cy="107.5" r="1.8" fill="#800080"/><circle cx="182.7" cy="73.2" r="1.8" fill="#800080"/><circle cx="253.5" cy="56.2" r="1.8" fill="#800080"/><circle cx="177.4" cy="95.3" r="1.8" fill="#800080"/><circle cx="207.8" cy="84.8" r="1.8" fill="#800080"/><circle cx="161.5" cy="81.8" r="1.8" fill="#800080"/><circle cx="217.5" cy="67.4" r="1.8" fill="#800080"/><circle cx="284.2" cy="77.5" r="1.8" fill="#800080"/><circle cx="177.9" cy="104.4" r="1.8" fill="#800080"/><circle cx="185.3" cy="74.9" r="1.8" fill="#800080"/><circle cx="243.2" cy="117.8" r="1.8" fill="#800080"/><circle cx="262.1" cy="89.7" r="1.8" fill="#800080"/><circle cx="250.1" cy="63.1" r="1.8" fill="#800080"/><circle cx="190.0" cy="86.5" r="1.8" fill="#800080"/><circle cx="288.3" cy="62.7" r="1.8" fill="#800080"/><circle cx="193.3" cy="81.3" r="1.8" fill="#800080"/><circle cx="249.0" cy="116.9" r="1.8" fill="#800080"/><circle cx="181.4" cy="76.0" r="1.8" fill="#800080"/><circle cx="279.9" cy="89.7" r="1.8" fill="#800080"/><circle cx="249.4" cy="113.5" r="1.8" fill="#800080"/><circle cx="276.2" cy="97.9" r="1.8" fill="#800080"/><circle cx="260.2" cy="119.5" r="1.8" fill="#800080"/><circle cx="219.6" cy="88.0" r="1.8" fill="#800080"/><circle cx="264.7" cy="94.4" r="1.8" fill="#800080"/><circle cx="215.3" cy="80.5" r="1.8" fill="#800080"/><circle cx="282.0" cy="108.4" r="1.8" fill="#800080"/><circle cx="293.8" cy="81.8" r="1.8" fill="#800080"/><circle cx="263.8" cy="76.4" r="1.8" fill="#800080"/><circle cx="258.4" cy="107.5" r="1.8" fill="#800080"/><circle cx="271.8" cy="117.2" r="1.8" fill="#800080"/><circle cx="230.3" cy="89.9" r="1.8" fill="#800080"/><circle cx="230.3" cy="134.5" r="1.8" fill="#800080"/><circle cx="280.5" cy="124.5" r="1.8" fill="#800080"/><circle cx="264.4" cy="113.5" r="1.8" fill="#800080"/><circle cx="199.7" cy="75.1" r="1.8" fill="#800080"/><circle cx="195.6" cy="99.6" r="1.8" fill="#800080"/><circle cx="280.7" cy="98.8" r="1.8" fill="#800080"/><circle cx="258.4" cy="57.5" r="1.8" fill="#800080"/><circle cx="241.9" cy="83.7" r="1.8" fill="#800080"/><circle cx="178.5" cy="89.1" r="1.8" fill="#800080"/><circle cx="275.6" cy="109.7" r="1.8" fill="#800080"/><circle cx="257.4" cy="85.2" r="1.8" fill="#800080"/><circle cx="241.5" cy="94.6" r="1.8" fill="#800080"/><circle cx="228.9" cy="71.9" r="1.8" fill="#800080"/><circle cx="157.8" cy="83.7" r="1.8" fill="#800080"/><circle cx="275.6" cy="87.1" r="1.8" fill="#800080"/></g>
<g><rect x="442.5" y="13.9" width="15" height="15" fill="#8a3090"/><rect x="443.6" y="15.0" width="12.9" height="12.9" fill="#b3aba8"/><rect x="452.0" y="21.1" width="2.5" height="0.5" fill="#7a7070"/><rect x="471.5" y="13.9" width="15" height="15" fill="#8a3090"/><rect x="472.6" y="15.0" width="12.9" height="12.9" fill="#b3aba8"/><rect x="481.0" y="21.1" width="2.5" height="0.5" fill="#7a7070"/><rect x="474.0" y="24.9" width="15" height="15" fill="#8a3090"/><rect x="475.1" y="25.9" width="12.9" height="12.9" fill="#b3aba8"/><rect x="483.5" y="32.1" width="2.5" height="0.5" fill="#7a7070"/><rect x="436.6" y="34.6" width="15" height="15" fill="#f2c828"/><rect x="437.7" y="35.6" width="12.9" height="12.9" fill="#d4a08c"/><rect x="430.1" y="37.5" width="15" height="15" fill="#8a3090"/><rect x="431.2" y="38.5" width="12.9" height="12.9" fill="#b3aba8"/><rect x="439.6" y="44.7" width="2.5" height="0.5" fill="#7a7070"/><rect x="368.3" y="33.2" width="15" height="15" fill="#8a3090"/><rect x="369.4" y="34.2" width="12.9" height="12.9" fill="#b3aba8"/><rect x="377.8" y="40.4" width="2.5" height="0.5" fill="#7a7070"/><rect x="352.3" y="41.8" width="15" height="15" fill="#8a3090"/><rect x="353.4" y="42.8" width="12.9" height="12.9" fill="#b3aba8"/><rect x="361.8" y="49.0" width="2.5" height="0.5" fill="#7a7070"/><rect x="397.4" y="42.2" width="15" height="15" fill="#8a3090"/><rect x="398.4" y="43.2" width="12.9" height="12.9" fill="#b3aba8"/><rect x="406.9" y="49.4" width="2.5" height="0.5" fill="#7a7070"/><rect x="396.5" y="54.6" width="15" height="15" fill="#8a3090"/><rect x="397.6" y="55.6" width="12.9" height="12.9" fill="#b3aba8"/><rect x="406.0" y="61.8" width="2.5" height="0.5" fill="#7a7070"/><rect x="397.1" y="67.7" width="15" height="15" fill="#8a3090"/><rect x="398.2" y="68.8" width="12.9" height="12.9" fill="#b3aba8"/><rect x="406.6" y="74.9" width="2.5" height="0.5" fill="#7a7070"/><rect x="413.4" y="70.0" width="15" height="15" fill="#8a3090"/><rect x="414.4" y="71.0" width="12.9" height="12.9" fill="#b3aba8"/><rect x="422.9" y="77.2" width="2.5" height="0.5" fill="#7a7070"/><rect x="361.5" y="63.4" width="15" height="15" fill="#8a3090"/><rect x="362.6" y="64.5" width="12.9" height="12.9" fill="#b3aba8"/><rect x="371.0" y="70.6" width="2.5" height="0.5" fill="#7a7070"/><rect x="368.8" y="68.6" width="15" height="15" fill="#8a3090"/><rect x="369.9" y="69.6" width="12.9" height="12.9" fill="#b3aba8"/><rect x="378.3" y="75.8" width="2.5" height="0.5" fill="#7a7070"/><rect x="352.1" y="73.7" width="15" height="15" fill="#8a3090"/><rect x="353.2" y="74.8" width="12.9" height="12.9" fill="#b3aba8"/><rect x="361.6" y="80.9" width="2.5" height="0.5" fill="#7a7070"/><rect x="430.1" y="66.6" width="15" height="15" fill="#f2c828"/><rect x="431.2" y="67.6" width="12.9" height="12.9" fill="#6fb090"/><rect x="439.1" y="71.6" width="15" height="15" fill="#8a3090"/><rect x="440.2" y="72.6" width="12.9" height="12.9" fill="#b3aba8"/><rect x="448.6" y="78.8" width="2.5" height="0.5" fill="#7a7070"/><rect x="447.5" y="55.9" width="15" height="15" fill="#8a3090"/><rect x="448.6" y="56.9" width="12.9" height="12.9" fill="#b3aba8"/><rect x="457.0" y="63.1" width="2.5" height="0.5" fill="#7a7070"/><rect x="453.1" y="54.4" width="15" height="15" fill="#8a3090"/><rect x="454.2" y="55.4" width="12.9" height="12.9" fill="#b3aba8"/><rect x="462.6" y="61.6" width="2.5" height="0.5" fill="#7a7070"/><rect x="469.4" y="51.8" width="15" height="15" fill="#8a3090"/><rect x="470.4" y="52.8" width="12.9" height="12.9" fill="#b3aba8"/><rect x="478.9" y="59.0" width="2.5" height="0.5" fill="#7a7070"/><rect x="482.7" y="52.2" width="15" height="15" fill="#f2c828"/><rect x="483.8" y="53.2" width="12.9" height="12.9" fill="#b0a8d8"/><rect x="494.3" y="61.5" width="15" height="15" fill="#8a3090"/><rect x="495.4" y="62.5" width="12.9" height="12.9" fill="#b3aba8"/><rect x="503.8" y="68.7" width="2.5" height="0.5" fill="#7a7070"/><rect x="460.6" y="69.9" width="15" height="15" fill="#f2c828"/><rect x="461.7" y="71.0" width="12.9" height="12.9" fill="#a0b084"/><rect x="475.2" y="68.1" width="15" height="15" fill="#f2c828"/><rect x="476.2" y="69.1" width="12.9" height="12.9" fill="#7ab0b8"/><rect x="484.6" y="81.2" width="15" height="15" fill="#f2c828"/><rect x="485.7" y="82.2" width="12.9" height="12.9" fill="#d8a0c0"/><rect x="499.5" y="80.2" width="15" height="15" fill="#f2c828"/><rect x="500.6" y="81.2" width="12.9" height="12.9" fill="#90a8c8"/><rect x="518.3" y="79.9" width="15" height="15" fill="#f08a20"/><rect x="519.3" y="81.0" width="12.9" height="12.9" fill="#a9a5a3"/><rect x="470.5" y="82.1" width="15" height="15" fill="#f2c828"/><rect x="471.6" y="83.1" width="12.9" height="12.9" fill="#90b890"/><rect x="462.5" y="86.8" width="15" height="15" fill="#f2c828"/><rect x="463.6" y="87.8" width="12.9" height="12.9" fill="#7ab8a0"/><rect x="442.8" y="90.2" width="15" height="15" fill="#f2c828"/><rect x="443.9" y="91.2" width="12.9" height="12.9" fill="#b0a8d8"/><rect x="428.5" y="91.2" width="15" height="15" fill="#8a3090"/><rect x="429.6" y="92.2" width="12.9" height="12.9" fill="#b3aba8"/><rect x="438.0" y="98.4" width="2.5" height="0.5" fill="#7a7070"/><rect x="495.2" y="92.0" width="15" height="15" fill="#f2c828"/><rect x="496.2" y="93.0" width="12.9" height="12.9" fill="#c8a0d0"/><rect x="501.8" y="99.9" width="15" height="15" fill="#f2c828"/><rect x="502.9" y="101.0" width="12.9" height="12.9" fill="#70b0a8"/><rect x="464.0" y="99.5" width="15" height="15" fill="#f2c828"/><rect x="465.1" y="100.5" width="12.9" height="12.9" fill="#90b0c0"/><rect x="477.8" y="100.8" width="15" height="15" fill="#f2c828"/><rect x="478.9" y="101.8" width="12.9" height="12.9" fill="#d0a8c8"/><rect x="392.1" y="97.1" width="15" height="15" fill="#8a3090"/><rect x="393.2" y="98.1" width="12.9" height="12.9" fill="#b3aba8"/><rect x="401.6" y="104.3" width="2.5" height="0.5" fill="#7a7070"/><rect x="410.5" y="95.8" width="15" height="15" fill="#f2c828"/><rect x="411.6" y="96.8" width="12.9" height="12.9" fill="#d8a0b8"/><rect x="398.4" y="103.4" width="15" height="15" fill="#8a3090"/><rect x="399.4" y="104.5" width="12.9" height="12.9" fill="#b3aba8"/><rect x="407.9" y="110.6" width="2.5" height="0.5" fill="#7a7070"/><rect x="407.1" y="102.9" width="15" height="15" fill="#8a3090"/><rect x="408.2" y="104.0" width="12.9" height="12.9" fill="#b3aba8"/><rect x="416.6" y="110.1" width="2.5" height="0.5" fill="#7a7070"/><rect x="390.3" y="111.5" width="15" height="15" fill="#8a3090"/><rect x="391.4" y="112.5" width="12.9" height="12.9" fill="#b3aba8"/><rect x="399.8" y="118.7" width="2.5" height="0.5" fill="#7a7070"/><rect x="356.2" y="109.0" width="15" height="15" fill="#8a3090"/><rect x="357.2" y="110.0" width="12.9" height="12.9" fill="#b3aba8"/><rect x="365.7" y="116.2" width="2.5" height="0.5" fill="#7a7070"/><rect x="356.2" y="122.7" width="15" height="15" fill="#8a3090"/><rect x="357.2" y="123.8" width="12.9" height="12.9" fill="#b3aba8"/><rect x="365.7" y="129.9" width="2.5" height="0.5" fill="#7a7070"/><rect x="380.2" y="121.8" width="15" height="15" fill="#8a3090"/><rect x="381.2" y="122.8" width="12.9" height="12.9" fill="#b3aba8"/><rect x="389.7" y="129.0" width="2.5" height="0.5" fill="#7a7070"/><rect x="390.0" y="121.2" width="15" height="15" fill="#8a3090"/><rect x="391.1" y="122.2" width="12.9" height="12.9" fill="#b3aba8"/><rect x="399.5" y="128.4" width="2.5" height="0.5" fill="#7a7070"/><rect x="370.8" y="136.2" width="15" height="15" fill="#8a3090"/><rect x="371.9" y="137.2" width="12.9" height="12.9" fill="#b3aba8"/><rect x="380.3" y="143.4" width="2.5" height="0.5" fill="#7a7070"/><rect x="385.3" y="138.4" width="15" height="15" fill="#f2c828"/><rect x="386.4" y="139.5" width="12.9" height="12.9" fill="#b0a8d8"/><rect x="405.9" y="128.7" width="15" height="15" fill="#f2c828"/><rect x="406.9" y="129.8" width="12.9" height="12.9" fill="#88b888"/><rect x="400.6" y="151.6" width="15" height="15" fill="#8a3090"/><rect x="401.7" y="152.7" width="12.9" height="12.9" fill="#b3aba8"/><rect x="410.1" y="158.8" width="2.5" height="0.5" fill="#7a7070"/><rect x="376.5" y="158.7" width="15" height="15" fill="#8a3090"/><rect x="377.6" y="159.8" width="12.9" height="12.9" fill="#b3aba8"/><rect x="386.0" y="165.9" width="2.5" height="0.5" fill="#7a7070"/><rect x="384.3" y="170.8" width="15" height="15" fill="#8a3090"/><rect x="385.4" y="171.9" width="12.9" height="12.9" fill="#b3aba8"/><rect x="393.8" y="178.0" width="2.5" height="0.5" fill="#7a7070"/><rect x="437.7" y="103.4" width="15" height="15" fill="#f2c828"/><rect x="438.8" y="104.5" width="12.9" height="12.9" fill="#c8a0d0"/><rect x="436.8" y="110.0" width="15" height="15" fill="#f2c828"/><rect x="437.9" y="111.0" width="12.9" height="12.9" fill="#d0a8b0"/><rect x="426.8" y="117.5" width="15" height="15" fill="#f2c828"/><rect x="427.9" y="118.5" width="12.9" height="12.9" fill="#b0a8d8"/><rect x="429.3" y="131.9" width="15" height="15" fill="#f2c828"/><rect x="430.4" y="133.0" width="12.9" height="12.9" fill="#70b8b0"/><rect x="430.2" y="151.2" width="15" height="15" fill="#f2c828"/><rect x="431.2" y="152.2" width="12.9" height="12.9" fill="#c0a0d0"/><rect x="415.8" y="142.8" width="15" height="15" fill="#f2c828"/><rect x="416.9" y="143.9" width="12.9" height="12.9" fill="#d8a0c0"/><rect x="422.2" y="145.6" width="15" height="15" fill="#f2c828"/><rect x="423.2" y="146.7" width="12.9" height="12.9" fill="#d8a0c0"/><rect x="439.6" y="145.6" width="15" height="15" fill="#f2c828"/><rect x="440.7" y="146.7" width="12.9" height="12.9" fill="#a0b890"/><rect x="419.5" y="173.7" width="15" height="15" fill="#f2c828"/><rect x="420.6" y="174.8" width="12.9" height="12.9" fill="#c0a0d0"/><rect x="494.4" y="122.7" width="15" height="15" fill="#f2c828"/><rect x="495.4" y="123.8" width="12.9" height="12.9" fill="#80b890"/><rect x="521.5" y="117.7" width="15" height="15" fill="#f2c828"/><rect x="522.5" y="118.8" width="12.9" height="12.9" fill="#d4a898"/><rect x="545.0" y="80.6" width="15" height="15" fill="#1e8a8a"/><use href="#ring" x="546.0" y="81.6" width="12.9" height="12.9"/><rect x="555.2" y="81.0" width="15" height="15" fill="#4cc83c"/><use href="#streak" x="556.2" y="82.0" width="12.9" height="12.9"/><rect x="556.2" y="82.0" width="12.9" height="12.9" fill="url(#nz)"/><rect x="548.3" y="94.6" width="15" height="15" fill="#1e8a8a"/><use href="#ring" x="549.3" y="95.6" width="12.9" height="12.9"/><rect x="571.0" y="95.4" width="15" height="15" fill="#1e8a8a"/><use href="#pin" x="572.0" y="96.5" width="12.9" height="12.9"/><rect x="565.5" y="89.4" width="15" height="15" fill="#ffc0cb"/><rect x="566.5" y="90.5" width="12.9" height="12.9" fill="#aaa6a5"/><rect x="566.5" y="90.5" width="12.9" height="12.9" fill="url(#nz)"/><rect x="530.5" y="101.2" width="15" height="15" fill="#ffc0cb"/><rect x="531.5" y="102.2" width="12.9" height="12.9" fill="#aaa6a5"/><rect x="531.5" y="102.2" width="12.9" height="12.9" fill="url(#nz)"/><rect x="539.3" y="99.3" width="15" height="15" fill="#f08a20"/><rect x="540.3" y="100.3" width="12.9" height="12.9" fill="#a9a5a3"/><rect x="565.5" y="105.5" width="15" height="15" fill="#1e8a8a"/><use href="#pin" x="566.5" y="106.5" width="12.9" height="12.9"/><rect x="593.3" y="99.3" width="15" height="15" fill="#f08a20"/><rect x="594.3" y="100.3" width="12.9" height="12.9" fill="#a9a5a3"/><rect x="594.3" y="117.9" width="15" height="15" fill="#1e8a8a"/><use href="#star" x="595.3" y="119.0" width="12.9" height="12.9"/><rect x="566.5" y="122.7" width="15" height="15" fill="#1e8a8a"/><use href="#ring" x="567.5" y="123.8" width="12.9" height="12.9"/><rect x="551.5" y="125.2" width="15" height="15" fill="#4cc83c"/><use href="#streak" x="552.5" y="126.2" width="12.9" height="12.9"/><rect x="552.5" y="126.2" width="12.9" height="12.9" fill="url(#nz)"/><rect x="555.6" y="129.3" width="15" height="15" fill="#f08a20"/><rect x="556.6" y="130.4" width="12.9" height="12.9" fill="#a9a5a3"/><rect x="579.2" y="124.6" width="15" height="15" fill="#1e8a8a"/><rect x="580.2" y="125.6" width="12.9" height="12.9" fill="#a19d9c"/><rect x="580.2" y="125.6" width="12.9" height="12.9" fill="url(#nz)"/><rect x="576.4" y="115.4" width="15" height="15" fill="#4cc83c"/><use href="#streak" x="577.4" y="116.5" width="12.9" height="12.9"/><rect x="577.4" y="116.5" width="12.9" height="12.9" fill="url(#nz)"/><rect x="590.8" y="134.9" width="15" height="15" fill="#4cc83c"/><use href="#streak" x="591.8" y="136.0" width="12.9" height="12.9"/><rect x="591.8" y="136.0" width="12.9" height="12.9" fill="url(#nz)"/><rect x="455.0" y="103.4" width="15" height="15" fill="#f2c828"/><rect x="456.1" y="104.5" width="12.9" height="12.9" fill="#d8a0c0"/><rect x="489.6" y="105.3" width="15" height="15" fill="#f2c828"/><rect x="490.7" y="106.3" width="12.9" height="12.9" fill="#c8a0d0"/><rect x="461.0" y="108.5" width="15" height="15" fill="#f2c828"/><rect x="462.1" y="109.5" width="12.9" height="12.9" fill="#80b0c0"/><rect x="489.1" y="112.2" width="15" height="15" fill="#f2c828"/><rect x="490.2" y="113.2" width="12.9" height="12.9" fill="#80b8a0"/><rect x="450.3" y="117.1" width="15" height="15" fill="#f2c828"/><rect x="451.4" y="118.1" width="12.9" height="12.9" fill="#d8a0c0"/><rect x="444.7" y="119.0" width="15" height="15" fill="#f2c828"/><rect x="445.8" y="120.0" width="12.9" height="12.9" fill="#90b890"/><rect x="478.4" y="120.3" width="15" height="15" fill="#f2c828"/><rect x="479.4" y="121.3" width="12.9" height="12.9" fill="#a8b088"/><rect x="467.2" y="128.7" width="15" height="15" fill="#f2c828"/><rect x="468.2" y="129.8" width="12.9" height="12.9" fill="#b0b090"/><rect x="463.4" y="129.6" width="15" height="15" fill="#f2c828"/><rect x="464.4" y="130.7" width="12.9" height="12.9" fill="#d8a0c0"/><rect x="479.3" y="133.4" width="15" height="15" fill="#f2c828"/><rect x="480.4" y="134.5" width="12.9" height="12.9" fill="#c8a8a0"/><rect x="490.6" y="138.1" width="15" height="15" fill="#f2c828"/><rect x="491.7" y="139.2" width="12.9" height="12.9" fill="#d8a0c0"/><rect x="479.3" y="140.9" width="15" height="15" fill="#f2c828"/><rect x="480.4" y="142.0" width="12.9" height="12.9" fill="#c8a898"/><rect x="464.3" y="141.4" width="15" height="15" fill="#f2c828"/><rect x="465.4" y="142.5" width="12.9" height="12.9" fill="#70b8b0"/><rect x="450.3" y="139.0" width="15" height="15" fill="#f2c828"/><rect x="451.4" y="140.1" width="12.9" height="12.9" fill="#c8a8a0"/><rect x="456.9" y="145.9" width="15" height="15" fill="#f2c828"/><rect x="457.9" y="147.0" width="12.9" height="12.9" fill="#70b8b0"/><rect x="487.8" y="151.2" width="15" height="15" fill="#f2c828"/><rect x="488.9" y="152.2" width="12.9" height="12.9" fill="#d8a0c0"/><rect x="499.6" y="154.6" width="15" height="15" fill="#f2c828"/><rect x="500.7" y="155.7" width="12.9" height="12.9" fill="#90a8c8"/><rect x="512.1" y="151.2" width="15" height="15" fill="#f2c828"/><rect x="513.1" y="152.2" width="12.9" height="12.9" fill="#90a8c8"/><rect x="440.0" y="156.8" width="15" height="15" fill="#f2c828"/><rect x="441.1" y="157.9" width="12.9" height="12.9" fill="#c8a8a0"/><rect x="434.9" y="164.3" width="15" height="15" fill="#f2c828"/><rect x="435.9" y="165.4" width="12.9" height="12.9" fill="#70b8c0"/><rect x="453.5" y="160.5" width="15" height="15" fill="#f2c828"/><rect x="454.6" y="161.6" width="12.9" height="12.9" fill="#70b8a0"/><rect x="468.1" y="167.1" width="15" height="15" fill="#f2c828"/><rect x="469.2" y="168.2" width="12.9" height="12.9" fill="#d8a0c0"/><rect x="491.5" y="163.4" width="15" height="15" fill="#ffc0cb"/><rect x="492.6" y="164.5" width="12.9" height="12.9" fill="#aaa6a5"/><rect x="492.6" y="164.5" width="12.9" height="12.9" fill="url(#nz)"/><rect x="480.8" y="169.9" width="15" height="15" fill="#f2c828"/><rect x="481.9" y="171.0" width="12.9" height="12.9" fill="#80b8a0"/><rect x="497.2" y="176.2" width="15" height="15" fill="#f2c828"/><rect x="498.2" y="177.2" width="12.9" height="12.9" fill="#6ab8b0"/><rect x="510.6" y="140.5" width="15" height="15" fill="#4cc83c"/><use href="#streak" x="511.7" y="141.6" width="12.9" height="12.9"/><rect x="511.7" y="141.6" width="12.9" height="12.9" fill="url(#nz)"/><rect x="523.0" y="134.5" width="15" height="15" fill="#f08a20"/><rect x="524.0" y="135.6" width="12.9" height="12.9" fill="#a9a5a3"/><rect x="538.9" y="158.7" width="15" height="15" fill="#4cc83c"/><use href="#streak" x="539.9" y="159.8" width="12.9" height="12.9"/><rect x="539.9" y="159.8" width="12.9" height="12.9" fill="url(#nz)"/><rect x="602.2" y="122.4" width="15" height="15" fill="#f08a20"/><rect x="603.2" y="123.5" width="12.9" height="12.9" fill="#a9a5a3"/><rect x="617.2" y="134.3" width="15" height="15" fill="#1e8a8a"/><use href="#star" x="618.2" y="135.4" width="12.9" height="12.9"/><rect x="567.8" y="140.3" width="15" height="15" fill="#1e8a8a"/><rect x="568.8" y="141.4" width="12.9" height="12.9" fill="#a19d9c"/><rect x="568.8" y="141.4" width="12.9" height="12.9" fill="url(#nz)"/><rect x="579.0" y="138.4" width="15" height="15" fill="#f08a20"/><rect x="580.0" y="139.5" width="12.9" height="12.9" fill="#a9a5a3"/><rect x="606.1" y="138.4" width="15" height="15" fill="#1e8a8a"/><rect x="607.1" y="139.5" width="12.9" height="12.9" fill="#a19d9c"/><rect x="607.1" y="139.5" width="12.9" height="12.9" fill="url(#nz)"/><rect x="541.5" y="147.8" width="15" height="15" fill="#1e8a8a"/><rect x="542.5" y="148.9" width="12.9" height="12.9" fill="#a19d9c"/><rect x="542.5" y="148.9" width="12.9" height="12.9" fill="url(#nz)"/><rect x="549.4" y="143.5" width="15" height="15" fill="#4cc83c"/><use href="#streak" x="550.4" y="144.6" width="12.9" height="12.9"/><rect x="550.4" y="144.6" width="12.9" height="12.9" fill="url(#nz)"/><rect x="564.0" y="145.4" width="15" height="15" fill="#ffc0cb"/><rect x="565.0" y="146.5" width="12.9" height="12.9" fill="#aaa6a5"/><rect x="565.0" y="146.5" width="12.9" height="12.9" fill="url(#nz)"/><rect x="579.6" y="148.7" width="15" height="15" fill="#ffc0cb"/><rect x="580.6" y="149.8" width="12.9" height="12.9" fill="#aaa6a5"/><rect x="580.6" y="149.8" width="12.9" height="12.9" fill="url(#nz)"/><rect x="594.9" y="148.7" width="15" height="15" fill="#1e8a8a"/><use href="#ring" x="595.9" y="149.8" width="12.9" height="12.9"/><rect x="529.4" y="175.3" width="15" height="15" fill="#4cc83c"/><use href="#streak" x="530.4" y="176.4" width="12.9" height="12.9"/><rect x="530.4" y="176.4" width="12.9" height="12.9" fill="url(#nz)"/><rect x="561.2" y="174.0" width="15" height="15" fill="#ffc0cb"/><rect x="562.2" y="175.1" width="12.9" height="12.9" fill="#aaa6a5"/><rect x="562.2" y="175.1" width="12.9" height="12.9" fill="url(#nz)"/><rect x="553.7" y="168.4" width="15" height="15" fill="#1e8a8a"/><use href="#ring" x="554.8" y="169.5" width="12.9" height="12.9"/><rect x="555.6" y="179.6" width="15" height="15" fill="#4cc83c"/><use href="#streak" x="556.6" y="180.7" width="12.9" height="12.9"/><rect x="556.6" y="180.7" width="12.9" height="12.9" fill="url(#nz)"/><rect x="578.1" y="163.7" width="15" height="15" fill="#1e8a8a"/><rect x="579.1" y="164.8" width="12.9" height="12.9" fill="#a19d9c"/><rect x="579.1" y="164.8" width="12.9" height="12.9" fill="url(#nz)"/><rect x="574.7" y="169.3" width="15" height="15" fill="#ffc0cb"/><rect x="575.8" y="170.4" width="12.9" height="12.9" fill="#aaa6a5"/><rect x="575.8" y="170.4" width="12.9" height="12.9" fill="url(#nz)"/><rect x="589.3" y="160.0" width="15" height="15" fill="#4cc83c"/><use href="#streak" x="590.3" y="161.1" width="12.9" height="12.9"/><rect x="590.3" y="161.1" width="12.9" height="12.9" fill="url(#nz)"/><rect x="595.8" y="158.1" width="15" height="15" fill="#4cc83c"/><use href="#streak" x="596.8" y="159.2" width="12.9" height="12.9"/><rect x="596.8" y="159.2" width="12.9" height="12.9" fill="url(#nz)"/><rect x="611.8" y="157.7" width="15" height="15" fill="#4cc83c"/><use href="#streak" x="612.8" y="158.8" width="12.9" height="12.9"/><rect x="612.8" y="158.8" width="12.9" height="12.9" fill="url(#nz)"/><rect x="598.1" y="169.1" width="15" height="15" fill="#dc0035"/><use href="#photo2" x="599.1" y="170.2" width="12.9" height="12.9"/><rect x="581.8" y="170.3" width="15" height="15" fill="#5bd7f8"/><use href="#photo" x="582.8" y="171.4" width="12.9" height="12.9"/><rect x="592.1" y="178.7" width="15" height="15" fill="#5bd7f8"/><use href="#photo" x="593.1" y="179.8" width="12.9" height="12.9"/><rect x="580.3" y="181.2" width="15" height="15" fill="#dc0035"/><use href="#dark" x="581.3" y="182.2" width="12.9" height="12.9"/><rect x="545.3" y="187.1" width="15" height="15" fill="#1e8a8a"/><rect x="546.3" y="188.2" width="12.9" height="12.9" fill="#a19d9c"/><rect x="546.3" y="188.2" width="12.9" height="12.9" fill="url(#nz)"/><rect x="613.6" y="173.1" width="15" height="15" fill="#4cc83c"/><use href="#streak" x="614.6" y="174.2" width="12.9" height="12.9"/><rect x="614.6" y="174.2" width="12.9" height="12.9" fill="url(#nz)"/><rect x="598.7" y="191.8" width="15" height="15" fill="#1e8a8a"/><use href="#ring" x="599.8" y="192.9" width="12.9" height="12.9"/><rect x="569.6" y="194.6" width="15" height="15" fill="#ffc0cb"/><use href="#bw" x="570.6" y="195.7" width="12.9" height="12.9"/><rect x="615.0" y="191.3" width="15" height="15" fill="#dc0035"/><use href="#photo2" x="616.0" y="192.4" width="12.9" height="12.9"/><rect x="546.2" y="203.0" width="15" height="15" fill="#1e8a8a"/><rect x="547.2" y="204.1" width="12.9" height="12.9" fill="#a19d9c"/><rect x="547.2" y="204.1" width="12.9" height="12.9" fill="url(#nz)"/><rect x="557.5" y="196.5" width="15" height="15" fill="#1e8a8a"/><rect x="558.5" y="197.6" width="12.9" height="12.9" fill="#a19d9c"/><rect x="558.5" y="197.6" width="12.9" height="12.9" fill="url(#nz)"/><rect x="574.3" y="204.0" width="15" height="15" fill="#4cc83c"/><use href="#streak" x="575.3" y="205.1" width="12.9" height="12.9"/><rect x="575.3" y="205.1" width="12.9" height="12.9" fill="url(#nz)"/><rect x="594.9" y="205.8" width="15" height="15" fill="#dc0035"/><use href="#photo" x="595.9" y="206.9" width="12.9" height="12.9"/><rect x="585.5" y="191.8" width="15" height="15" fill="#1e8a8a"/><rect x="586.5" y="192.9" width="12.9" height="12.9" fill="#a19d9c"/><rect x="586.5" y="192.9" width="12.9" height="12.9" fill="url(#nz)"/><rect x="633.7" y="147.8" width="15" height="15" fill="#ffc0cb"/><use href="#bw" x="634.8" y="148.9" width="12.9" height="12.9"/><rect x="609.4" y="151.5" width="15" height="15" fill="#1e8a8a"/><rect x="610.4" y="152.6" width="12.9" height="12.9" fill="#a19d9c"/><rect x="610.4" y="152.6" width="12.9" height="12.9" fill="url(#nz)"/><rect x="621.5" y="181.5" width="15" height="15" fill="#dc0035"/><use href="#photo2" x="622.5" y="182.6" width="12.9" height="12.9"/><rect x="629.6" y="176.6" width="15" height="15" fill="#5bd7f8"/><use href="#photo3" x="630.6" y="177.7" width="12.9" height="12.9"/><rect x="651.1" y="180.6" width="15" height="15" fill="#5bd7f8"/><use href="#photo" x="652.1" y="181.7" width="12.9" height="12.9"/><rect x="631.5" y="196.5" width="15" height="15" fill="#1e8a8a"/><rect x="632.5" y="197.6" width="12.9" height="12.9" fill="#a19d9c"/><rect x="632.5" y="197.6" width="12.9" height="12.9" fill="url(#nz)"/><rect x="651.1" y="204.5" width="15" height="15" fill="#4cc83c"/><use href="#streak" x="652.1" y="205.6" width="12.9" height="12.9"/><rect x="652.1" y="205.6" width="12.9" height="12.9" fill="url(#nz)"/><rect x="608.4" y="199.3" width="15" height="15" fill="#1e8a8a"/><rect x="609.4" y="200.4" width="12.9" height="12.9" fill="#a19d9c"/><rect x="609.4" y="200.4" width="12.9" height="12.9" fill="url(#nz)"/><rect x="596.2" y="212.7" width="15" height="15" fill="#dc0035"/><rect x="597.2" y="213.8" width="12.9" height="12.9" fill="#a9a3a2"/><rect x="597.2" y="213.8" width="12.9" height="12.9" fill="url(#nz)"/><rect x="609.3" y="212.2" width="15" height="15" fill="#dc0035"/><use href="#photo" x="610.3" y="213.2" width="12.9" height="12.9"/><rect x="619.6" y="210.3" width="15" height="15" fill="#dc0035"/><use href="#dark" x="620.6" y="211.4" width="12.9" height="12.9"/><rect x="577.9" y="216.8" width="15" height="15" fill="#dc0035"/><use href="#photo3" x="578.9" y="217.9" width="12.9" height="12.9"/><rect x="609.3" y="223.4" width="15" height="15" fill="#dc0035"/><rect x="610.3" y="224.5" width="12.9" height="12.9" fill="#a9a3a2"/><rect x="610.3" y="224.5" width="12.9" height="12.9" fill="url(#nz)"/><rect x="597.2" y="227.2" width="15" height="15" fill="#ffc0cb"/><use href="#bw" x="598.2" y="228.2" width="12.9" height="12.9"/><rect x="624.3" y="222.8" width="15" height="15" fill="#5bd7f8"/><use href="#photo3" x="625.3" y="223.9" width="12.9" height="12.9"/><rect x="650.0" y="221.9" width="15" height="15" fill="#5bd7f8"/><use href="#dark" x="651.0" y="223.0" width="12.9" height="12.9"/><rect x="671.1" y="230.3" width="15" height="15" fill="#5bd7f8"/><use href="#photo" x="672.1" y="231.4" width="12.9" height="12.9"/><rect x="585.9" y="234.6" width="15" height="15" fill="#1e8a8a"/><use href="#fine" x="586.9" y="235.7" width="12.9" height="12.9"/><rect x="595.3" y="234.6" width="15" height="15" fill="#1e8a8a"/><rect x="596.3" y="235.7" width="12.9" height="12.9" fill="#a19d9c"/><rect x="596.3" y="235.7" width="12.9" height="12.9" fill="url(#nz)"/><rect x="619.6" y="237.1" width="15" height="15" fill="#1e8a8a"/><rect x="620.6" y="238.2" width="12.9" height="12.9" fill="#a19d9c"/><rect x="620.6" y="238.2" width="12.9" height="12.9" fill="url(#nz)"/><rect x="618.7" y="245.9" width="15" height="15" fill="#1e8a8a"/><use href="#fine" x="619.8" y="247.0" width="12.9" height="12.9"/><rect x="630.9" y="244.9" width="15" height="15" fill="#1e8a8a"/><rect x="631.9" y="246.0" width="12.9" height="12.9" fill="#a19d9c"/><rect x="631.9" y="246.0" width="12.9" height="12.9" fill="url(#nz)"/><rect x="585.0" y="246.4" width="15" height="15" fill="#1e8a8a"/><rect x="586.0" y="247.5" width="12.9" height="12.9" fill="#a19d9c"/><rect x="586.0" y="247.5" width="12.9" height="12.9" fill="url(#nz)"/><rect x="606.5" y="250.2" width="15" height="15" fill="#1e8a8a"/><rect x="607.5" y="251.2" width="12.9" height="12.9" fill="#a19d9c"/><rect x="607.5" y="251.2" width="12.9" height="12.9" fill="url(#nz)"/><rect x="630.0" y="255.2" width="15" height="15" fill="#1e8a8a"/><rect x="631.0" y="256.2" width="12.9" height="12.9" fill="#a19d9c"/><rect x="631.0" y="256.2" width="12.9" height="12.9" fill="url(#nz)"/><rect x="600.9" y="258.1" width="15" height="15" fill="#1e8a8a"/><use href="#ring" x="601.9" y="259.2" width="12.9" height="12.9"/><rect x="615.9" y="259.0" width="15" height="15" fill="#1e8a8a"/><rect x="616.9" y="260.1" width="12.9" height="12.9" fill="#a19d9c"/><rect x="616.9" y="260.1" width="12.9" height="12.9" fill="url(#nz)"/><rect x="585.0" y="260.0" width="15" height="15" fill="#1e8a8a"/><rect x="586.0" y="261.1" width="12.9" height="12.9" fill="#a19d9c"/><rect x="586.0" y="261.1" width="12.9" height="12.9" fill="url(#nz)"/><rect x="596.2" y="272.1" width="15" height="15" fill="#1e8a8a"/><rect x="597.2" y="273.2" width="12.9" height="12.9" fill="#a19d9c"/><rect x="597.2" y="273.2" width="12.9" height="12.9" fill="url(#nz)"/><rect x="611.2" y="266.5" width="15" height="15" fill="#1e8a8a"/><rect x="612.2" y="267.6" width="12.9" height="12.9" fill="#a19d9c"/><rect x="612.2" y="267.6" width="12.9" height="12.9" fill="url(#nz)"/><rect x="618.7" y="273.0" width="15" height="15" fill="#1e8a8a"/><rect x="619.8" y="274.1" width="12.9" height="12.9" fill="#a19d9c"/><rect x="619.8" y="274.1" width="12.9" height="12.9" fill="url(#nz)"/><rect x="512.0" y="192.0" width="15" height="15" fill="#4cc83c"/><use href="#streak" x="513.0" y="193.1" width="12.9" height="12.9"/><rect x="513.0" y="193.1" width="12.9" height="12.9" fill="url(#nz)"/><rect x="546.0" y="193.0" width="15" height="15" fill="#1e8a8a"/><rect x="547.0" y="194.1" width="12.9" height="12.9" fill="#a19d9c"/><rect x="547.0" y="194.1" width="12.9" height="12.9" fill="url(#nz)"/><rect x="499.4" y="209.4" width="15" height="15" fill="#1e8a8a"/><rect x="500.4" y="210.5" width="12.9" height="12.9" fill="#a19d9c"/><rect x="500.4" y="210.5" width="12.9" height="12.9" fill="url(#nz)"/><rect x="510.6" y="214.6" width="15" height="15" fill="#1e8a8a"/><rect x="511.7" y="215.7" width="12.9" height="12.9" fill="#a19d9c"/><rect x="511.7" y="215.7" width="12.9" height="12.9" fill="url(#nz)"/><rect x="501.6" y="220.6" width="15" height="15" fill="#1e8a8a"/><rect x="502.7" y="221.7" width="12.9" height="12.9" fill="#a19d9c"/><rect x="502.7" y="221.7" width="12.9" height="12.9" fill="url(#nz)"/><rect x="529.3" y="207.9" width="15" height="15" fill="#1e8a8a"/><rect x="530.3" y="209.0" width="12.9" height="12.9" fill="#a19d9c"/><rect x="530.3" y="209.0" width="12.9" height="12.9" fill="url(#nz)"/><rect x="538.7" y="207.1" width="15" height="15" fill="#1e8a8a"/><rect x="539.8" y="208.2" width="12.9" height="12.9" fill="#a19d9c"/><rect x="539.8" y="208.2" width="12.9" height="12.9" fill="url(#nz)"/><rect x="546.2" y="202.8" width="15" height="15" fill="#1e8a8a"/><rect x="547.2" y="203.9" width="12.9" height="12.9" fill="#a19d9c"/><rect x="547.2" y="203.9" width="12.9" height="12.9" fill="url(#nz)"/><rect x="562.1" y="207.9" width="15" height="15" fill="#1e8a8a"/><rect x="563.1" y="209.0" width="12.9" height="12.9" fill="#a19d9c"/><rect x="563.1" y="209.0" width="12.9" height="12.9" fill="url(#nz)"/><rect x="551.8" y="215.0" width="15" height="15" fill="#1e8a8a"/><rect x="552.8" y="216.1" width="12.9" height="12.9" fill="#a19d9c"/><rect x="552.8" y="216.1" width="12.9" height="12.9" fill="url(#nz)"/><rect x="530.3" y="219.7" width="15" height="15" fill="#dc0035"/><rect x="531.3" y="220.8" width="12.9" height="12.9" fill="#a9a3a2"/><rect x="531.3" y="220.8" width="12.9" height="12.9" fill="url(#nz)"/><rect x="543.4" y="219.7" width="15" height="15" fill="#1e8a8a"/><rect x="544.4" y="220.8" width="12.9" height="12.9" fill="#a19d9c"/><rect x="544.4" y="220.8" width="12.9" height="12.9" fill="url(#nz)"/><rect x="552.7" y="222.8" width="15" height="15" fill="#1e8a8a"/><use href="#pin" x="553.8" y="223.9" width="12.9" height="12.9"/><rect x="564.9" y="230.0" width="15" height="15" fill="#1e8a8a"/><rect x="565.9" y="231.1" width="12.9" height="12.9" fill="#a19d9c"/><rect x="565.9" y="231.1" width="12.9" height="12.9" fill="url(#nz)"/><rect x="559.3" y="232.8" width="15" height="15" fill="#1e8a8a"/><rect x="560.3" y="233.9" width="12.9" height="12.9" fill="#a19d9c"/><rect x="560.3" y="233.9" width="12.9" height="12.9" fill="url(#nz)"/><rect x="507.8" y="231.8" width="15" height="15" fill="#ffc0cb"/><rect x="508.9" y="232.9" width="12.9" height="12.9" fill="#aaa6a5"/><rect x="508.9" y="232.9" width="12.9" height="12.9" fill="url(#nz)"/><rect x="488.5" y="235.6" width="15" height="15" fill="#1e8a8a"/><rect x="489.6" y="236.7" width="12.9" height="12.9" fill="#a19d9c"/><rect x="489.6" y="236.7" width="12.9" height="12.9" fill="url(#nz)"/><rect x="526.5" y="233.3" width="15" height="15" fill="#1e8a8a"/><rect x="527.5" y="234.4" width="12.9" height="12.9" fill="#a19d9c"/><rect x="527.5" y="234.4" width="12.9" height="12.9" fill="url(#nz)"/><rect x="544.3" y="242.1" width="15" height="15" fill="#1e8a8a"/><rect x="545.3" y="243.2" width="12.9" height="12.9" fill="#a19d9c"/><rect x="545.3" y="243.2" width="12.9" height="12.9" fill="url(#nz)"/><rect x="540.6" y="245.0" width="15" height="15" fill="#1e8a8a"/><rect x="541.6" y="246.1" width="12.9" height="12.9" fill="#a19d9c"/><rect x="541.6" y="246.1" width="12.9" height="12.9" fill="url(#nz)"/><rect x="520.0" y="246.8" width="15" height="15" fill="#1e8a8a"/><use href="#ring" x="521.0" y="247.9" width="12.9" height="12.9"/><rect x="512.5" y="249.1" width="15" height="15" fill="#1e8a8a"/><rect x="513.5" y="250.2" width="12.9" height="12.9" fill="#a19d9c"/><rect x="513.5" y="250.2" width="12.9" height="12.9" fill="url(#nz)"/><rect x="533.4" y="246.8" width="15" height="15" fill="#1e8a8a"/><use href="#pin" x="534.4" y="247.9" width="12.9" height="12.9"/><rect x="547.1" y="249.1" width="15" height="15" fill="#1e8a8a"/><rect x="548.1" y="250.2" width="12.9" height="12.9" fill="#a19d9c"/><rect x="548.1" y="250.2" width="12.9" height="12.9" fill="url(#nz)"/><rect x="572.4" y="245.0" width="15" height="15" fill="#1e8a8a"/><rect x="573.4" y="246.1" width="12.9" height="12.9" fill="#a19d9c"/><rect x="573.4" y="246.1" width="12.9" height="12.9" fill="url(#nz)"/><rect x="499.7" y="255.8" width="15" height="15" fill="#1e8a8a"/><use href="#star" x="500.8" y="256.9" width="12.9" height="12.9"/><rect x="517.7" y="259.9" width="15" height="15" fill="#1e8a8a"/><rect x="518.8" y="260.9" width="12.9" height="12.9" fill="#a19d9c"/><rect x="518.8" y="260.9" width="12.9" height="12.9" fill="url(#nz)"/><rect x="570.5" y="258.1" width="15" height="15" fill="#1e8a8a"/><use href="#ring" x="571.5" y="259.2" width="12.9" height="12.9"/><rect x="534.0" y="256.2" width="15" height="15" fill="#1e8a8a"/><rect x="535.0" y="257.2" width="12.9" height="12.9" fill="#a19d9c"/><rect x="535.0" y="257.2" width="12.9" height="12.9" fill="url(#nz)"/><rect x="539.6" y="265.5" width="15" height="15" fill="#1e8a8a"/><rect x="540.6" y="266.6" width="12.9" height="12.9" fill="#a19d9c"/><rect x="540.6" y="266.6" width="12.9" height="12.9" fill="url(#nz)"/><rect x="561.2" y="266.5" width="15" height="15" fill="#1e8a8a"/><rect x="562.2" y="267.6" width="12.9" height="12.9" fill="#a19d9c"/><rect x="562.2" y="267.6" width="12.9" height="12.9" fill="url(#nz)"/><rect x="485.8" y="263.3" width="15" height="15" fill="#ffc0cb"/><rect x="486.9" y="264.4" width="12.9" height="12.9" fill="#aaa6a5"/><rect x="486.9" y="264.4" width="12.9" height="12.9" fill="url(#nz)"/><rect x="502.2" y="272.1" width="15" height="15" fill="#1e8a8a"/><rect x="503.2" y="273.2" width="12.9" height="12.9" fill="#a19d9c"/><rect x="503.2" y="273.2" width="12.9" height="12.9" fill="url(#nz)"/><rect x="518.1" y="274.9" width="15" height="15" fill="#1e8a8a"/><rect x="519.1" y="275.9" width="12.9" height="12.9" fill="#a19d9c"/><rect x="519.1" y="275.9" width="12.9" height="12.9" fill="url(#nz)"/><rect x="532.0" y="265.5" width="15" height="15" fill="#1e8a8a"/><rect x="533.0" y="266.6" width="12.9" height="12.9" fill="#a19d9c"/><rect x="533.0" y="266.6" width="12.9" height="12.9" fill="url(#nz)"/><rect x="447.8" y="176.9" width="15" height="15" fill="#f2c828"/><rect x="448.9" y="178.0" width="12.9" height="12.9" fill="#a8b088"/><rect x="459.9" y="174.0" width="15" height="15" fill="#f2c828"/><rect x="460.9" y="175.1" width="12.9" height="12.9" fill="#c0b098"/><rect x="422.1" y="182.8" width="15" height="15" fill="#f08a20"/><rect x="423.2" y="183.9" width="12.9" height="12.9" fill="#a9a5a3"/><rect x="431.8" y="186.2" width="15" height="15" fill="#f08a20"/><rect x="432.9" y="187.2" width="12.9" height="12.9" fill="#a9a5a3"/><rect x="475.5" y="182.1" width="15" height="15" fill="#f08a20"/><rect x="476.6" y="183.2" width="12.9" height="12.9" fill="#a9a5a3"/><rect x="398.0" y="180.0" width="15" height="15" fill="#8a3090"/><rect x="399.1" y="181.1" width="12.9" height="12.9" fill="#b3aba8"/><rect x="407.5" y="187.2" width="2.5" height="0.5" fill="#7a7070"/><rect x="451.5" y="192.2" width="15" height="15" fill="#f2c828"/><rect x="452.6" y="193.2" width="12.9" height="12.9" fill="#80b890"/><rect x="471.2" y="192.8" width="15" height="15" fill="#ffc0cb"/><rect x="472.2" y="193.9" width="12.9" height="12.9" fill="#aaa6a5"/><rect x="472.2" y="193.9" width="12.9" height="12.9" fill="url(#nz)"/><rect x="440.3" y="198.4" width="15" height="15" fill="#1e8a8a"/><use href="#ring" x="441.4" y="199.5" width="12.9" height="12.9"/><rect x="399.0" y="200.3" width="15" height="15" fill="#8a3090"/><rect x="400.1" y="201.4" width="12.9" height="12.9" fill="#b3aba8"/><rect x="408.5" y="207.5" width="2.5" height="0.5" fill="#7a7070"/><rect x="418.4" y="201.2" width="15" height="15" fill="#f2c828"/><rect x="419.4" y="202.2" width="12.9" height="12.9" fill="#d0a8a0"/><rect x="438.4" y="208.3" width="15" height="15" fill="#8a3090"/><rect x="439.4" y="209.4" width="12.9" height="12.9" fill="#b3aba8"/><rect x="447.9" y="215.5" width="2.5" height="0.5" fill="#7a7070"/><rect x="447.8" y="213.4" width="15" height="15" fill="#f2c828"/><rect x="448.9" y="214.5" width="12.9" height="12.9" fill="#d8a0c0"/><rect x="466.5" y="207.8" width="15" height="15" fill="#f2c828"/><rect x="467.6" y="208.9" width="12.9" height="12.9" fill="#90a8c8"/><rect x="403.7" y="216.2" width="15" height="15" fill="#f2c828"/><rect x="404.8" y="217.2" width="12.9" height="12.9" fill="#b0b088"/><rect x="419.7" y="228.4" width="15" height="15" fill="#f2c828"/><rect x="420.8" y="229.5" width="12.9" height="12.9" fill="#d8a0c0"/><rect x="421.0" y="220.3" width="15" height="15" fill="#f08a20"/><rect x="422.1" y="221.4" width="12.9" height="12.9" fill="#a9a5a3"/><rect x="443.4" y="236.4" width="15" height="15" fill="#1e8a8a"/><use href="#pin" x="444.4" y="237.5" width="12.9" height="12.9"/><rect x="460.9" y="233.6" width="15" height="15" fill="#f08a20"/><rect x="461.9" y="234.7" width="12.9" height="12.9" fill="#a9a5a3"/><rect x="374.6" y="179.4" width="15" height="15" fill="#8a3090"/><rect x="375.7" y="180.5" width="12.9" height="12.9" fill="#b3aba8"/><rect x="384.1" y="186.6" width="2.5" height="0.5" fill="#7a7070"/><rect x="360.0" y="186.5" width="15" height="15" fill="#8a3090"/><rect x="361.1" y="187.6" width="12.9" height="12.9" fill="#b3aba8"/><rect x="369.5" y="193.7" width="2.5" height="0.5" fill="#7a7070"/><rect x="368.4" y="198.5" width="15" height="15" fill="#8a3090"/><rect x="369.4" y="199.6" width="12.9" height="12.9" fill="#b3aba8"/><rect x="377.9" y="205.7" width="2.5" height="0.5" fill="#7a7070"/><rect x="363.2" y="208.4" width="15" height="15" fill="#8a3090"/><rect x="364.2" y="209.5" width="12.9" height="12.9" fill="#b3aba8"/><rect x="372.7" y="215.6" width="2.5" height="0.5" fill="#7a7070"/><rect x="374.4" y="217.4" width="15" height="15" fill="#8a3090"/><rect x="375.4" y="218.5" width="12.9" height="12.9" fill="#b3aba8"/><rect x="383.9" y="224.6" width="2.5" height="0.5" fill="#7a7070"/><rect x="367.5" y="226.6" width="15" height="15" fill="#8a3090"/><rect x="368.6" y="227.7" width="12.9" height="12.9" fill="#b3aba8"/><rect x="377.0" y="233.8" width="2.5" height="0.5" fill="#7a7070"/><rect x="442.7" y="249.1" width="15" height="15" fill="#1e8a8a"/><use href="#pin" x="443.8" y="250.2" width="12.9" height="12.9"/><rect x="472.1" y="247.8" width="15" height="15" fill="#f08a20"/><rect x="473.2" y="248.9" width="12.9" height="12.9" fill="#a9a5a3"/><rect x="436.5" y="266.0" width="15" height="15" fill="#ffc0cb"/><rect x="437.6" y="267.1" width="12.9" height="12.9" fill="#aaa6a5"/><rect x="437.6" y="267.1" width="12.9" height="12.9" fill="url(#nz)"/><rect x="454.3" y="263.3" width="15" height="15" fill="#ffc0cb"/><rect x="455.4" y="264.4" width="12.9" height="12.9" fill="#aaa6a5"/><rect x="455.4" y="264.4" width="12.9" height="12.9" fill="url(#nz)"/><rect x="449.1" y="268.4" width="15" height="15" fill="#f08a20"/><rect x="450.2" y="269.4" width="12.9" height="12.9" fill="#a9a5a3"/><rect x="449.1" y="282.8" width="15" height="15" fill="#1e8a8a"/><use href="#zebra" x="450.2" y="283.9" width="12.9" height="12.9"/><rect x="467.8" y="289.9" width="15" height="15" fill="#f2c828"/><rect x="468.9" y="290.9" width="12.9" height="12.9" fill="#d8a0c0"/><rect x="477.2" y="289.0" width="15" height="15" fill="#f08a20"/><rect x="478.2" y="290.1" width="12.9" height="12.9" fill="#a9a5a3"/><rect x="478.3" y="302.1" width="15" height="15" fill="#1e8a8a"/><use href="#pin" x="479.4" y="303.2" width="12.9" height="12.9"/><rect x="516.8" y="268.0" width="15" height="15" fill="#1e8a8a"/><rect x="517.8" y="269.1" width="12.9" height="12.9" fill="#a19d9c"/><rect x="517.8" y="269.1" width="12.9" height="12.9" fill="url(#nz)"/><rect x="532.7" y="263.0" width="15" height="15" fill="#1e8a8a"/><use href="#pin" x="533.8" y="264.1" width="12.9" height="12.9"/><rect x="508.4" y="285.0" width="15" height="15" fill="#1e8a8a"/><use href="#pin" x="509.4" y="286.1" width="12.9" height="12.9"/><rect x="526.2" y="284.0" width="15" height="15" fill="#1e8a8a"/><use href="#pin" x="527.2" y="285.1" width="12.9" height="12.9"/><rect x="541.2" y="280.3" width="15" height="15" fill="#1e8a8a"/><rect x="542.2" y="281.4" width="12.9" height="12.9" fill="#a19d9c"/><rect x="542.2" y="281.4" width="12.9" height="12.9" fill="url(#nz)"/><rect x="551.5" y="280.9" width="15" height="15" fill="#1e8a8a"/><rect x="552.5" y="281.9" width="12.9" height="12.9" fill="#a19d9c"/><rect x="552.5" y="281.9" width="12.9" height="12.9" fill="url(#nz)"/><rect x="497.2" y="288.7" width="15" height="15" fill="#1e8a8a"/><use href="#ring" x="498.2" y="289.8" width="12.9" height="12.9"/><rect x="496.8" y="302.2" width="15" height="15" fill="#1e8a8a"/><use href="#star" x="497.9" y="303.2" width="12.9" height="12.9"/><rect x="514.0" y="303.3" width="15" height="15" fill="#1e8a8a"/><use href="#star" x="515.0" y="304.4" width="12.9" height="12.9"/><rect x="536.5" y="294.3" width="15" height="15" fill="#1e8a8a"/><use href="#pin" x="537.5" y="295.4" width="12.9" height="12.9"/><rect x="530.3" y="299.0" width="15" height="15" fill="#1e8a8a"/><rect x="531.3" y="300.1" width="12.9" height="12.9" fill="#a19d9c"/><rect x="531.3" y="300.1" width="12.9" height="12.9" fill="url(#nz)"/><rect x="548.3" y="300.9" width="15" height="15" fill="#1e8a8a"/><use href="#pin" x="549.3" y="301.9" width="12.9" height="12.9"/><rect x="561.8" y="306.5" width="15" height="15" fill="#1e8a8a"/><rect x="562.8" y="307.6" width="12.9" height="12.9" fill="#a19d9c"/><rect x="562.8" y="307.6" width="12.9" height="12.9" fill="url(#nz)"/><rect x="480.3" y="314.9" width="15" height="15" fill="#1e8a8a"/><use href="#pin" x="481.4" y="315.9" width="12.9" height="12.9"/><rect x="492.1" y="314.9" width="15" height="15" fill="#1e8a8a"/><use href="#pin" x="493.2" y="315.9" width="12.9" height="12.9"/><rect x="539.7" y="307.5" width="15" height="15" fill="#1e8a8a"/><rect x="540.8" y="308.6" width="12.9" height="12.9" fill="#a19d9c"/><rect x="540.8" y="308.6" width="12.9" height="12.9" fill="url(#nz)"/><rect x="526.2" y="312.7" width="15" height="15" fill="#1e8a8a"/><use href="#ring" x="527.2" y="313.8" width="12.9" height="12.9"/><rect x="550.9" y="330.3" width="15" height="15" fill="#1e8a8a"/><use href="#star" x="551.9" y="331.4" width="12.9" height="12.9"/><rect x="564.6" y="324.3" width="15" height="15" fill="#1e8a8a"/><use href="#pin" x="565.6" y="325.4" width="12.9" height="12.9"/><rect x="606.4" y="258.0" width="15" height="15" fill="#1e8a8a"/><rect x="607.4" y="259.1" width="12.9" height="12.9" fill="#a19d9c"/><rect x="607.4" y="259.1" width="12.9" height="12.9" fill="url(#nz)"/><rect x="575.0" y="267.1" width="15" height="15" fill="#1e8a8a"/><rect x="576.0" y="268.2" width="12.9" height="12.9" fill="#a19d9c"/><rect x="576.0" y="268.2" width="12.9" height="12.9" fill="url(#nz)"/><rect x="582.5" y="272.7" width="15" height="15" fill="#1e8a8a"/><rect x="583.5" y="273.8" width="12.9" height="12.9" fill="#a19d9c"/><rect x="583.5" y="273.8" width="12.9" height="12.9" fill="url(#nz)"/><rect x="596.5" y="272.7" width="15" height="15" fill="#1e8a8a"/><rect x="597.5" y="273.8" width="12.9" height="12.9" fill="#a19d9c"/><rect x="597.5" y="273.8" width="12.9" height="12.9" fill="url(#nz)"/><rect x="609.6" y="270.3" width="15" height="15" fill="#1e8a8a"/><rect x="610.6" y="271.4" width="12.9" height="12.9" fill="#a19d9c"/><rect x="610.6" y="271.4" width="12.9" height="12.9" fill="url(#nz)"/><rect x="555.0" y="280.6" width="15" height="15" fill="#1e8a8a"/><rect x="556.0" y="281.7" width="12.9" height="12.9" fill="#a19d9c"/><rect x="556.0" y="281.7" width="12.9" height="12.9" fill="url(#nz)"/><rect x="573.1" y="280.6" width="15" height="15" fill="#1e8a8a"/><use href="#pin" x="574.1" y="281.7" width="12.9" height="12.9"/><rect x="585.3" y="286.2" width="15" height="15" fill="#1e8a8a"/><rect x="586.3" y="287.2" width="12.9" height="12.9" fill="#a19d9c"/><rect x="586.3" y="287.2" width="12.9" height="12.9" fill="url(#nz)"/><rect x="592.8" y="286.2" width="15" height="15" fill="#1e8a8a"/><use href="#fine" x="593.8" y="287.2" width="12.9" height="12.9"/><rect x="571.2" y="288.7" width="15" height="15" fill="#f08a20"/><rect x="572.2" y="289.8" width="12.9" height="12.9" fill="#a9a5a3"/><rect x="585.3" y="293.7" width="15" height="15" fill="#1e8a8a"/><rect x="586.3" y="294.8" width="12.9" height="12.9" fill="#a19d9c"/><rect x="586.3" y="294.8" width="12.9" height="12.9" fill="url(#nz)"/><rect x="597.5" y="296.1" width="15" height="15" fill="#1e8a8a"/><rect x="598.5" y="297.2" width="12.9" height="12.9" fill="#a19d9c"/><rect x="598.5" y="297.2" width="12.9" height="12.9" fill="url(#nz)"/><rect x="605.9" y="299.9" width="15" height="15" fill="#1e8a8a"/><rect x="606.9" y="300.9" width="12.9" height="12.9" fill="#a19d9c"/><rect x="606.9" y="300.9" width="12.9" height="12.9" fill="url(#nz)"/><rect x="647.1" y="291.8" width="15" height="15" fill="#1e8a8a"/><rect x="648.1" y="292.9" width="12.9" height="12.9" fill="#a19d9c"/><rect x="648.1" y="292.9" width="12.9" height="12.9" fill="url(#nz)"/><rect x="569.4" y="302.1" width="15" height="15" fill="#1e8a8a"/><use href="#fine" x="570.4" y="303.2" width="12.9" height="12.9"/><rect x="582.5" y="305.9" width="15" height="15" fill="#1e8a8a"/><use href="#fine" x="583.5" y="306.9" width="12.9" height="12.9"/><rect x="561.9" y="306.4" width="15" height="15" fill="#1e8a8a"/><rect x="562.9" y="307.4" width="12.9" height="12.9" fill="#a19d9c"/><rect x="562.9" y="307.4" width="12.9" height="12.9" fill="url(#nz)"/><rect x="574.6" y="315.8" width="15" height="15" fill="#1e8a8a"/><rect x="575.6" y="316.9" width="12.9" height="12.9" fill="#a19d9c"/><rect x="575.6" y="316.9" width="12.9" height="12.9" fill="url(#nz)"/><rect x="525.6" y="194.6" width="15" height="15" fill="#dc0035"/><rect x="526.6" y="195.7" width="12.9" height="12.9" fill="#a9a3a2"/><rect x="526.6" y="195.7" width="12.9" height="12.9" fill="url(#nz)"/></g>
<rect x="36.8" y="357.3" width="16" height="6.3" fill="#5bd7f8"/>
<rect x="36.8" y="373.8" width="16" height="6.3" fill="#dc0035"/>
<text x="60" y="365">Natural scenes</text>
<text x="60" y="380">Manipulated scenes</text>
<line x1="36.6" y1="391.3" x2="172.3" y2="391.3" stroke="#666" stroke-width="1"/>
<text x="104.5" y="409" text-anchor="middle">NSD-synthetic</text>
<text x="104.5" y="424" text-anchor="middle">scene image classes</text>
<rect x="204.8" y="357.3" width="16" height="6.3" fill="#f58000"/>
<rect x="204.8" y="373.8" width="16" height="6.3" fill="#3cd800"/>
<text x="227.5" y="365">Contrast modulation</text>
<text x="227.5" y="380">Phase-coherence modulation</text>
<rect x="419.3" y="357.3" width="16" height="6.3" fill="#ffc0cb"/>
<rect x="419.3" y="373.8" width="16" height="6.3" fill="#800080"/>
<text x="442" y="365">Noise</text>
<text x="442.5" y="380">Single words</text>
<rect x="542.6" y="357.3" width="16" height="6.3" fill="#007f7a"/>
<rect x="542.6" y="373.8" width="16" height="6.3" fill="#ffd700"/>
<text x="565.5" y="364">Spiral gratings</text>
<text x="565.5" y="381.5">Chromatic noise</text>
<line x1="204.8" y1="391.3" x2="657" y2="391.3" stroke="#666" stroke-width="1"/>
<text x="431" y="408.7" text-anchor="middle">NSD-synthetic</text>
<text x="431" y="423.9" text-anchor="middle">artificial image classes</text>
</svg>
</body></html>
